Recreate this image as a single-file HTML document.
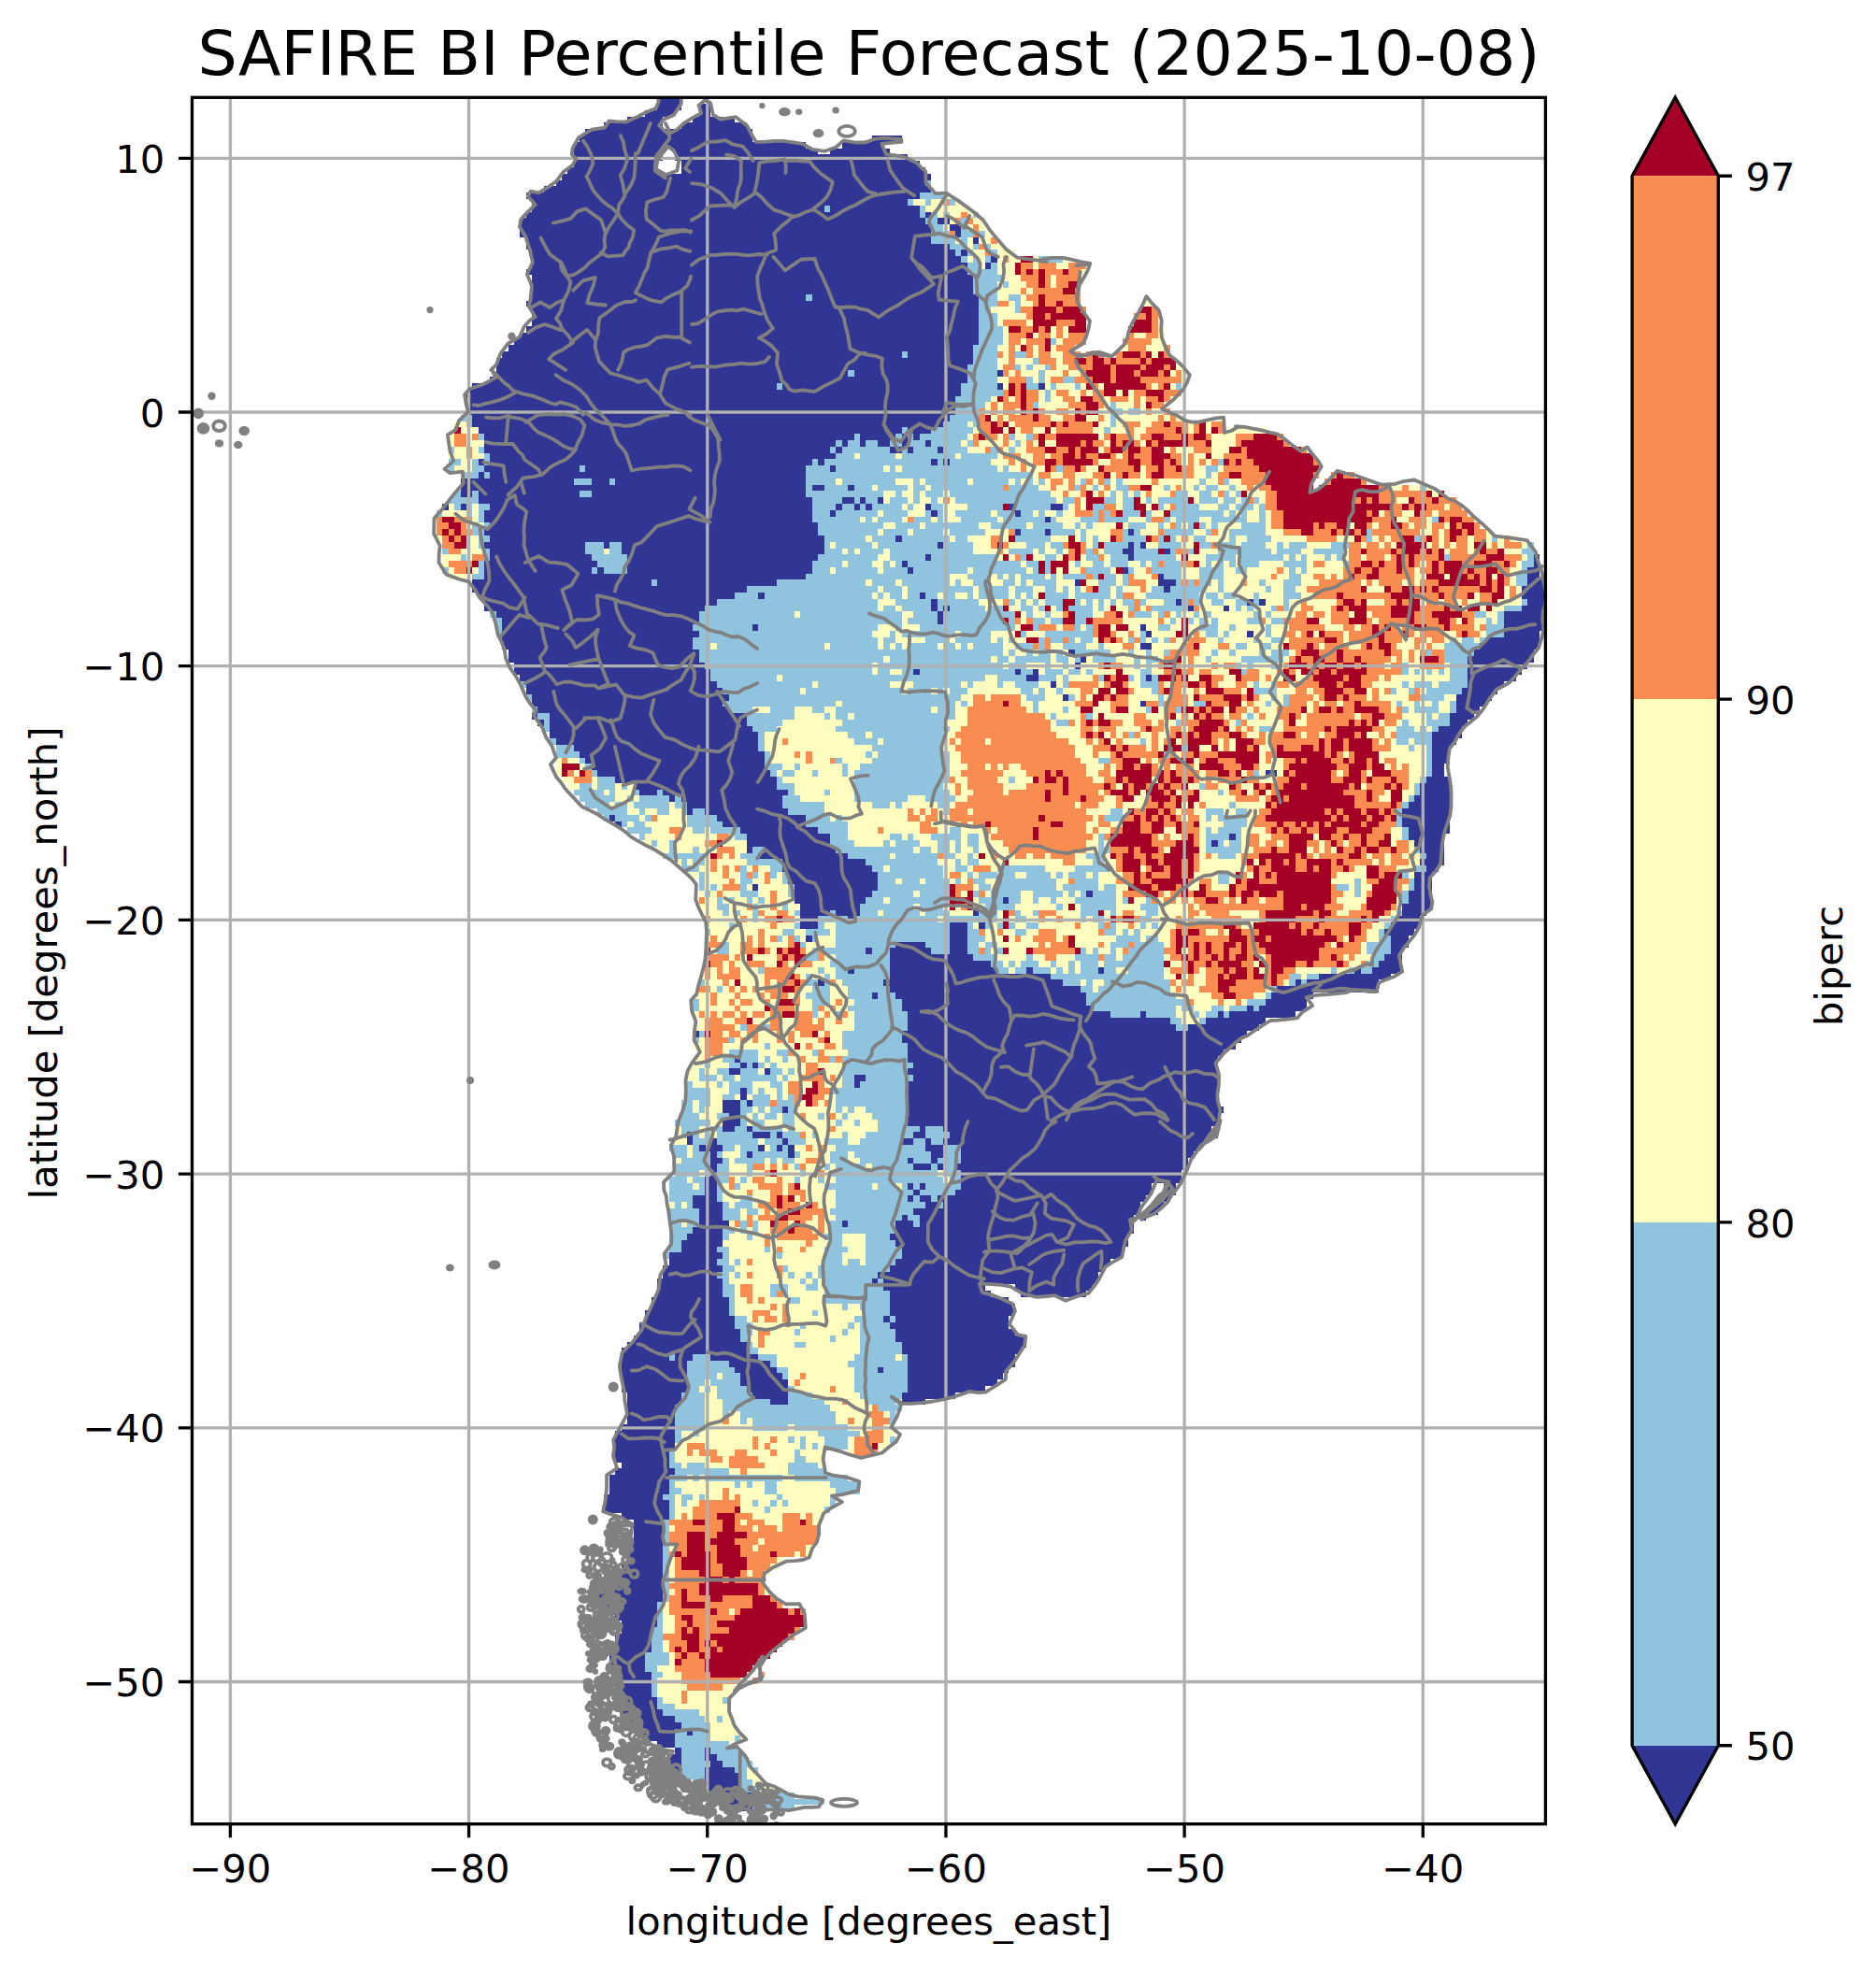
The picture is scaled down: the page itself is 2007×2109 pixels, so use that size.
<!DOCTYPE html>
<html lang="en"><head><meta charset="utf-8"><title>SAFIRE BI Percentile Forecast (2025-10-08)</title>
<style>html,body{margin:0;padding:0;background:#fff}body{width:2007px;height:2109px;overflow:hidden}svg{display:block}text{font-family:"DejaVu Sans","Liberation Sans",sans-serif;fill:#000}</style></head><body>
<svg width="2007" height="2109" viewBox="0 0 2007 2109">
<rect width="2007" height="2109" fill="#fff"/>
<defs><clipPath id="axclip"><rect x="205.50" y="104.30" width="1447.90" height="1847.40"/></clipPath></defs>
<g clip-path="url(#axclip)">
<g id="mesh"><g transform="translate(205.500 104.300) scale(6.37841 6.79191)" shape-rendering="crispEdges"><path fill="#313695" d="M78 0h4v1h-4zM78 1h4v1h-4zM85 1h2v1h-2zM76 2h5v1h-5zM85 2h2v1h-2zM73 3h6v1h-6zM84 3h7v1h-7zM69 4h10v1h-10zM82 4h11v1h-11zM66 5h28v1h-28zM65 6h29v1h-29zM114 6h5v1h-5zM64 7h39v1h-39zM109 7h7v1h-7zM64 8h15v1h-15zM81 8h24v1h-24zM107 8h10v1h-10zM64 9h15v1h-15zM81 9h39v1h-39zM64 10h14v1h-14zM82 10h40v1h-40zM63 11h15v1h-15zM82 11h41v1h-41zM62 12h62v1h-62zM61 13h62v1h-62zM59 14h65v1h-65zM56 15h66v1h-66zM57 16h63v1h-63zM57 17h49v1h-49zM107 17h15v1h-15zM56 18h66v1h-66zM123 18h1v1h-1zM55 19h68v1h-68zM125 19h2v1h-2zM55 20h69v1h-69zM127 20h2v1h-2zM55 21h69v1h-69zM128 21h1v1h-1zM56 22h68v1h-68zM131 22h1v1h-1zM56 23h71v1h-71zM57 24h71v1h-71zM129 24h1v1h-1zM57 25h72v1h-72zM134 25h1v1h-1zM57 26h73v1h-73zM133 26h1v1h-1zM56 27h74v1h-74zM57 28h74v1h-74zM57 29h74v1h-74zM57 30h74v1h-74zM57 31h46v1h-46zM104 31h28v1h-28zM56 32h76v1h-76zM57 33h75v1h-75zM57 34h75v1h-75zM57 35h75v1h-75zM56 36h76v1h-76zM55 37h77v1h-77zM54 38h78v1h-78zM53 39h78v1h-78zM52 40h67v1h-67zM120 40h11v1h-11zM51 41h80v1h-80zM51 42h79v1h-79zM51 43h59v1h-59zM111 43h19v1h-19zM135 43h1v1h-1zM50 44h80v1h-80zM47 45h51v1h-51zM99 45h30v1h-30zM135 45h1v1h-1zM142 45h1v1h-1zM46 46h83v1h-83zM46 47h82v1h-82zM46 48h82v1h-82zM46 49h82v1h-82zM47 50h80v1h-80zM47 51h79v1h-79zM48 52h71v1h-71zM120 52h4v1h-4zM49 53h62v1h-62zM112 53h6v1h-6zM119 53h1v1h-1zM121 53h1v1h-1zM49 54h59v1h-59zM109 54h1v1h-1zM112 54h1v1h-1zM115 54h2v1h-2zM119 54h1v1h-1zM123 54h1v1h-1zM49 55h58v1h-58zM108 55h1v1h-1zM117 55h2v1h-2zM120 55h1v1h-1zM125 55h1v1h-1zM50 56h58v1h-58zM48 57h1v1h-1zM50 57h54v1h-54zM105 57h1v1h-1zM124 57h1v1h-1zM126 57h1v1h-1zM49 58h16v1h-16zM66 58h37v1h-37zM107 58h1v1h-1zM48 59h1v1h-1zM50 59h53v1h-53zM45 60h19v1h-19zM67 60h3v1h-3zM71 60h32v1h-32zM45 61h58v1h-58zM104 61h2v1h-2zM110 61h1v1h-1zM45 62h2v1h-2zM48 62h17v1h-17zM67 62h36v1h-36zM48 63h56v1h-56zM109 63h2v1h-2zM112 63h1v1h-1zM115 63h1v1h-1zM42 64h1v1h-1zM45 64h1v1h-1zM50 64h54v1h-54zM108 64h1v1h-1zM111 64h1v1h-1zM113 64h1v1h-1zM123 64h1v1h-1zM137 64h1v1h-1zM144 64h2v1h-2zM49 65h55v1h-55zM107 65h1v1h-1zM124 65h1v1h-1zM138 65h1v1h-1zM49 66h55v1h-55zM143 66h1v1h-1zM50 67h55v1h-55zM49 68h56v1h-56zM138 68h1v1h-1zM143 68h1v1h-1zM157 68h1v1h-1zM50 69h56v1h-56zM118 69h1v1h-1zM49 70h17v1h-17zM69 70h1v1h-1zM72 70h34v1h-34zM125 70h1v1h-1zM157 70h1v1h-1zM159 70h1v1h-1zM50 71h16v1h-16zM72 71h34v1h-34zM156 71h2v1h-2zM163 71h1v1h-1zM50 72h17v1h-17zM73 72h32v1h-32zM123 72h1v1h-1zM157 72h1v1h-1zM225 72h1v1h-1zM49 73h19v1h-19zM73 73h31v1h-31zM119 73h1v1h-1zM225 73h1v1h-1zM49 74h18v1h-18zM68 74h1v1h-1zM73 74h31v1h-31zM120 74h1v1h-1zM156 74h1v1h-1zM224 74h2v1h-2zM49 75h54v1h-54zM162 75h1v1h-1zM224 75h2v1h-2zM47 76h30v1h-30zM78 76h20v1h-20zM148 76h1v1h-1zM162 76h3v1h-3zM224 76h3v1h-3zM47 77h46v1h-46zM163 77h1v1h-1zM223 77h4v1h-4zM48 78h43v1h-43zM95 78h1v1h-1zM122 78h1v1h-1zM223 78h4v1h-4zM49 79h39v1h-39zM124 79h1v1h-1zM165 79h1v1h-1zM177 79h1v1h-1zM179 79h1v1h-1zM224 79h3v1h-3zM49 80h37v1h-37zM124 80h1v1h-1zM126 80h1v1h-1zM167 80h1v1h-1zM173 80h1v1h-1zM223 80h4v1h-4zM51 81h34v1h-34zM125 81h1v1h-1zM220 81h7v1h-7zM52 82h33v1h-33zM125 82h1v1h-1zM220 82h7v1h-7zM52 83h32v1h-32zM94 83h1v1h-1zM159 83h1v1h-1zM220 83h7v1h-7zM52 84h33v1h-33zM160 84h1v1h-1zM177 84h1v1h-1zM220 84h6v1h-6zM52 85h32v1h-32zM217 85h9v1h-9zM52 86h32v1h-32zM159 86h2v1h-2zM216 86h10v1h-10zM53 87h32v1h-32zM147 87h1v1h-1zM215 87h10v1h-10zM53 88h32v1h-32zM149 88h1v1h-1zM214 88h11v1h-11zM54 89h32v1h-32zM148 89h1v1h-1zM214 89h10v1h-10zM54 90h33v1h-33zM121 90h1v1h-1zM138 90h1v1h-1zM141 90h1v1h-1zM214 90h9v1h-9zM55 91h32v1h-32zM140 91h2v1h-2zM160 91h1v1h-1zM214 91h8v1h-8zM56 92h32v1h-32zM144 92h1v1h-1zM214 92h6v1h-6zM56 93h33v1h-33zM213 93h6v1h-6zM57 94h33v1h-33zM146 94h1v1h-1zM212 94h6v1h-6zM57 95h32v1h-32zM159 95h1v1h-1zM212 95h5v1h-5zM58 96h32v1h-32zM212 96h4v1h-4zM57 97h1v1h-1zM60 97h33v1h-33zM211 97h4v1h-4zM58 98h1v1h-1zM60 98h33v1h-33zM211 98h3v1h-3zM60 99h34v1h-34zM209 99h4v1h-4zM60 100h35v1h-35zM208 100h5v1h-5zM61 101h34v1h-34zM208 101h4v1h-4zM64 102h31v1h-31zM208 102h3v1h-3zM65 103h31v1h-31zM208 103h3v1h-3zM66 104h30v1h-30zM208 104h3v1h-3zM67 105h29v1h-29zM208 105h2v1h-2zM68 106h29v1h-29zM180 106h2v1h-2zM208 106h2v1h-2zM71 107h27v1h-27zM207 107h4v1h-4zM74 108h24v1h-24zM206 108h5v1h-5zM75 109h3v1h-3zM79 109h21v1h-21zM206 109h5v1h-5zM80 110h1v1h-1zM82 110h17v1h-17zM205 110h6v1h-6zM83 111h16v1h-16zM204 111h7v1h-7zM83 112h1v1h-1zM86 112h14v1h-14zM203 112h8v1h-8zM70 113h1v1h-1zM88 113h15v1h-15zM203 113h8v1h-8zM71 114h1v1h-1zM89 114h14v1h-14zM203 114h8v1h-8zM92 115h13v1h-13zM204 115h7v1h-7zM93 116h14v1h-14zM174 116h1v1h-1zM204 116h6v1h-6zM93 117h14v1h-14zM171 117h1v1h-1zM205 117h5v1h-5zM93 118h1v1h-1zM96 118h12v1h-12zM206 118h4v1h-4zM95 119h15v1h-15zM207 119h3v1h-3zM99 120h14v1h-14zM206 120h4v1h-4zM99 121h15v1h-15zM207 121h2v1h-2zM100 122h15v1h-15zM205 122h3v1h-3zM100 123h15v1h-15zM205 123h3v1h-3zM94 124h1v1h-1zM101 124h14v1h-14zM205 124h3v1h-3zM101 125h13v1h-13zM150 125h1v1h-1zM204 125h4v1h-4zM101 126h12v1h-12zM136 126h1v1h-1zM204 126h4v1h-4zM102 127h10v1h-10zM203 127h5v1h-5zM102 128h5v1h-5zM108 128h4v1h-4zM131 128h1v1h-1zM203 128h4v1h-4zM102 129h3v1h-3zM110 129h1v1h-1zM202 129h4v1h-4zM102 130h3v1h-3zM127 130h3v1h-3zM132 130h1v1h-1zM201 130h5v1h-5zM127 131h3v1h-3zM200 131h5v1h-5zM103 132h1v1h-1zM127 132h3v1h-3zM201 132h3v1h-3zM118 133h5v1h-5zM127 133h3v1h-3zM201 133h3v1h-3zM113 134h1v1h-1zM117 134h7v1h-7zM127 134h3v1h-3zM201 134h2v1h-2zM117 135h14v1h-14zM200 135h3v1h-3zM117 136h17v1h-17zM199 136h4v1h-4zM110 137h1v1h-1zM117 137h18v1h-18zM140 137h1v1h-1zM152 137h1v1h-1zM195 137h1v1h-1zM198 137h5v1h-5zM117 138h27v1h-27zM189 138h12v1h-12zM105 139h1v1h-1zM116 139h30v1h-30zM185 139h1v1h-1zM187 139h12v1h-12zM117 140h32v1h-32zM182 140h17v1h-17zM114 141h1v1h-1zM118 141h32v1h-32zM181 141h7v1h-7zM119 142h31v1h-31zM180 142h7v1h-7zM119 143h32v1h-32zM177 143h1v1h-1zM179 143h8v1h-8zM120 144h34v1h-34zM159 144h1v1h-1zM172 144h1v1h-1zM174 144h11v1h-11zM120 145h44v1h-44zM170 145h10v1h-10zM120 146h45v1h-45zM167 146h12v1h-12zM84 147h1v1h-1zM119 147h58v1h-58zM119 148h57v1h-57zM120 149h55v1h-55zM120 150h53v1h-53zM91 151h1v1h-1zM120 151h52v1h-52zM92 152h1v1h-1zM94 152h1v1h-1zM121 152h51v1h-51zM90 153h2v1h-2zM96 153h1v1h-1zM120 153h52v1h-52zM111 154h2v1h-2zM121 154h51v1h-51zM111 155h1v1h-1zM120 155h52v1h-52zM92 156h1v1h-1zM120 156h52v1h-52zM92 157h1v1h-1zM120 157h52v1h-52zM89 158h3v1h-3zM93 158h1v1h-1zM120 158h52v1h-52zM89 159h3v1h-3zM99 159h1v1h-1zM120 159h53v1h-53zM90 160h2v1h-2zM120 160h52v1h-52zM89 161h3v1h-3zM120 161h52v1h-52zM89 162h2v1h-2zM93 162h1v1h-1zM122 162h1v1h-1zM126 162h45v1h-45zM83 163h1v1h-1zM94 163h3v1h-3zM98 163h1v1h-1zM121 163h2v1h-2zM127 163h45v1h-45zM83 164h1v1h-1zM87 164h1v1h-1zM99 164h1v1h-1zM119 164h2v1h-2zM123 164h1v1h-1zM126 164h44v1h-44zM85 165h4v1h-4zM95 165h1v1h-1zM98 165h1v1h-1zM100 165h1v1h-1zM123 165h3v1h-3zM129 165h40v1h-40zM87 166h1v1h-1zM93 166h1v1h-1zM100 166h1v1h-1zM124 166h2v1h-2zM129 166h39v1h-39zM87 167h2v1h-2zM120 167h1v1h-1zM124 167h1v1h-1zM129 167h38v1h-38zM87 168h1v1h-1zM121 168h3v1h-3zM125 168h1v1h-1zM128 168h39v1h-39zM87 169h1v1h-1zM129 169h37v1h-37zM86 170h2v1h-2zM129 170h37v1h-37zM86 171h2v1h-2zM120 171h1v1h-1zM122 171h1v1h-1zM129 171h32v1h-32zM163 171h2v1h-2zM86 172h2v1h-2zM121 172h1v1h-1zM128 172h33v1h-33zM163 172h2v1h-2zM84 173h4v1h-4zM120 173h1v1h-1zM122 173h2v1h-2zM125 173h35v1h-35zM163 173h1v1h-1zM84 174h5v1h-5zM123 174h2v1h-2zM126 174h33v1h-33zM161 174h2v1h-2zM85 175h4v1h-4zM121 175h38v1h-38zM160 175h2v1h-2zM85 176h4v1h-4zM119 176h1v1h-1zM122 176h36v1h-36zM159 176h1v1h-1zM85 177h5v1h-5zM109 177h1v1h-1zM118 177h3v1h-3zM122 177h36v1h-36zM84 178h5v1h-5zM118 178h40v1h-40zM83 179h6v1h-6zM117 179h40v1h-40zM82 180h7v1h-7zM118 180h39v1h-39zM82 181h6v1h-6zM119 181h37v1h-37zM80 182h9v1h-9zM119 182h37v1h-37zM80 183h8v1h-8zM118 183h36v1h-36zM79 184h10v1h-10zM117 184h36v1h-36zM79 185h9v1h-9zM115 185h37v1h-37zM78 186h11v1h-11zM114 186h1v1h-1zM116 186h36v1h-36zM78 187h11v1h-11zM116 187h17v1h-17zM138 187h13v1h-13zM78 188h11v1h-11zM117 188h17v1h-17zM139 188h11v1h-11zM77 189h13v1h-13zM117 189h20v1h-20zM77 190h13v1h-13zM117 190h21v1h-21zM76 191h14v1h-14zM117 191h21v1h-21zM76 192h15v1h-15zM116 192h1v1h-1zM118 192h19v1h-19zM75 193h16v1h-16zM117 193h20v1h-20zM75 194h17v1h-17zM118 194h20v1h-20zM74 195h18v1h-18zM118 195h22v1h-22zM73 196h20v1h-20zM119 196h21v1h-21zM72 197h21v1h-21zM119 197h20v1h-20zM72 198h8v1h-8zM81 198h3v1h-3zM87 198h8v1h-8zM120 198h18v1h-18zM72 199h11v1h-11zM90 199h7v1h-7zM120 199h18v1h-18zM72 200h11v1h-11zM91 200h7v1h-7zM115 200h1v1h-1zM120 200h17v1h-17zM72 201h11v1h-11zM92 201h7v1h-7zM120 201h16v1h-16zM72 202h11v1h-11zM92 202h8v1h-8zM120 202h15v1h-15zM72 203h11v1h-11zM93 203h7v1h-7zM120 203h13v1h-13zM73 204h9v1h-9zM94 204h6v1h-6zM119 204h9v1h-9zM73 205h9v1h-9zM97 205h3v1h-3zM119 205h4v1h-4zM73 206h8v1h-8zM73 207h8v1h-8zM73 208h8v1h-8zM72 209h9v1h-9zM71 210h10v1h-10zM71 211h10v1h-10zM71 212h10v1h-10zM71 213h9v1h-9zM71 214h9v1h-9zM72 215h8v1h-8zM71 216h10v1h-10zM70 217h10v1h-10zM70 218h10v1h-10zM70 219h10v1h-10zM69 220h10v1h-10zM69 221h11v1h-11zM69 222h11v1h-11zM72 223h8v1h-8zM74 224h5v1h-5zM74 225h5v1h-5zM74 226h5v1h-5zM73 227h6v1h-6zM73 228h6v1h-6zM73 229h6v1h-6zM73 230h6v1h-6zM72 231h7v1h-7zM71 232h8v1h-8zM70 233h9v1h-9zM68 234h11v1h-11zM67 235h12v1h-12zM67 236h12v1h-12zM69 237h9v1h-9zM70 238h8v1h-8zM71 239h7v1h-7zM72 240h6v1h-6zM72 241h5v1h-5zM71 242h6v1h-6zM71 243h6v1h-6zM71 244h6v1h-6zM70 245h6v1h-6zM70 246h6v1h-6zM70 247h6v1h-6zM72 248h5v1h-5zM72 249h5v1h-5zM71 250h6v1h-6zM71 251h6v1h-6zM72 252h6v1h-6zM72 253h6v1h-6zM72 254h7v1h-7zM73 255h8v1h-8zM74 256h8v1h-8zM75 257h6v1h-6zM83 257h1v1h-1zM76 258h5v1h-5zM78 259h3v1h-3zM81 260h1v1h-1zM86 260h1v1h-1zM80 261h2v1h-2zM86 261h2v1h-2zM80 262h2v1h-2zM87 262h2v1h-2zM80 263h2v1h-2zM86 263h5v1h-5zM81 264h1v1h-1zM86 264h6v1h-6zM86 265h6v1h-6zM86 266h6v1h-6zM86 267h8v1h-8zM88 268h6v1h-6zM91 269h3v1h-3z"/><path fill="#90c3dd" d="M123 13h1v1h-1zM122 15h4v1h-4zM120 16h1v1h-1zM123 16h1v1h-1zM127 16h1v1h-1zM106 17h1v1h-1zM122 17h1v1h-1zM122 18h1v1h-1zM124 18h1v1h-1zM126 18h1v1h-1zM131 18h1v1h-1zM123 19h2v1h-2zM129 19h1v1h-1zM124 20h2v1h-2zM129 20h1v1h-1zM124 21h3v1h-3zM129 21h2v1h-2zM132 21h1v1h-1zM124 22h4v1h-4zM129 22h1v1h-1zM127 23h3v1h-3zM131 23h1v1h-1zM133 23h1v1h-1zM128 24h1v1h-1zM130 24h1v1h-1zM134 24h1v1h-1zM129 25h1v1h-1zM131 25h1v1h-1zM133 25h1v1h-1zM142 25h4v1h-4zM130 26h2v1h-2zM134 26h1v1h-1zM130 27h5v1h-5zM131 28h5v1h-5zM131 29h4v1h-4zM136 29h1v1h-1zM131 30h4v1h-4zM103 31h1v1h-1zM132 31h3v1h-3zM137 31h2v1h-2zM132 32h3v1h-3zM138 32h1v1h-1zM132 33h2v1h-2zM138 33h1v1h-1zM132 34h3v1h-3zM132 35h3v1h-3zM132 36h4v1h-4zM132 37h4v1h-4zM132 38h4v1h-4zM144 38h1v1h-1zM131 39h4v1h-4zM119 40h1v1h-1zM131 40h4v1h-4zM138 40h2v1h-2zM131 41h4v1h-4zM141 41h1v1h-1zM130 42h5v1h-5zM138 42h1v1h-1zM140 42h1v1h-1zM143 42h1v1h-1zM110 43h1v1h-1zM130 43h5v1h-5zM142 43h1v1h-1zM130 44h5v1h-5zM140 44h1v1h-1zM142 44h1v1h-1zM146 44h2v1h-2zM98 45h1v1h-1zM129 45h6v1h-6zM140 45h2v1h-2zM144 45h1v1h-1zM148 45h1v1h-1zM165 45h1v1h-1zM129 46h7v1h-7zM143 46h1v1h-1zM128 47h6v1h-6zM143 47h1v1h-1zM128 48h5v1h-5zM141 48h1v1h-1zM154 48h1v1h-1zM128 49h4v1h-4zM154 49h2v1h-2zM157 49h2v1h-2zM45 50h2v1h-2zM127 50h5v1h-5zM154 50h1v1h-1zM46 51h1v1h-1zM126 51h4v1h-4zM131 51h1v1h-1zM154 51h1v1h-1zM119 52h1v1h-1zM124 52h7v1h-7zM153 52h1v1h-1zM48 53h1v1h-1zM111 53h1v1h-1zM118 53h1v1h-1zM120 53h1v1h-1zM122 53h8v1h-8zM137 53h1v1h-1zM140 53h1v1h-1zM108 54h1v1h-1zM110 54h2v1h-2zM113 54h2v1h-2zM117 54h2v1h-2zM120 54h3v1h-3zM124 54h5v1h-5zM130 54h1v1h-1zM138 54h1v1h-1zM43 55h1v1h-1zM48 55h1v1h-1zM107 55h1v1h-1zM109 55h8v1h-8zM119 55h1v1h-1zM121 55h4v1h-4zM126 55h4v1h-4zM134 55h1v1h-1zM137 55h1v1h-1zM49 56h1v1h-1zM108 56h3v1h-3zM112 56h6v1h-6zM119 56h9v1h-9zM129 56h6v1h-6zM43 57h2v1h-2zM47 57h1v1h-1zM49 57h1v1h-1zM104 57h1v1h-1zM106 57h18v1h-18zM125 57h1v1h-1zM127 57h7v1h-7zM172 57h1v1h-1zM43 58h1v1h-1zM47 58h2v1h-2zM65 58h1v1h-1zM103 58h4v1h-4zM108 58h8v1h-8zM117 58h1v1h-1zM119 58h16v1h-16zM136 58h1v1h-1zM145 58h1v1h-1zM170 58h2v1h-2zM45 59h3v1h-3zM49 59h1v1h-1zM103 59h38v1h-38zM170 59h1v1h-1zM64 60h3v1h-3zM70 60h1v1h-1zM103 60h5v1h-5zM109 60h9v1h-9zM121 60h1v1h-1zM123 60h7v1h-7zM131 60h6v1h-6zM138 60h1v1h-1zM140 60h1v1h-1zM142 60h1v1h-1zM149 60h1v1h-1zM153 60h1v1h-1zM155 60h1v1h-1zM169 60h1v1h-1zM173 60h1v1h-1zM103 61h1v1h-1zM106 61h4v1h-4zM111 61h3v1h-3zM115 61h5v1h-5zM121 61h2v1h-2zM124 61h12v1h-12zM137 61h5v1h-5zM148 61h1v1h-1zM151 61h1v1h-1zM155 61h2v1h-2zM163 61h1v1h-1zM168 61h1v1h-1zM170 61h2v1h-2zM174 61h1v1h-1zM206 61h1v1h-1zM44 62h1v1h-1zM47 62h1v1h-1zM65 62h2v1h-2zM103 62h13v1h-13zM118 62h1v1h-1zM121 62h1v1h-1zM123 62h3v1h-3zM127 62h17v1h-17zM154 62h1v1h-1zM156 62h1v1h-1zM158 62h1v1h-1zM165 62h2v1h-2zM169 62h2v1h-2zM173 62h1v1h-1zM175 62h1v1h-1zM43 63h5v1h-5zM104 63h5v1h-5zM111 63h1v1h-1zM113 63h2v1h-2zM117 63h3v1h-3zM121 63h1v1h-1zM124 63h1v1h-1zM128 63h17v1h-17zM146 63h2v1h-2zM153 63h2v1h-2zM156 63h2v1h-2zM160 63h1v1h-1zM162 63h5v1h-5zM169 63h3v1h-3zM173 63h2v1h-2zM176 63h1v1h-1zM178 63h1v1h-1zM44 64h1v1h-1zM46 64h1v1h-1zM48 64h2v1h-2zM104 64h4v1h-4zM109 64h2v1h-2zM112 64h1v1h-1zM114 64h5v1h-5zM120 64h1v1h-1zM124 64h2v1h-2zM130 64h6v1h-6zM138 64h6v1h-6zM146 64h1v1h-1zM151 64h2v1h-2zM156 64h2v1h-2zM162 64h1v1h-1zM165 64h4v1h-4zM172 64h2v1h-2zM175 64h3v1h-3zM179 64h1v1h-1zM41 65h1v1h-1zM46 65h1v1h-1zM48 65h1v1h-1zM104 65h3v1h-3zM108 65h7v1h-7zM116 65h4v1h-4zM123 65h1v1h-1zM125 65h1v1h-1zM128 65h6v1h-6zM135 65h3v1h-3zM139 65h2v1h-2zM142 65h1v1h-1zM145 65h1v1h-1zM151 65h1v1h-1zM153 65h1v1h-1zM156 65h3v1h-3zM160 65h1v1h-1zM164 65h9v1h-9zM174 65h1v1h-1zM176 65h1v1h-1zM179 65h1v1h-1zM48 66h1v1h-1zM104 66h8v1h-8zM113 66h1v1h-1zM115 66h4v1h-4zM121 66h3v1h-3zM125 66h1v1h-1zM129 66h6v1h-6zM136 66h7v1h-7zM144 66h1v1h-1zM149 66h3v1h-3zM153 66h4v1h-4zM160 66h1v1h-1zM163 66h1v1h-1zM165 66h4v1h-4zM171 66h6v1h-6zM179 66h1v1h-1zM208 66h1v1h-1zM47 67h1v1h-1zM49 67h1v1h-1zM105 67h11v1h-11zM118 67h4v1h-4zM123 67h9v1h-9zM134 67h6v1h-6zM141 67h5v1h-5zM148 67h1v1h-1zM150 67h1v1h-1zM157 67h3v1h-3zM162 67h1v1h-1zM165 67h1v1h-1zM167 67h1v1h-1zM169 67h1v1h-1zM171 67h1v1h-1zM176 67h4v1h-4zM47 68h2v1h-2zM105 68h10v1h-10zM116 68h4v1h-4zM121 68h5v1h-5zM127 68h6v1h-6zM139 68h4v1h-4zM144 68h4v1h-4zM149 68h1v1h-1zM156 68h1v1h-1zM158 68h1v1h-1zM163 68h5v1h-5zM170 68h1v1h-1zM174 68h6v1h-6zM197 68h1v1h-1zM48 69h2v1h-2zM106 69h7v1h-7zM114 69h4v1h-4zM119 69h8v1h-8zM128 69h2v1h-2zM138 69h6v1h-6zM149 69h1v1h-1zM151 69h1v1h-1zM156 69h4v1h-4zM162 69h1v1h-1zM164 69h1v1h-1zM168 69h2v1h-2zM174 69h1v1h-1zM177 69h4v1h-4zM197 69h1v1h-1zM205 69h1v1h-1zM218 69h1v1h-1zM48 70h1v1h-1zM66 70h3v1h-3zM70 70h2v1h-2zM106 70h1v1h-1zM108 70h6v1h-6zM115 70h10v1h-10zM126 70h5v1h-5zM140 70h3v1h-3zM144 70h2v1h-2zM151 70h1v1h-1zM153 70h4v1h-4zM158 70h1v1h-1zM162 70h4v1h-4zM169 70h2v1h-2zM172 70h3v1h-3zM176 70h4v1h-4zM182 70h1v1h-1zM184 70h3v1h-3zM191 70h3v1h-3zM224 70h1v1h-1zM42 71h1v1h-1zM49 71h1v1h-1zM66 71h3v1h-3zM70 71h2v1h-2zM106 71h3v1h-3zM110 71h1v1h-1zM112 71h4v1h-4zM117 71h14v1h-14zM137 71h4v1h-4zM142 71h1v1h-1zM145 71h1v1h-1zM150 71h1v1h-1zM153 71h3v1h-3zM158 71h4v1h-4zM164 71h1v1h-1zM167 71h1v1h-1zM172 71h9v1h-9zM182 71h4v1h-4zM188 71h5v1h-5zM223 71h2v1h-2zM45 72h1v1h-1zM49 72h1v1h-1zM67 72h6v1h-6zM105 72h10v1h-10zM117 72h6v1h-6zM124 72h11v1h-11zM139 72h1v1h-1zM143 72h2v1h-2zM150 72h2v1h-2zM154 72h3v1h-3zM158 72h7v1h-7zM170 72h5v1h-5zM176 72h7v1h-7zM184 72h1v1h-1zM186 72h1v1h-1zM190 72h1v1h-1zM192 72h1v1h-1zM210 72h1v1h-1zM224 72h1v1h-1zM48 73h1v1h-1zM68 73h5v1h-5zM104 73h5v1h-5zM110 73h4v1h-4zM116 73h1v1h-1zM118 73h1v1h-1zM120 73h19v1h-19zM140 73h2v1h-2zM143 73h1v1h-1zM148 73h1v1h-1zM151 73h2v1h-2zM154 73h3v1h-3zM159 73h1v1h-1zM161 73h1v1h-1zM163 73h3v1h-3zM170 73h1v1h-1zM172 73h1v1h-1zM174 73h1v1h-1zM176 73h3v1h-3zM183 73h4v1h-4zM193 73h1v1h-1zM223 73h2v1h-2zM42 74h1v1h-1zM48 74h1v1h-1zM67 74h1v1h-1zM69 74h4v1h-4zM104 74h3v1h-3zM108 74h7v1h-7zM116 74h4v1h-4zM121 74h9v1h-9zM131 74h9v1h-9zM141 74h1v1h-1zM143 74h1v1h-1zM150 74h4v1h-4zM157 74h1v1h-1zM161 74h5v1h-5zM169 74h4v1h-4zM175 74h2v1h-2zM184 74h1v1h-1zM186 74h1v1h-1zM223 74h1v1h-1zM47 75h2v1h-2zM103 75h24v1h-24zM130 75h4v1h-4zM135 75h1v1h-1zM137 75h1v1h-1zM139 75h4v1h-4zM144 75h1v1h-1zM146 75h4v1h-4zM151 75h1v1h-1zM153 75h2v1h-2zM156 75h1v1h-1zM163 75h3v1h-3zM169 75h4v1h-4zM184 75h2v1h-2zM222 75h2v1h-2zM77 76h1v1h-1zM98 76h15v1h-15zM114 76h4v1h-4zM119 76h8v1h-8zM128 76h1v1h-1zM131 76h3v1h-3zM136 76h2v1h-2zM139 76h1v1h-1zM141 76h4v1h-4zM152 76h3v1h-3zM156 76h1v1h-1zM165 76h1v1h-1zM167 76h1v1h-1zM169 76h2v1h-2zM172 76h1v1h-1zM179 76h1v1h-1zM183 76h3v1h-3zM222 76h2v1h-2zM93 77h22v1h-22zM116 77h3v1h-3zM120 77h11v1h-11zM132 77h5v1h-5zM138 77h3v1h-3zM143 77h2v1h-2zM146 77h1v1h-1zM148 77h1v1h-1zM152 77h2v1h-2zM155 77h1v1h-1zM161 77h2v1h-2zM164 77h6v1h-6zM172 77h1v1h-1zM180 77h1v1h-1zM183 77h2v1h-2zM91 78h4v1h-4zM96 78h18v1h-18zM115 78h1v1h-1zM117 78h2v1h-2zM120 78h2v1h-2zM123 78h2v1h-2zM126 78h2v1h-2zM130 78h1v1h-1zM132 78h5v1h-5zM138 78h1v1h-1zM140 78h1v1h-1zM143 78h4v1h-4zM148 78h6v1h-6zM155 78h1v1h-1zM160 78h9v1h-9zM170 78h2v1h-2zM173 78h2v1h-2zM178 78h1v1h-1zM183 78h3v1h-3zM88 79h27v1h-27zM118 79h6v1h-6zM125 79h7v1h-7zM137 79h1v1h-1zM139 79h1v1h-1zM141 79h1v1h-1zM143 79h3v1h-3zM148 79h1v1h-1zM150 79h1v1h-1zM152 79h1v1h-1zM154 79h1v1h-1zM156 79h2v1h-2zM159 79h1v1h-1zM163 79h2v1h-2zM166 79h1v1h-1zM168 79h1v1h-1zM171 79h2v1h-2zM175 79h2v1h-2zM178 79h1v1h-1zM183 79h1v1h-1zM223 79h1v1h-1zM86 80h29v1h-29zM116 80h2v1h-2zM119 80h5v1h-5zM125 80h1v1h-1zM127 80h6v1h-6zM134 80h2v1h-2zM139 80h2v1h-2zM142 80h1v1h-1zM145 80h1v1h-1zM147 80h4v1h-4zM152 80h1v1h-1zM157 80h1v1h-1zM161 80h6v1h-6zM175 80h1v1h-1zM177 80h1v1h-1zM181 80h1v1h-1zM183 80h1v1h-1zM220 80h3v1h-3zM50 81h1v1h-1zM85 81h16v1h-16zM102 81h17v1h-17zM121 81h4v1h-4zM126 81h12v1h-12zM140 81h1v1h-1zM143 81h1v1h-1zM148 81h3v1h-3zM158 81h3v1h-3zM162 81h1v1h-1zM165 81h1v1h-1zM168 81h1v1h-1zM170 81h1v1h-1zM178 81h1v1h-1zM180 81h1v1h-1zM215 81h2v1h-2zM219 81h1v1h-1zM51 82h1v1h-1zM85 82h34v1h-34zM120 82h5v1h-5zM126 82h10v1h-10zM137 82h1v1h-1zM141 82h2v1h-2zM144 82h2v1h-2zM148 82h2v1h-2zM164 82h1v1h-1zM167 82h1v1h-1zM169 82h1v1h-1zM171 82h1v1h-1zM177 82h2v1h-2zM181 82h2v1h-2zM217 82h1v1h-1zM219 82h1v1h-1zM51 83h1v1h-1zM84 83h10v1h-10zM95 83h20v1h-20zM118 83h1v1h-1zM122 83h16v1h-16zM141 83h1v1h-1zM148 83h1v1h-1zM150 83h1v1h-1zM162 83h2v1h-2zM169 83h3v1h-3zM174 83h1v1h-1zM180 83h1v1h-1zM217 83h3v1h-3zM51 84h1v1h-1zM85 84h29v1h-29zM117 84h1v1h-1zM119 84h9v1h-9zM129 84h5v1h-5zM139 84h1v1h-1zM143 84h8v1h-8zM159 84h1v1h-1zM170 84h2v1h-2zM173 84h1v1h-1zM180 84h1v1h-1zM217 84h3v1h-3zM84 85h31v1h-31zM116 85h2v1h-2zM123 85h4v1h-4zM128 85h6v1h-6zM135 85h1v1h-1zM137 85h1v1h-1zM142 85h1v1h-1zM144 85h2v1h-2zM147 85h1v1h-1zM149 85h2v1h-2zM157 85h1v1h-1zM159 85h1v1h-1zM161 85h1v1h-1zM163 85h1v1h-1zM172 85h1v1h-1zM178 85h1v1h-1zM181 85h2v1h-2zM211 85h1v1h-1zM213 85h2v1h-2zM216 85h1v1h-1zM84 86h3v1h-3zM88 86h18v1h-18zM107 86h8v1h-8zM116 86h1v1h-1zM118 86h1v1h-1zM120 86h5v1h-5zM126 86h2v1h-2zM129 86h1v1h-1zM131 86h5v1h-5zM138 86h3v1h-3zM142 86h1v1h-1zM146 86h4v1h-4zM152 86h1v1h-1zM175 86h2v1h-2zM179 86h2v1h-2zM210 86h6v1h-6zM85 87h51v1h-51zM137 87h1v1h-1zM140 87h1v1h-1zM142 87h2v1h-2zM145 87h1v1h-1zM148 87h6v1h-6zM157 87h1v1h-1zM160 87h1v1h-1zM163 87h1v1h-1zM171 87h1v1h-1zM174 87h1v1h-1zM179 87h1v1h-1zM181 87h3v1h-3zM207 87h1v1h-1zM210 87h5v1h-5zM85 88h31v1h-31zM117 88h17v1h-17zM135 88h2v1h-2zM138 88h6v1h-6zM145 88h2v1h-2zM148 88h1v1h-1zM151 88h4v1h-4zM158 88h1v1h-1zM160 88h2v1h-2zM170 88h1v1h-1zM176 88h7v1h-7zM210 88h4v1h-4zM86 89h28v1h-28zM115 89h21v1h-21zM137 89h3v1h-3zM143 89h1v1h-1zM146 89h1v1h-1zM158 89h1v1h-1zM160 89h1v1h-1zM175 89h1v1h-1zM177 89h1v1h-1zM181 89h1v1h-1zM203 89h1v1h-1zM211 89h3v1h-3zM87 90h27v1h-27zM115 90h2v1h-2zM119 90h2v1h-2zM122 90h16v1h-16zM139 90h2v1h-2zM143 90h3v1h-3zM147 90h2v1h-2zM150 90h1v1h-1zM159 90h2v1h-2zM176 90h1v1h-1zM203 90h1v1h-1zM205 90h1v1h-1zM207 90h1v1h-1zM209 90h1v1h-1zM211 90h3v1h-3zM87 91h11v1h-11zM99 91h34v1h-34zM135 91h5v1h-5zM142 91h3v1h-3zM146 91h1v1h-1zM152 91h1v1h-1zM157 91h1v1h-1zM159 91h1v1h-1zM161 91h1v1h-1zM211 91h3v1h-3zM55 92h1v1h-1zM88 92h16v1h-16zM105 92h12v1h-12zM121 92h8v1h-8zM130 92h1v1h-1zM135 92h1v1h-1zM138 92h4v1h-4zM146 92h1v1h-1zM159 92h3v1h-3zM178 92h1v1h-1zM181 92h1v1h-1zM203 92h1v1h-1zM205 92h3v1h-3zM209 92h5v1h-5zM89 93h13v1h-13zM103 93h16v1h-16zM120 93h4v1h-4zM125 93h1v1h-1zM127 93h3v1h-3zM139 93h2v1h-2zM142 93h1v1h-1zM145 93h1v1h-1zM161 93h1v1h-1zM178 93h4v1h-4zM201 93h1v1h-1zM204 93h1v1h-1zM207 93h6v1h-6zM56 94h1v1h-1zM90 94h39v1h-39zM140 94h3v1h-3zM147 94h1v1h-1zM162 94h1v1h-1zM181 94h1v1h-1zM183 94h1v1h-1zM206 94h4v1h-4zM89 95h19v1h-19zM109 95h19v1h-19zM129 95h1v1h-1zM141 95h1v1h-1zM162 95h1v1h-1zM168 95h2v1h-2zM180 95h1v1h-1zM183 95h1v1h-1zM202 95h1v1h-1zM205 95h1v1h-1zM208 95h1v1h-1zM211 95h1v1h-1zM57 96h1v1h-1zM90 96h4v1h-4zM97 96h4v1h-4zM104 96h2v1h-2zM108 96h16v1h-16zM125 96h3v1h-3zM141 96h1v1h-1zM146 96h1v1h-1zM160 96h1v1h-1zM165 96h1v1h-1zM203 96h1v1h-1zM205 96h4v1h-4zM211 96h1v1h-1zM58 97h2v1h-2zM93 97h8v1h-8zM106 97h1v1h-1zM108 97h2v1h-2zM111 97h17v1h-17zM144 97h1v1h-1zM150 97h1v1h-1zM177 97h1v1h-1zM207 97h1v1h-1zM209 97h2v1h-2zM59 98h1v1h-1zM93 98h6v1h-6zM109 98h17v1h-17zM145 98h2v1h-2zM165 98h1v1h-1zM175 98h1v1h-1zM203 98h1v1h-1zM207 98h4v1h-4zM59 99h1v1h-1zM94 99h4v1h-4zM108 99h19v1h-19zM179 99h2v1h-2zM202 99h3v1h-3zM206 99h1v1h-1zM208 99h1v1h-1zM95 100h1v1h-1zM110 100h3v1h-3zM114 100h12v1h-12zM157 100h1v1h-1zM202 100h6v1h-6zM60 101h1v1h-1zM95 101h1v1h-1zM111 101h4v1h-4zM116 101h10v1h-10zM159 101h1v1h-1zM202 101h2v1h-2zM205 101h3v1h-3zM61 102h3v1h-3zM95 102h1v1h-1zM114 102h12v1h-12zM166 102h1v1h-1zM204 102h1v1h-1zM207 102h1v1h-1zM61 103h4v1h-4zM96 103h1v1h-1zM113 103h1v1h-1zM115 103h12v1h-12zM163 103h1v1h-1zM207 103h1v1h-1zM65 104h1v1h-1zM96 104h1v1h-1zM108 104h1v1h-1zM114 104h13v1h-13zM152 104h2v1h-2zM207 104h1v1h-1zM66 105h1v1h-1zM96 105h3v1h-3zM101 105h1v1h-1zM109 105h1v1h-1zM112 105h15v1h-15zM207 105h1v1h-1zM67 106h1v1h-1zM97 106h1v1h-1zM99 106h2v1h-2zM104 106h1v1h-1zM109 106h1v1h-1zM111 106h16v1h-16zM178 106h1v1h-1zM207 106h1v1h-1zM68 107h3v1h-3zM98 107h1v1h-1zM111 107h16v1h-16zM137 107h1v1h-1zM206 107h1v1h-1zM65 108h2v1h-2zM68 108h3v1h-3zM72 108h1v1h-1zM98 108h3v1h-3zM111 108h15v1h-15zM169 108h1v1h-1zM205 108h1v1h-1zM64 109h5v1h-5zM70 109h1v1h-1zM74 109h1v1h-1zM78 109h1v1h-1zM100 109h1v1h-1zM106 109h1v1h-1zM111 109h16v1h-16zM172 109h1v1h-1zM205 109h1v1h-1zM65 110h6v1h-6zM73 110h1v1h-1zM75 110h5v1h-5zM81 110h1v1h-1zM99 110h3v1h-3zM111 110h9v1h-9zM123 110h5v1h-5zM204 110h1v1h-1zM66 111h4v1h-4zM71 111h2v1h-2zM74 111h6v1h-6zM81 111h2v1h-2zM99 111h7v1h-7zM114 111h3v1h-3zM118 111h1v1h-1zM125 111h2v1h-2zM174 111h1v1h-1zM203 111h1v1h-1zM68 112h5v1h-5zM75 112h1v1h-1zM78 112h2v1h-2zM82 112h1v1h-1zM84 112h2v1h-2zM100 112h6v1h-6zM126 112h1v1h-1zM154 112h2v1h-2zM170 112h3v1h-3zM175 112h2v1h-2zM202 112h1v1h-1zM69 113h1v1h-1zM71 113h4v1h-4zM76 113h1v1h-1zM83 113h5v1h-5zM103 113h4v1h-4zM108 113h1v1h-1zM153 113h3v1h-3zM170 113h1v1h-1zM172 113h5v1h-5zM202 113h1v1h-1zM72 114h1v1h-1zM74 114h2v1h-2zM83 114h6v1h-6zM103 114h7v1h-7zM173 114h4v1h-4zM202 114h1v1h-1zM73 115h4v1h-4zM84 115h2v1h-2zM87 115h5v1h-5zM105 115h5v1h-5zM127 115h2v1h-2zM170 115h1v1h-1zM172 115h4v1h-4zM203 115h1v1h-1zM75 116h1v1h-1zM91 116h2v1h-2zM107 116h3v1h-3zM117 116h2v1h-2zM120 116h1v1h-1zM124 116h5v1h-5zM130 116h2v1h-2zM152 116h1v1h-1zM170 116h4v1h-4zM175 116h1v1h-1zM203 116h1v1h-1zM77 117h1v1h-1zM80 117h1v1h-1zM107 117h4v1h-4zM116 117h1v1h-1zM118 117h4v1h-4zM125 117h2v1h-2zM128 117h1v1h-1zM130 117h2v1h-2zM152 117h1v1h-1zM170 117h1v1h-1zM172 117h1v1h-1zM174 117h2v1h-2zM80 118h1v1h-1zM84 118h1v1h-1zM94 118h2v1h-2zM108 118h13v1h-13zM122 118h2v1h-2zM125 118h2v1h-2zM128 118h1v1h-1zM131 118h1v1h-1zM152 118h2v1h-2zM170 118h6v1h-6zM205 118h1v1h-1zM79 119h7v1h-7zM92 119h3v1h-3zM110 119h7v1h-7zM118 119h7v1h-7zM126 119h2v1h-2zM130 119h1v1h-1zM150 119h3v1h-3zM172 119h3v1h-3zM206 119h1v1h-1zM82 120h1v1h-1zM84 120h2v1h-2zM93 120h6v1h-6zM113 120h12v1h-12zM128 120h1v1h-1zM130 120h2v1h-2zM151 120h2v1h-2zM82 121h3v1h-3zM92 121h1v1h-1zM97 121h2v1h-2zM114 121h2v1h-2zM117 121h9v1h-9zM128 121h2v1h-2zM135 121h8v1h-8zM148 121h6v1h-6zM205 121h2v1h-2zM85 122h1v1h-1zM92 122h1v1h-1zM94 122h1v1h-1zM97 122h1v1h-1zM99 122h1v1h-1zM115 122h11v1h-11zM130 122h1v1h-1zM132 122h3v1h-3zM136 122h2v1h-2zM140 122h4v1h-4zM145 122h1v1h-1zM147 122h3v1h-3zM151 122h1v1h-1zM172 122h2v1h-2zM203 122h1v1h-1zM85 123h1v1h-1zM92 123h2v1h-2zM99 123h1v1h-1zM115 123h3v1h-3zM119 123h3v1h-3zM123 123h4v1h-4zM128 123h1v1h-1zM131 123h2v1h-2zM135 123h10v1h-10zM148 123h4v1h-4zM172 123h2v1h-2zM195 123h1v1h-1zM204 123h1v1h-1zM85 124h1v1h-1zM87 124h1v1h-1zM92 124h1v1h-1zM100 124h1v1h-1zM115 124h12v1h-12zM132 124h2v1h-2zM135 124h10v1h-10zM146 124h6v1h-6zM153 124h2v1h-2zM192 124h2v1h-2zM195 124h1v1h-1zM204 124h1v1h-1zM86 125h1v1h-1zM92 125h3v1h-3zM100 125h1v1h-1zM114 125h7v1h-7zM122 125h5v1h-5zM131 125h1v1h-1zM134 125h5v1h-5zM141 125h5v1h-5zM147 125h1v1h-1zM149 125h1v1h-1zM151 125h4v1h-4zM195 125h1v1h-1zM203 125h1v1h-1zM88 126h1v1h-1zM90 126h1v1h-1zM93 126h1v1h-1zM95 126h1v1h-1zM113 126h3v1h-3zM117 126h10v1h-10zM132 126h4v1h-4zM137 126h2v1h-2zM141 126h1v1h-1zM144 126h1v1h-1zM148 126h7v1h-7zM156 126h1v1h-1zM160 126h1v1h-1zM203 126h1v1h-1zM88 127h2v1h-2zM94 127h1v1h-1zM99 127h1v1h-1zM112 127h9v1h-9zM122 127h4v1h-4zM133 127h5v1h-5zM145 127h1v1h-1zM149 127h6v1h-6zM159 127h3v1h-3zM89 128h1v1h-1zM91 128h1v1h-1zM94 128h1v1h-1zM101 128h1v1h-1zM107 128h1v1h-1zM112 128h3v1h-3zM116 128h6v1h-6zM123 128h4v1h-4zM132 128h3v1h-3zM138 128h1v1h-1zM141 128h1v1h-1zM149 128h3v1h-3zM154 128h1v1h-1zM160 128h2v1h-2zM202 128h1v1h-1zM94 129h1v1h-1zM105 129h5v1h-5zM111 129h14v1h-14zM126 129h9v1h-9zM138 129h2v1h-2zM149 129h1v1h-1zM151 129h2v1h-2zM159 129h2v1h-2zM201 129h1v1h-1zM90 130h1v1h-1zM101 130h1v1h-1zM105 130h1v1h-1zM108 130h19v1h-19zM130 130h1v1h-1zM133 130h1v1h-1zM135 130h1v1h-1zM137 130h1v1h-1zM140 130h2v1h-2zM152 130h1v1h-1zM154 130h1v1h-1zM159 130h1v1h-1zM161 130h1v1h-1zM200 130h1v1h-1zM86 131h1v1h-1zM99 131h2v1h-2zM103 131h4v1h-4zM108 131h19v1h-19zM130 131h2v1h-2zM138 131h2v1h-2zM153 131h2v1h-2zM156 131h1v1h-1zM158 131h1v1h-1zM199 131h1v1h-1zM98 132h1v1h-1zM101 132h1v1h-1zM104 132h1v1h-1zM108 132h19v1h-19zM130 132h3v1h-3zM155 132h4v1h-4zM160 132h2v1h-2zM199 132h2v1h-2zM89 133h1v1h-1zM102 133h1v1h-1zM108 133h10v1h-10zM123 133h4v1h-4zM130 133h2v1h-2zM133 133h2v1h-2zM154 133h3v1h-3zM158 133h5v1h-5zM197 133h4v1h-4zM88 134h2v1h-2zM104 134h1v1h-1zM106 134h7v1h-7zM114 134h3v1h-3zM124 134h3v1h-3zM130 134h2v1h-2zM133 134h1v1h-1zM135 134h1v1h-1zM149 134h1v1h-1zM151 134h1v1h-1zM154 134h1v1h-1zM157 134h6v1h-6zM197 134h4v1h-4zM103 135h2v1h-2zM108 135h9v1h-9zM131 135h4v1h-4zM140 135h1v1h-1zM148 135h4v1h-4zM153 135h2v1h-2zM156 135h7v1h-7zM198 135h2v1h-2zM107 136h10v1h-10zM134 136h2v1h-2zM137 136h1v1h-1zM139 136h3v1h-3zM144 136h1v1h-1zM147 136h1v1h-1zM149 136h3v1h-3zM153 136h10v1h-10zM197 136h2v1h-2zM95 137h1v1h-1zM105 137h1v1h-1zM108 137h2v1h-2zM111 137h6v1h-6zM135 137h2v1h-2zM138 137h2v1h-2zM141 137h3v1h-3zM145 137h1v1h-1zM147 137h1v1h-1zM149 137h3v1h-3zM153 137h2v1h-2zM157 137h6v1h-6zM191 137h1v1h-1zM194 137h1v1h-1zM196 137h2v1h-2zM103 138h1v1h-1zM106 138h1v1h-1zM108 138h9v1h-9zM144 138h19v1h-19zM184 138h2v1h-2zM187 138h2v1h-2zM85 139h1v1h-1zM103 139h2v1h-2zM106 139h1v1h-1zM109 139h7v1h-7zM146 139h3v1h-3zM150 139h1v1h-1zM153 139h11v1h-11zM184 139h1v1h-1zM186 139h1v1h-1zM88 140h1v1h-1zM104 140h3v1h-3zM110 140h7v1h-7zM149 140h2v1h-2zM152 140h12v1h-12zM181 140h1v1h-1zM103 141h4v1h-4zM110 141h4v1h-4zM115 141h3v1h-3zM150 141h15v1h-15zM180 141h1v1h-1zM84 142h1v1h-1zM104 142h3v1h-3zM111 142h8v1h-8zM150 142h17v1h-17zM177 142h3v1h-3zM84 143h1v1h-1zM104 143h1v1h-1zM110 143h9v1h-9zM151 143h14v1h-14zM166 143h2v1h-2zM171 143h2v1h-2zM174 143h3v1h-3zM178 143h1v1h-1zM104 144h1v1h-1zM108 144h1v1h-1zM111 144h9v1h-9zM154 144h5v1h-5zM160 144h5v1h-5zM168 144h1v1h-1zM170 144h2v1h-2zM173 144h1v1h-1zM111 145h9v1h-9zM164 145h2v1h-2zM169 145h1v1h-1zM92 146h1v1h-1zM95 146h2v1h-2zM111 146h9v1h-9zM165 146h2v1h-2zM85 147h1v1h-1zM109 147h10v1h-10zM84 148h1v1h-1zM90 148h1v1h-1zM109 148h10v1h-10zM96 149h1v1h-1zM109 149h11v1h-11zM90 150h5v1h-5zM98 150h2v1h-2zM104 150h1v1h-1zM110 150h10v1h-10zM89 151h2v1h-2zM92 151h3v1h-3zM96 151h1v1h-1zM99 151h1v1h-1zM107 151h1v1h-1zM109 151h11v1h-11zM86 152h1v1h-1zM90 152h2v1h-2zM93 152h1v1h-1zM95 152h1v1h-1zM97 152h1v1h-1zM109 152h12v1h-12zM85 153h1v1h-1zM88 153h2v1h-2zM92 153h3v1h-3zM97 153h2v1h-2zM100 153h1v1h-1zM109 153h11v1h-11zM85 154h3v1h-3zM89 154h2v1h-2zM92 154h6v1h-6zM99 154h1v1h-1zM109 154h2v1h-2zM113 154h8v1h-8zM83 155h1v1h-1zM88 155h1v1h-1zM90 155h4v1h-4zM97 155h2v1h-2zM109 155h2v1h-2zM112 155h8v1h-8zM83 156h4v1h-4zM90 156h2v1h-2zM93 156h1v1h-1zM95 156h1v1h-1zM98 156h1v1h-1zM107 156h13v1h-13zM83 157h4v1h-4zM89 157h2v1h-2zM94 157h3v1h-3zM98 157h1v1h-1zM100 157h1v1h-1zM108 157h12v1h-12zM82 158h2v1h-2zM85 158h2v1h-2zM92 158h1v1h-1zM94 158h3v1h-3zM98 158h3v1h-3zM108 158h12v1h-12zM82 159h2v1h-2zM85 159h1v1h-1zM92 159h2v1h-2zM95 159h1v1h-1zM97 159h2v1h-2zM100 159h1v1h-1zM108 159h1v1h-1zM110 159h1v1h-1zM113 159h7v1h-7zM82 160h3v1h-3zM88 160h2v1h-2zM92 160h1v1h-1zM94 160h1v1h-1zM96 160h2v1h-2zM99 160h2v1h-2zM105 160h1v1h-1zM109 160h1v1h-1zM114 160h6v1h-6zM81 161h6v1h-6zM92 161h1v1h-1zM94 161h2v1h-2zM99 161h2v1h-2zM108 161h1v1h-1zM111 161h1v1h-1zM115 161h5v1h-5zM82 162h3v1h-3zM87 162h2v1h-2zM91 162h2v1h-2zM94 162h5v1h-5zM100 162h1v1h-1zM115 162h7v1h-7zM123 162h3v1h-3zM82 163h1v1h-1zM84 163h1v1h-1zM86 163h1v1h-1zM88 163h6v1h-6zM97 163h1v1h-1zM99 163h3v1h-3zM104 163h1v1h-1zM109 163h1v1h-1zM113 163h8v1h-8zM123 163h4v1h-4zM84 164h3v1h-3zM88 164h7v1h-7zM96 164h3v1h-3zM100 164h3v1h-3zM106 164h4v1h-4zM112 164h7v1h-7zM121 164h2v1h-2zM124 164h2v1h-2zM80 165h3v1h-3zM84 165h1v1h-1zM89 165h2v1h-2zM92 165h3v1h-3zM97 165h1v1h-1zM99 165h1v1h-1zM108 165h15v1h-15zM126 165h3v1h-3zM81 166h2v1h-2zM84 166h3v1h-3zM88 166h1v1h-1zM92 166h1v1h-1zM94 166h6v1h-6zM101 166h1v1h-1zM107 166h3v1h-3zM111 166h13v1h-13zM126 166h3v1h-3zM82 167h5v1h-5zM89 167h1v1h-1zM91 167h5v1h-5zM97 167h1v1h-1zM99 167h2v1h-2zM107 167h3v1h-3zM112 167h8v1h-8zM121 167h3v1h-3zM125 167h4v1h-4zM81 168h6v1h-6zM88 168h2v1h-2zM93 168h1v1h-1zM101 168h1v1h-1zM106 168h1v1h-1zM108 168h5v1h-5zM114 168h7v1h-7zM124 168h1v1h-1zM126 168h2v1h-2zM81 169h4v1h-4zM86 169h1v1h-1zM88 169h2v1h-2zM93 169h1v1h-1zM102 169h1v1h-1zM107 169h18v1h-18zM126 169h3v1h-3zM80 170h3v1h-3zM84 170h2v1h-2zM88 170h2v1h-2zM92 170h1v1h-1zM101 170h1v1h-1zM105 170h1v1h-1zM108 170h18v1h-18zM127 170h2v1h-2zM80 171h4v1h-4zM85 171h1v1h-1zM88 171h1v1h-1zM91 171h1v1h-1zM106 171h8v1h-8zM115 171h3v1h-3zM119 171h1v1h-1zM121 171h1v1h-1zM123 171h6v1h-6zM80 172h6v1h-6zM88 172h1v1h-1zM108 172h13v1h-13zM122 172h6v1h-6zM80 173h4v1h-4zM88 173h1v1h-1zM92 173h2v1h-2zM108 173h12v1h-12zM121 173h1v1h-1zM124 173h1v1h-1zM81 174h1v1h-1zM83 174h1v1h-1zM89 174h1v1h-1zM91 174h3v1h-3zM108 174h15v1h-15zM125 174h1v1h-1zM80 175h5v1h-5zM89 175h3v1h-3zM93 175h2v1h-2zM107 175h14v1h-14zM80 176h5v1h-5zM89 176h3v1h-3zM108 176h11v1h-11zM120 176h2v1h-2zM80 177h2v1h-2zM83 177h2v1h-2zM92 177h1v1h-1zM94 177h1v1h-1zM107 177h2v1h-2zM110 177h8v1h-8zM121 177h1v1h-1zM80 178h4v1h-4zM89 178h2v1h-2zM92 178h1v1h-1zM94 178h1v1h-1zM107 178h11v1h-11zM80 179h3v1h-3zM89 179h1v1h-1zM93 179h1v1h-1zM106 179h3v1h-3zM113 179h4v1h-4zM80 180h2v1h-2zM107 180h2v1h-2zM113 180h5v1h-5zM80 181h2v1h-2zM88 181h2v1h-2zM96 181h1v1h-1zM106 181h4v1h-4zM113 181h6v1h-6zM79 182h1v1h-1zM89 182h1v1h-1zM98 182h1v1h-1zM106 182h3v1h-3zM113 182h6v1h-6zM88 183h2v1h-2zM91 183h1v1h-1zM106 183h3v1h-3zM110 183h2v1h-2zM113 183h5v1h-5zM89 184h2v1h-2zM99 184h1v1h-1zM105 184h12v1h-12zM88 185h2v1h-2zM91 185h1v1h-1zM100 185h1v1h-1zM103 185h1v1h-1zM105 185h10v1h-10zM89 186h1v1h-1zM102 186h1v1h-1zM104 186h1v1h-1zM106 186h8v1h-8zM115 186h1v1h-1zM89 187h2v1h-2zM97 187h3v1h-3zM103 187h2v1h-2zM106 187h10v1h-10zM89 188h2v1h-2zM97 188h1v1h-1zM99 188h1v1h-1zM106 188h11v1h-11zM90 189h1v1h-1zM100 189h2v1h-2zM106 189h11v1h-11zM90 190h1v1h-1zM109 190h1v1h-1zM112 190h5v1h-5zM90 191h1v1h-1zM104 191h1v1h-1zM113 191h4v1h-4zM91 192h2v1h-2zM111 192h5v1h-5zM117 192h1v1h-1zM91 193h3v1h-3zM102 193h1v1h-1zM110 193h1v1h-1zM112 193h5v1h-5zM92 194h2v1h-2zM101 194h1v1h-1zM109 194h1v1h-1zM112 194h6v1h-6zM92 195h1v1h-1zM107 195h1v1h-1zM112 195h6v1h-6zM93 196h1v1h-1zM101 196h2v1h-2zM112 196h7v1h-7zM93 197h2v1h-2zM112 197h7v1h-7zM80 198h1v1h-1zM84 198h3v1h-3zM95 198h3v1h-3zM111 198h7v1h-7zM119 198h1v1h-1zM83 199h7v1h-7zM97 199h1v1h-1zM110 199h10v1h-10zM83 200h8v1h-8zM98 200h2v1h-2zM111 200h4v1h-4zM116 200h4v1h-4zM83 201h5v1h-5zM89 201h3v1h-3zM99 201h1v1h-1zM111 201h9v1h-9zM83 202h3v1h-3zM87 202h5v1h-5zM111 202h9v1h-9zM83 203h2v1h-2zM86 203h1v1h-1zM88 203h5v1h-5zM100 203h1v1h-1zM111 203h9v1h-9zM82 204h4v1h-4zM88 204h6v1h-6zM100 204h4v1h-4zM112 204h7v1h-7zM82 205h4v1h-4zM89 205h8v1h-8zM100 205h6v1h-6zM113 205h5v1h-5zM81 206h5v1h-5zM89 206h18v1h-18zM115 206h4v1h-4zM81 207h5v1h-5zM89 207h1v1h-1zM92 207h16v1h-16zM117 207h1v1h-1zM81 208h5v1h-5zM92 208h1v1h-1zM94 208h14v1h-14zM117 208h1v1h-1zM81 209h5v1h-5zM94 209h6v1h-6zM101 209h9v1h-9zM81 210h1v1h-1zM84 210h1v1h-1zM105 210h7v1h-7zM81 211h1v1h-1zM100 211h1v1h-1zM102 211h1v1h-1zM106 211h4v1h-4zM117 211h1v1h-1zM102 212h1v1h-1zM104 212h1v1h-1zM106 212h4v1h-4zM80 213h1v1h-1zM101 213h1v1h-1zM80 214h1v1h-1zM101 214h2v1h-2zM80 215h2v1h-2zM83 215h3v1h-3zM100 215h5v1h-5zM81 216h9v1h-9zM100 216h6v1h-6zM80 217h3v1h-3zM84 217h1v1h-1zM86 217h13v1h-13zM101 217h9v1h-9zM80 218h1v1h-1zM91 218h1v1h-1zM93 218h1v1h-1zM96 218h2v1h-2zM107 218h5v1h-5zM80 219h2v1h-2zM96 219h2v1h-2zM108 219h4v1h-4zM79 220h2v1h-2zM82 220h2v1h-2zM85 220h1v1h-1zM98 220h1v1h-1zM107 220h1v1h-1zM80 221h1v1h-1zM82 221h1v1h-1zM94 221h1v1h-1zM97 221h1v1h-1zM99 221h1v1h-1zM107 221h1v1h-1zM80 222h1v1h-1zM96 222h1v1h-1zM106 222h1v1h-1zM80 223h1v1h-1zM79 224h1v1h-1zM79 225h1v1h-1zM79 226h1v1h-1zM79 227h1v1h-1zM79 228h1v1h-1zM79 229h1v1h-1zM79 230h1v1h-1zM79 231h1v1h-1zM79 232h1v1h-1zM79 233h1v1h-1zM79 234h1v1h-1zM79 235h1v1h-1zM79 236h1v1h-1zM78 237h1v1h-1zM78 238h1v1h-1zM78 239h1v1h-1zM78 240h1v1h-1zM77 241h2v1h-2zM77 242h2v1h-2zM77 243h2v1h-2zM77 244h2v1h-2zM76 245h4v1h-4zM76 246h4v1h-4zM76 247h2v1h-2zM77 248h2v1h-2zM77 249h1v1h-1zM77 250h1v1h-1zM77 251h1v1h-1zM78 252h1v1h-1zM89 252h1v1h-1zM78 253h3v1h-3zM79 254h6v1h-6zM81 255h5v1h-5zM88 255h1v1h-1zM82 256h5v1h-5zM81 257h2v1h-2zM84 257h3v1h-3zM81 258h6v1h-6zM91 258h1v1h-1zM81 259h9v1h-9zM82 260h4v1h-4zM87 260h5v1h-5zM82 261h4v1h-4zM88 261h5v1h-5zM82 262h5v1h-5zM89 262h5v1h-5zM82 263h4v1h-4zM91 263h2v1h-2zM94 263h1v1h-1zM82 264h4v1h-4zM92 264h1v1h-1zM84 265h2v1h-2zM92 265h2v1h-2zM92 266h3v1h-3zM94 267h7v1h-7zM94 268h12v1h-12zM94 269h7v1h-7z"/><path fill="#fffebe" d="M126 15h1v1h-1zM121 16h2v1h-2zM124 16h2v1h-2zM128 16h1v1h-1zM123 17h7v1h-7zM125 18h1v1h-1zM127 18h2v1h-2zM130 18h1v1h-1zM127 19h1v1h-1zM131 19h2v1h-2zM126 20h1v1h-1zM130 20h1v1h-1zM132 20h1v1h-1zM133 21h1v1h-1zM128 22h1v1h-1zM130 22h1v1h-1zM132 22h2v1h-2zM130 23h1v1h-1zM134 23h2v1h-2zM131 24h2v1h-2zM135 24h3v1h-3zM130 25h1v1h-1zM132 25h1v1h-1zM135 25h1v1h-1zM137 25h2v1h-2zM141 25h1v1h-1zM146 25h1v1h-1zM132 26h1v1h-1zM135 26h3v1h-3zM141 26h1v1h-1zM145 26h2v1h-2zM135 27h3v1h-3zM149 27h1v1h-1zM136 28h3v1h-3zM144 28h1v1h-1zM135 29h1v1h-1zM137 29h3v1h-3zM144 29h1v1h-1zM135 30h4v1h-4zM140 30h1v1h-1zM135 31h2v1h-2zM139 31h1v1h-1zM137 32h1v1h-1zM139 32h2v1h-2zM160 32h1v1h-1zM134 33h4v1h-4zM135 34h5v1h-5zM135 35h1v1h-1zM140 35h1v1h-1zM136 36h1v1h-1zM144 36h1v1h-1zM146 36h1v1h-1zM162 36h1v1h-1zM136 37h1v1h-1zM141 37h1v1h-1zM144 37h1v1h-1zM146 37h1v1h-1zM158 37h2v1h-2zM162 37h1v1h-1zM136 38h1v1h-1zM139 38h1v1h-1zM145 38h1v1h-1zM161 38h2v1h-2zM135 39h2v1h-2zM138 39h1v1h-1zM141 39h1v1h-1zM144 39h1v1h-1zM156 39h1v1h-1zM160 39h3v1h-3zM136 40h1v1h-1zM141 40h1v1h-1zM144 40h2v1h-2zM161 40h1v1h-1zM135 41h2v1h-2zM138 41h3v1h-3zM145 41h1v1h-1zM135 42h1v1h-1zM139 42h1v1h-1zM141 42h2v1h-2zM145 42h2v1h-2zM165 42h1v1h-1zM137 43h1v1h-1zM139 43h3v1h-3zM143 43h3v1h-3zM147 43h2v1h-2zM164 43h1v1h-1zM166 43h1v1h-1zM135 44h2v1h-2zM141 44h1v1h-1zM143 44h1v1h-1zM166 44h1v1h-1zM136 45h1v1h-1zM143 45h1v1h-1zM145 45h3v1h-3zM149 45h1v1h-1zM152 45h1v1h-1zM161 45h1v1h-1zM164 45h1v1h-1zM142 46h1v1h-1zM144 46h1v1h-1zM147 46h2v1h-2zM150 46h1v1h-1zM155 46h1v1h-1zM157 46h1v1h-1zM134 47h1v1h-1zM137 47h1v1h-1zM142 47h1v1h-1zM144 47h2v1h-2zM148 47h1v1h-1zM153 47h1v1h-1zM157 47h1v1h-1zM159 47h1v1h-1zM164 47h1v1h-1zM133 48h1v1h-1zM135 48h1v1h-1zM142 48h5v1h-5zM153 48h1v1h-1zM155 48h3v1h-3zM159 48h1v1h-1zM133 49h1v1h-1zM135 49h1v1h-1zM138 49h1v1h-1zM143 49h2v1h-2zM147 49h1v1h-1zM152 49h2v1h-2zM156 49h1v1h-1zM159 49h1v1h-1zM161 49h2v1h-2zM134 50h1v1h-1zM136 50h1v1h-1zM144 50h2v1h-2zM150 50h2v1h-2zM153 50h1v1h-1zM155 50h7v1h-7zM163 50h1v1h-1zM165 50h1v1h-1zM172 50h1v1h-1zM44 51h2v1h-2zM130 51h1v1h-1zM137 51h1v1h-1zM152 51h2v1h-2zM155 51h1v1h-1zM159 51h2v1h-2zM167 51h1v1h-1zM170 51h1v1h-1zM45 52h3v1h-3zM131 52h1v1h-1zM136 52h1v1h-1zM138 52h1v1h-1zM141 52h2v1h-2zM144 52h1v1h-1zM151 52h2v1h-2zM154 52h3v1h-3zM158 52h2v1h-2zM167 52h1v1h-1zM170 52h1v1h-1zM174 52h6v1h-6zM43 53h1v1h-1zM46 53h1v1h-1zM130 53h1v1h-1zM135 53h1v1h-1zM138 53h2v1h-2zM152 53h1v1h-1zM158 53h1v1h-1zM171 53h4v1h-4zM43 54h1v1h-1zM46 54h3v1h-3zM129 54h1v1h-1zM132 54h4v1h-4zM137 54h1v1h-1zM139 54h1v1h-1zM141 54h1v1h-1zM143 54h2v1h-2zM153 54h1v1h-1zM159 54h1v1h-1zM171 54h4v1h-4zM44 55h2v1h-2zM47 55h1v1h-1zM130 55h3v1h-3zM136 55h1v1h-1zM138 55h2v1h-2zM152 55h1v1h-1zM163 55h1v1h-1zM165 55h3v1h-3zM171 55h3v1h-3zM43 56h3v1h-3zM47 56h2v1h-2zM111 56h1v1h-1zM118 56h1v1h-1zM128 56h1v1h-1zM135 56h1v1h-1zM139 56h2v1h-2zM143 56h1v1h-1zM155 56h1v1h-1zM166 56h1v1h-1zM168 56h2v1h-2zM171 56h2v1h-2zM45 57h2v1h-2zM134 57h3v1h-3zM138 57h1v1h-1zM140 57h1v1h-1zM152 57h2v1h-2zM166 57h1v1h-1zM168 57h1v1h-1zM170 57h1v1h-1zM44 58h3v1h-3zM116 58h1v1h-1zM118 58h1v1h-1zM135 58h1v1h-1zM137 58h2v1h-2zM140 58h3v1h-3zM150 58h2v1h-2zM159 58h1v1h-1zM168 58h2v1h-2zM172 58h1v1h-1zM141 59h1v1h-1zM144 59h2v1h-2zM148 59h3v1h-3zM154 59h1v1h-1zM159 59h1v1h-1zM168 59h2v1h-2zM171 59h1v1h-1zM108 60h1v1h-1zM118 60h3v1h-3zM122 60h1v1h-1zM130 60h1v1h-1zM137 60h1v1h-1zM139 60h1v1h-1zM141 60h1v1h-1zM143 60h1v1h-1zM146 60h1v1h-1zM148 60h1v1h-1zM151 60h1v1h-1zM154 60h1v1h-1zM156 60h5v1h-5zM162 60h7v1h-7zM170 60h2v1h-2zM174 60h2v1h-2zM114 61h1v1h-1zM120 61h1v1h-1zM123 61h1v1h-1zM142 61h2v1h-2zM145 61h2v1h-2zM150 61h1v1h-1zM152 61h1v1h-1zM154 61h1v1h-1zM161 61h2v1h-2zM164 61h1v1h-1zM166 61h2v1h-2zM169 61h1v1h-1zM172 61h2v1h-2zM175 61h2v1h-2zM178 61h1v1h-1zM201 61h2v1h-2zM204 61h2v1h-2zM207 61h1v1h-1zM116 62h2v1h-2zM119 62h2v1h-2zM122 62h1v1h-1zM126 62h1v1h-1zM144 62h2v1h-2zM147 62h2v1h-2zM151 62h1v1h-1zM153 62h1v1h-1zM155 62h1v1h-1zM157 62h1v1h-1zM159 62h1v1h-1zM161 62h3v1h-3zM167 62h2v1h-2zM171 62h1v1h-1zM174 62h1v1h-1zM177 62h3v1h-3zM208 62h1v1h-1zM116 63h1v1h-1zM120 63h1v1h-1zM122 63h2v1h-2zM125 63h1v1h-1zM127 63h1v1h-1zM145 63h1v1h-1zM149 63h1v1h-1zM155 63h1v1h-1zM159 63h1v1h-1zM161 63h1v1h-1zM168 63h1v1h-1zM172 63h1v1h-1zM175 63h1v1h-1zM179 63h1v1h-1zM202 63h2v1h-2zM43 64h1v1h-1zM47 64h1v1h-1zM119 64h1v1h-1zM121 64h2v1h-2zM126 64h4v1h-4zM147 64h1v1h-1zM149 64h1v1h-1zM155 64h1v1h-1zM160 64h1v1h-1zM163 64h1v1h-1zM169 64h3v1h-3zM174 64h1v1h-1zM178 64h1v1h-1zM210 64h1v1h-1zM42 65h4v1h-4zM47 65h1v1h-1zM115 65h1v1h-1zM120 65h3v1h-3zM126 65h2v1h-2zM134 65h1v1h-1zM141 65h1v1h-1zM143 65h2v1h-2zM146 65h2v1h-2zM161 65h2v1h-2zM173 65h1v1h-1zM175 65h1v1h-1zM177 65h2v1h-2zM180 65h1v1h-1zM199 65h1v1h-1zM203 65h2v1h-2zM208 65h1v1h-1zM47 66h1v1h-1zM112 66h1v1h-1zM114 66h1v1h-1zM119 66h1v1h-1zM124 66h1v1h-1zM126 66h3v1h-3zM135 66h1v1h-1zM145 66h4v1h-4zM157 66h3v1h-3zM164 66h1v1h-1zM169 66h2v1h-2zM177 66h2v1h-2zM180 66h1v1h-1zM202 66h2v1h-2zM207 66h1v1h-1zM46 67h1v1h-1zM48 67h1v1h-1zM116 67h2v1h-2zM122 67h1v1h-1zM132 67h2v1h-2zM140 67h1v1h-1zM146 67h2v1h-2zM149 67h1v1h-1zM151 67h4v1h-4zM156 67h1v1h-1zM160 67h2v1h-2zM163 67h1v1h-1zM166 67h1v1h-1zM170 67h1v1h-1zM172 67h4v1h-4zM180 67h1v1h-1zM194 67h1v1h-1zM198 67h1v1h-1zM204 67h1v1h-1zM207 67h1v1h-1zM210 67h1v1h-1zM115 68h1v1h-1zM120 68h1v1h-1zM126 68h1v1h-1zM133 68h4v1h-4zM148 68h1v1h-1zM150 68h4v1h-4zM159 68h3v1h-3zM168 68h2v1h-2zM172 68h2v1h-2zM180 68h3v1h-3zM206 68h2v1h-2zM209 68h1v1h-1zM217 68h1v1h-1zM41 69h1v1h-1zM46 69h2v1h-2zM113 69h1v1h-1zM127 69h1v1h-1zM130 69h4v1h-4zM136 69h1v1h-1zM144 69h3v1h-3zM148 69h1v1h-1zM150 69h1v1h-1zM152 69h2v1h-2zM165 69h1v1h-1zM167 69h1v1h-1zM170 69h4v1h-4zM175 69h2v1h-2zM181 69h6v1h-6zM192 69h3v1h-3zM198 69h1v1h-1zM200 69h1v1h-1zM209 69h1v1h-1zM214 69h1v1h-1zM217 69h1v1h-1zM219 69h1v1h-1zM221 69h1v1h-1zM46 70h2v1h-2zM107 70h1v1h-1zM114 70h1v1h-1zM131 70h3v1h-3zM137 70h3v1h-3zM143 70h1v1h-1zM150 70h1v1h-1zM160 70h2v1h-2zM166 70h2v1h-2zM175 70h1v1h-1zM180 70h2v1h-2zM183 70h1v1h-1zM187 70h4v1h-4zM196 70h1v1h-1zM199 70h1v1h-1zM201 70h1v1h-1zM207 70h1v1h-1zM209 70h1v1h-1zM211 70h1v1h-1zM214 70h1v1h-1zM217 70h1v1h-1zM219 70h1v1h-1zM223 70h1v1h-1zM45 71h4v1h-4zM69 71h1v1h-1zM109 71h1v1h-1zM111 71h1v1h-1zM116 71h1v1h-1zM131 71h4v1h-4zM136 71h1v1h-1zM141 71h1v1h-1zM143 71h2v1h-2zM146 71h1v1h-1zM152 71h1v1h-1zM169 71h3v1h-3zM181 71h1v1h-1zM186 71h2v1h-2zM193 71h1v1h-1zM210 71h1v1h-1zM214 71h1v1h-1zM220 71h3v1h-3zM42 72h3v1h-3zM46 72h1v1h-1zM115 72h2v1h-2zM135 72h1v1h-1zM137 72h1v1h-1zM141 72h2v1h-2zM145 72h1v1h-1zM149 72h1v1h-1zM153 72h1v1h-1zM165 72h1v1h-1zM167 72h3v1h-3zM175 72h1v1h-1zM183 72h1v1h-1zM185 72h1v1h-1zM187 72h3v1h-3zM191 72h1v1h-1zM193 72h1v1h-1zM196 72h1v1h-1zM200 72h1v1h-1zM223 72h1v1h-1zM42 73h1v1h-1zM109 73h1v1h-1zM114 73h2v1h-2zM117 73h1v1h-1zM139 73h1v1h-1zM147 73h1v1h-1zM149 73h2v1h-2zM153 73h1v1h-1zM157 73h2v1h-2zM160 73h1v1h-1zM169 73h1v1h-1zM171 73h1v1h-1zM173 73h1v1h-1zM175 73h1v1h-1zM179 73h4v1h-4zM187 73h1v1h-1zM190 73h3v1h-3zM206 73h1v1h-1zM222 73h1v1h-1zM43 74h1v1h-1zM47 74h1v1h-1zM107 74h1v1h-1zM115 74h1v1h-1zM130 74h1v1h-1zM140 74h1v1h-1zM145 74h1v1h-1zM147 74h2v1h-2zM154 74h1v1h-1zM158 74h2v1h-2zM166 74h3v1h-3zM173 74h2v1h-2zM177 74h5v1h-5zM183 74h1v1h-1zM185 74h1v1h-1zM187 74h6v1h-6zM205 74h1v1h-1zM221 74h2v1h-2zM43 75h4v1h-4zM127 75h3v1h-3zM134 75h1v1h-1zM136 75h1v1h-1zM138 75h1v1h-1zM143 75h1v1h-1zM145 75h1v1h-1zM155 75h1v1h-1zM158 75h3v1h-3zM166 75h3v1h-3zM173 75h8v1h-8zM182 75h2v1h-2zM186 75h2v1h-2zM190 75h1v1h-1zM192 75h1v1h-1zM205 75h2v1h-2zM210 75h1v1h-1zM218 75h1v1h-1zM221 75h1v1h-1zM113 76h1v1h-1zM118 76h1v1h-1zM127 76h1v1h-1zM129 76h2v1h-2zM134 76h2v1h-2zM138 76h1v1h-1zM140 76h1v1h-1zM145 76h3v1h-3zM150 76h2v1h-2zM155 76h1v1h-1zM160 76h2v1h-2zM171 76h1v1h-1zM173 76h3v1h-3zM177 76h2v1h-2zM180 76h3v1h-3zM186 76h3v1h-3zM196 76h1v1h-1zM198 76h1v1h-1zM203 76h1v1h-1zM205 76h1v1h-1zM221 76h1v1h-1zM115 77h1v1h-1zM119 77h1v1h-1zM131 77h1v1h-1zM137 77h1v1h-1zM141 77h2v1h-2zM145 77h1v1h-1zM147 77h1v1h-1zM149 77h1v1h-1zM154 77h1v1h-1zM156 77h3v1h-3zM160 77h1v1h-1zM170 77h2v1h-2zM173 77h7v1h-7zM181 77h2v1h-2zM185 77h2v1h-2zM197 77h3v1h-3zM220 77h1v1h-1zM222 77h1v1h-1zM114 78h1v1h-1zM116 78h1v1h-1zM119 78h1v1h-1zM125 78h1v1h-1zM128 78h2v1h-2zM131 78h1v1h-1zM137 78h1v1h-1zM139 78h1v1h-1zM141 78h1v1h-1zM147 78h1v1h-1zM154 78h1v1h-1zM158 78h2v1h-2zM169 78h1v1h-1zM172 78h1v1h-1zM175 78h3v1h-3zM179 78h4v1h-4zM186 78h2v1h-2zM215 78h1v1h-1zM220 78h1v1h-1zM222 78h1v1h-1zM115 79h3v1h-3zM132 79h4v1h-4zM138 79h1v1h-1zM140 79h1v1h-1zM142 79h1v1h-1zM149 79h1v1h-1zM151 79h1v1h-1zM153 79h1v1h-1zM155 79h1v1h-1zM160 79h3v1h-3zM169 79h2v1h-2zM173 79h2v1h-2zM180 79h3v1h-3zM184 79h2v1h-2zM187 79h5v1h-5zM197 79h3v1h-3zM206 79h1v1h-1zM209 79h1v1h-1zM212 79h1v1h-1zM214 79h2v1h-2zM219 79h4v1h-4zM115 80h1v1h-1zM118 80h1v1h-1zM133 80h1v1h-1zM137 80h2v1h-2zM141 80h1v1h-1zM144 80h1v1h-1zM151 80h1v1h-1zM153 80h1v1h-1zM155 80h2v1h-2zM159 80h1v1h-1zM169 80h4v1h-4zM174 80h1v1h-1zM176 80h1v1h-1zM178 80h3v1h-3zM184 80h2v1h-2zM188 80h3v1h-3zM213 80h1v1h-1zM216 80h1v1h-1zM218 80h2v1h-2zM101 81h1v1h-1zM119 81h2v1h-2zM139 81h1v1h-1zM141 81h2v1h-2zM144 81h2v1h-2zM151 81h2v1h-2zM156 81h1v1h-1zM161 81h1v1h-1zM164 81h1v1h-1zM166 81h2v1h-2zM169 81h1v1h-1zM171 81h7v1h-7zM179 81h1v1h-1zM181 81h4v1h-4zM187 81h1v1h-1zM190 81h1v1h-1zM194 81h1v1h-1zM197 81h1v1h-1zM217 81h2v1h-2zM119 82h1v1h-1zM139 82h1v1h-1zM143 82h1v1h-1zM156 82h6v1h-6zM163 82h1v1h-1zM165 82h1v1h-1zM168 82h1v1h-1zM170 82h1v1h-1zM172 82h5v1h-5zM180 82h1v1h-1zM189 82h2v1h-2zM198 82h1v1h-1zM212 82h1v1h-1zM215 82h2v1h-2zM218 82h1v1h-1zM115 83h3v1h-3zM119 83h3v1h-3zM138 83h1v1h-1zM145 83h1v1h-1zM149 83h1v1h-1zM154 83h1v1h-1zM157 83h2v1h-2zM160 83h2v1h-2zM164 83h2v1h-2zM167 83h2v1h-2zM172 83h2v1h-2zM175 83h5v1h-5zM181 83h3v1h-3zM190 83h3v1h-3zM195 83h1v1h-1zM202 83h1v1h-1zM215 83h1v1h-1zM114 84h3v1h-3zM118 84h1v1h-1zM128 84h1v1h-1zM134 84h4v1h-4zM140 84h3v1h-3zM155 84h2v1h-2zM158 84h1v1h-1zM161 84h4v1h-4zM167 84h1v1h-1zM169 84h1v1h-1zM172 84h1v1h-1zM174 84h3v1h-3zM178 84h2v1h-2zM181 84h2v1h-2zM185 84h1v1h-1zM188 84h1v1h-1zM193 84h1v1h-1zM205 84h1v1h-1zM210 84h2v1h-2zM216 84h1v1h-1zM115 85h1v1h-1zM118 85h5v1h-5zM127 85h1v1h-1zM134 85h1v1h-1zM136 85h1v1h-1zM138 85h2v1h-2zM148 85h1v1h-1zM151 85h1v1h-1zM156 85h1v1h-1zM160 85h1v1h-1zM162 85h1v1h-1zM165 85h2v1h-2zM170 85h2v1h-2zM173 85h5v1h-5zM179 85h2v1h-2zM183 85h1v1h-1zM193 85h1v1h-1zM203 85h2v1h-2zM207 85h1v1h-1zM210 85h1v1h-1zM212 85h1v1h-1zM215 85h1v1h-1zM87 86h1v1h-1zM106 86h1v1h-1zM115 86h1v1h-1zM117 86h1v1h-1zM119 86h1v1h-1zM125 86h1v1h-1zM128 86h1v1h-1zM130 86h1v1h-1zM136 86h2v1h-2zM144 86h2v1h-2zM150 86h2v1h-2zM153 86h3v1h-3zM158 86h1v1h-1zM161 86h5v1h-5zM169 86h3v1h-3zM174 86h1v1h-1zM177 86h2v1h-2zM181 86h2v1h-2zM189 86h1v1h-1zM194 86h2v1h-2zM202 86h3v1h-3zM206 86h1v1h-1zM208 86h2v1h-2zM136 87h1v1h-1zM138 87h2v1h-2zM141 87h1v1h-1zM144 87h1v1h-1zM146 87h1v1h-1zM154 87h3v1h-3zM158 87h2v1h-2zM161 87h2v1h-2zM169 87h2v1h-2zM172 87h2v1h-2zM175 87h4v1h-4zM180 87h1v1h-1zM184 87h1v1h-1zM203 87h1v1h-1zM205 87h1v1h-1zM116 88h1v1h-1zM134 88h1v1h-1zM137 88h1v1h-1zM144 88h1v1h-1zM147 88h1v1h-1zM150 88h1v1h-1zM155 88h3v1h-3zM159 88h1v1h-1zM162 88h1v1h-1zM166 88h1v1h-1zM168 88h2v1h-2zM171 88h5v1h-5zM183 88h1v1h-1zM201 88h1v1h-1zM203 88h1v1h-1zM205 88h1v1h-1zM114 89h1v1h-1zM136 89h1v1h-1zM140 89h3v1h-3zM144 89h2v1h-2zM147 89h1v1h-1zM149 89h3v1h-3zM156 89h2v1h-2zM159 89h1v1h-1zM161 89h1v1h-1zM166 89h1v1h-1zM168 89h3v1h-3zM172 89h1v1h-1zM176 89h1v1h-1zM178 89h3v1h-3zM182 89h1v1h-1zM200 89h1v1h-1zM204 89h2v1h-2zM210 89h1v1h-1zM114 90h1v1h-1zM117 90h2v1h-2zM142 90h1v1h-1zM146 90h1v1h-1zM149 90h1v1h-1zM151 90h4v1h-4zM156 90h3v1h-3zM161 90h2v1h-2zM168 90h1v1h-1zM171 90h3v1h-3zM179 90h3v1h-3zM185 90h1v1h-1zM204 90h1v1h-1zM206 90h1v1h-1zM208 90h1v1h-1zM210 90h1v1h-1zM98 91h1v1h-1zM133 91h2v1h-2zM145 91h1v1h-1zM147 91h4v1h-4zM158 91h1v1h-1zM167 91h2v1h-2zM173 91h2v1h-2zM179 91h1v1h-1zM181 91h2v1h-2zM185 91h2v1h-2zM199 91h1v1h-1zM201 91h10v1h-10zM104 92h1v1h-1zM117 92h4v1h-4zM129 92h1v1h-1zM131 92h4v1h-4zM136 92h2v1h-2zM142 92h2v1h-2zM145 92h1v1h-1zM152 92h1v1h-1zM157 92h2v1h-2zM163 92h1v1h-1zM172 92h3v1h-3zM177 92h1v1h-1zM179 92h2v1h-2zM184 92h1v1h-1zM198 92h5v1h-5zM204 92h1v1h-1zM208 92h1v1h-1zM102 93h1v1h-1zM119 93h1v1h-1zM124 93h1v1h-1zM126 93h1v1h-1zM130 93h9v1h-9zM141 93h1v1h-1zM143 93h2v1h-2zM146 93h3v1h-3zM151 93h1v1h-1zM154 93h1v1h-1zM158 93h3v1h-3zM166 93h2v1h-2zM169 93h1v1h-1zM176 93h1v1h-1zM182 93h3v1h-3zM187 93h1v1h-1zM197 93h1v1h-1zM199 93h1v1h-1zM202 93h2v1h-2zM206 93h1v1h-1zM129 94h2v1h-2zM133 94h1v1h-1zM139 94h1v1h-1zM143 94h3v1h-3zM148 94h1v1h-1zM150 94h1v1h-1zM157 94h5v1h-5zM163 94h1v1h-1zM167 94h1v1h-1zM179 94h2v1h-2zM182 94h1v1h-1zM188 94h1v1h-1zM197 94h1v1h-1zM199 94h5v1h-5zM210 94h2v1h-2zM108 95h1v1h-1zM128 95h1v1h-1zM130 95h1v1h-1zM139 95h2v1h-2zM142 95h6v1h-6zM152 95h2v1h-2zM157 95h2v1h-2zM167 95h1v1h-1zM176 95h1v1h-1zM178 95h2v1h-2zM181 95h2v1h-2zM187 95h1v1h-1zM189 95h1v1h-1zM192 95h1v1h-1zM201 95h1v1h-1zM203 95h2v1h-2zM206 95h2v1h-2zM209 95h2v1h-2zM94 96h3v1h-3zM101 96h3v1h-3zM106 96h2v1h-2zM124 96h1v1h-1zM128 96h2v1h-2zM140 96h1v1h-1zM142 96h4v1h-4zM147 96h2v1h-2zM151 96h3v1h-3zM157 96h3v1h-3zM162 96h1v1h-1zM173 96h1v1h-1zM177 96h1v1h-1zM179 96h3v1h-3zM187 96h1v1h-1zM201 96h1v1h-1zM204 96h1v1h-1zM209 96h2v1h-2zM101 97h5v1h-5zM107 97h1v1h-1zM110 97h1v1h-1zM128 97h2v1h-2zM143 97h1v1h-1zM145 97h4v1h-4zM151 97h1v1h-1zM153 97h5v1h-5zM160 97h3v1h-3zM165 97h1v1h-1zM167 97h1v1h-1zM173 97h1v1h-1zM176 97h1v1h-1zM178 97h1v1h-1zM180 97h2v1h-2zM186 97h1v1h-1zM195 97h1v1h-1zM203 97h4v1h-4zM208 97h1v1h-1zM99 98h10v1h-10zM126 98h4v1h-4zM144 98h1v1h-1zM148 98h1v1h-1zM156 98h2v1h-2zM161 98h1v1h-1zM163 98h2v1h-2zM174 98h1v1h-1zM177 98h6v1h-6zM185 98h2v1h-2zM199 98h1v1h-1zM202 98h1v1h-1zM204 98h3v1h-3zM98 99h10v1h-10zM127 99h2v1h-2zM144 99h5v1h-5zM151 99h1v1h-1zM155 99h4v1h-4zM163 99h1v1h-1zM166 99h1v1h-1zM174 99h1v1h-1zM176 99h1v1h-1zM178 99h1v1h-1zM181 99h2v1h-2zM200 99h2v1h-2zM205 99h1v1h-1zM207 99h1v1h-1zM96 100h14v1h-14zM113 100h1v1h-1zM126 100h2v1h-2zM145 100h4v1h-4zM153 100h1v1h-1zM155 100h1v1h-1zM159 100h2v1h-2zM162 100h2v1h-2zM177 100h2v1h-2zM180 100h1v1h-1zM186 100h1v1h-1zM189 100h1v1h-1zM197 100h2v1h-2zM200 100h1v1h-1zM96 101h3v1h-3zM100 101h11v1h-11zM115 101h1v1h-1zM126 101h1v1h-1zM128 101h1v1h-1zM133 101h1v1h-1zM147 101h3v1h-3zM151 101h1v1h-1zM154 101h1v1h-1zM156 101h3v1h-3zM160 101h1v1h-1zM162 101h1v1h-1zM165 101h1v1h-1zM172 101h1v1h-1zM174 101h1v1h-1zM180 101h1v1h-1zM199 101h1v1h-1zM201 101h1v1h-1zM204 101h1v1h-1zM96 102h18v1h-18zM126 102h2v1h-2zM148 102h3v1h-3zM160 102h1v1h-1zM162 102h1v1h-1zM169 102h2v1h-2zM172 102h1v1h-1zM174 102h1v1h-1zM179 102h2v1h-2zM201 102h3v1h-3zM205 102h2v1h-2zM97 103h4v1h-4zM102 103h1v1h-1zM104 103h9v1h-9zM114 103h1v1h-1zM127 103h2v1h-2zM148 103h3v1h-3zM152 103h2v1h-2zM165 103h1v1h-1zM179 103h1v1h-1zM193 103h1v1h-1zM199 103h8v1h-8zM61 104h1v1h-1zM63 104h2v1h-2zM97 104h6v1h-6zM104 104h3v1h-3zM109 104h5v1h-5zM127 104h2v1h-2zM149 104h3v1h-3zM159 104h1v1h-1zM161 104h1v1h-1zM168 104h1v1h-1zM179 104h1v1h-1zM181 104h2v1h-2zM199 104h1v1h-1zM202 104h5v1h-5zM61 105h1v1h-1zM65 105h1v1h-1zM99 105h2v1h-2zM102 105h7v1h-7zM110 105h2v1h-2zM127 105h3v1h-3zM133 105h1v1h-1zM135 105h1v1h-1zM137 105h2v1h-2zM150 105h3v1h-3zM154 105h1v1h-1zM162 105h1v1h-1zM164 105h1v1h-1zM168 105h1v1h-1zM179 105h4v1h-4zM200 105h1v1h-1zM202 105h1v1h-1zM204 105h3v1h-3zM61 106h1v1h-1zM64 106h1v1h-1zM98 106h1v1h-1zM101 106h3v1h-3zM105 106h4v1h-4zM110 106h1v1h-1zM127 106h2v1h-2zM136 106h4v1h-4zM150 106h2v1h-2zM154 106h1v1h-1zM169 106h1v1h-1zM176 106h1v1h-1zM179 106h1v1h-1zM182 106h1v1h-1zM192 106h1v1h-1zM197 106h1v1h-1zM204 106h3v1h-3zM62 107h2v1h-2zM67 107h1v1h-1zM99 107h12v1h-12zM128 107h2v1h-2zM135 107h2v1h-2zM138 107h3v1h-3zM151 107h2v1h-2zM161 107h1v1h-1zM169 107h1v1h-1zM171 107h1v1h-1zM179 107h3v1h-3zM204 107h2v1h-2zM63 108h2v1h-2zM67 108h1v1h-1zM71 108h1v1h-1zM73 108h1v1h-1zM101 108h10v1h-10zM126 108h2v1h-2zM129 108h1v1h-1zM136 108h4v1h-4zM155 108h1v1h-1zM167 108h2v1h-2zM172 108h2v1h-2zM176 108h2v1h-2zM196 108h1v1h-1zM204 108h1v1h-1zM69 109h1v1h-1zM71 109h3v1h-3zM101 109h5v1h-5zM107 109h4v1h-4zM127 109h1v1h-1zM129 109h2v1h-2zM136 109h1v1h-1zM152 109h1v1h-1zM159 109h1v1h-1zM165 109h1v1h-1zM169 109h3v1h-3zM173 109h1v1h-1zM177 109h1v1h-1zM180 109h1v1h-1zM200 109h1v1h-1zM203 109h2v1h-2zM71 110h2v1h-2zM74 110h1v1h-1zM102 110h9v1h-9zM120 110h3v1h-3zM128 110h2v1h-2zM153 110h2v1h-2zM158 110h2v1h-2zM169 110h6v1h-6zM179 110h1v1h-1zM199 110h2v1h-2zM203 110h1v1h-1zM70 111h1v1h-1zM73 111h1v1h-1zM80 111h1v1h-1zM106 111h8v1h-8zM117 111h1v1h-1zM119 111h6v1h-6zM127 111h1v1h-1zM148 111h1v1h-1zM152 111h3v1h-3zM156 111h4v1h-4zM166 111h1v1h-1zM168 111h1v1h-1zM170 111h4v1h-4zM175 111h5v1h-5zM73 112h2v1h-2zM76 112h2v1h-2zM80 112h2v1h-2zM106 112h14v1h-14zM121 112h1v1h-1zM123 112h1v1h-1zM125 112h1v1h-1zM130 112h1v1h-1zM150 112h4v1h-4zM156 112h1v1h-1zM165 112h1v1h-1zM168 112h2v1h-2zM173 112h2v1h-2zM177 112h2v1h-2zM75 113h1v1h-1zM78 113h5v1h-5zM107 113h1v1h-1zM109 113h11v1h-11zM122 113h1v1h-1zM125 113h2v1h-2zM151 113h1v1h-1zM166 113h1v1h-1zM169 113h1v1h-1zM171 113h1v1h-1zM177 113h1v1h-1zM73 114h1v1h-1zM76 114h7v1h-7zM110 114h12v1h-12zM124 114h5v1h-5zM130 114h1v1h-1zM150 114h2v1h-2zM154 114h2v1h-2zM169 114h4v1h-4zM177 114h1v1h-1zM77 115h3v1h-3zM82 115h2v1h-2zM86 115h1v1h-1zM110 115h5v1h-5zM116 115h6v1h-6zM125 115h2v1h-2zM129 115h4v1h-4zM134 115h1v1h-1zM150 115h1v1h-1zM152 115h2v1h-2zM163 115h2v1h-2zM169 115h1v1h-1zM171 115h1v1h-1zM176 115h4v1h-4zM201 115h2v1h-2zM76 116h5v1h-5zM82 116h6v1h-6zM90 116h1v1h-1zM110 116h7v1h-7zM119 116h1v1h-1zM121 116h3v1h-3zM129 116h1v1h-1zM132 116h2v1h-2zM151 116h1v1h-1zM162 116h1v1h-1zM164 116h2v1h-2zM169 116h1v1h-1zM176 116h1v1h-1zM179 116h2v1h-2zM188 116h1v1h-1zM201 116h2v1h-2zM76 117h1v1h-1zM78 117h2v1h-2zM81 117h5v1h-5zM89 117h4v1h-4zM111 117h5v1h-5zM117 117h1v1h-1zM122 117h3v1h-3zM127 117h1v1h-1zM129 117h1v1h-1zM132 117h4v1h-4zM150 117h2v1h-2zM153 117h1v1h-1zM169 117h1v1h-1zM173 117h1v1h-1zM176 117h1v1h-1zM179 117h1v1h-1zM182 117h1v1h-1zM189 117h1v1h-1zM193 117h1v1h-1zM201 117h1v1h-1zM204 117h1v1h-1zM78 118h2v1h-2zM81 118h3v1h-3zM85 118h3v1h-3zM91 118h2v1h-2zM121 118h1v1h-1zM124 118h1v1h-1zM127 118h1v1h-1zM129 118h2v1h-2zM132 118h5v1h-5zM150 118h2v1h-2zM163 118h1v1h-1zM169 118h1v1h-1zM176 118h2v1h-2zM187 118h1v1h-1zM189 118h1v1h-1zM191 118h1v1h-1zM204 118h1v1h-1zM86 119h1v1h-1zM89 119h1v1h-1zM91 119h1v1h-1zM117 119h1v1h-1zM128 119h2v1h-2zM131 119h1v1h-1zM133 119h1v1h-1zM135 119h3v1h-3zM140 119h1v1h-1zM143 119h1v1h-1zM148 119h2v1h-2zM153 119h1v1h-1zM169 119h1v1h-1zM171 119h1v1h-1zM175 119h1v1h-1zM188 119h1v1h-1zM197 119h1v1h-1zM200 119h1v1h-1zM203 119h1v1h-1zM205 119h1v1h-1zM81 120h1v1h-1zM83 120h1v1h-1zM86 120h1v1h-1zM88 120h5v1h-5zM125 120h3v1h-3zM129 120h1v1h-1zM132 120h4v1h-4zM137 120h9v1h-9zM148 120h3v1h-3zM153 120h2v1h-2zM169 120h7v1h-7zM178 120h1v1h-1zM198 120h1v1h-1zM200 120h1v1h-1zM204 120h2v1h-2zM85 121h2v1h-2zM88 121h1v1h-1zM90 121h1v1h-1zM93 121h1v1h-1zM95 121h2v1h-2zM116 121h1v1h-1zM126 121h2v1h-2zM130 121h1v1h-1zM134 121h1v1h-1zM143 121h5v1h-5zM154 121h1v1h-1zM159 121h1v1h-1zM169 121h8v1h-8zM195 121h2v1h-2zM202 121h3v1h-3zM83 122h2v1h-2zM86 122h3v1h-3zM90 122h2v1h-2zM95 122h1v1h-1zM98 122h1v1h-1zM126 122h1v1h-1zM129 122h1v1h-1zM131 122h1v1h-1zM135 122h1v1h-1zM138 122h2v1h-2zM144 122h1v1h-1zM146 122h1v1h-1zM150 122h1v1h-1zM152 122h4v1h-4zM168 122h4v1h-4zM174 122h1v1h-1zM177 122h1v1h-1zM192 122h5v1h-5zM204 122h1v1h-1zM86 123h4v1h-4zM91 123h1v1h-1zM94 123h2v1h-2zM97 123h2v1h-2zM118 123h1v1h-1zM122 123h1v1h-1zM127 123h1v1h-1zM129 123h1v1h-1zM133 123h2v1h-2zM145 123h2v1h-2zM152 123h3v1h-3zM168 123h1v1h-1zM171 123h1v1h-1zM174 123h1v1h-1zM191 123h4v1h-4zM196 123h1v1h-1zM86 124h1v1h-1zM88 124h1v1h-1zM93 124h1v1h-1zM95 124h5v1h-5zM131 124h1v1h-1zM134 124h1v1h-1zM145 124h1v1h-1zM152 124h1v1h-1zM155 124h2v1h-2zM167 124h2v1h-2zM171 124h3v1h-3zM194 124h1v1h-1zM196 124h2v1h-2zM203 124h1v1h-1zM85 125h1v1h-1zM87 125h1v1h-1zM89 125h3v1h-3zM95 125h2v1h-2zM98 125h2v1h-2zM121 125h1v1h-1zM129 125h1v1h-1zM133 125h1v1h-1zM139 125h2v1h-2zM146 125h1v1h-1zM148 125h1v1h-1zM155 125h1v1h-1zM163 125h1v1h-1zM193 125h2v1h-2zM196 125h1v1h-1zM86 126h2v1h-2zM89 126h1v1h-1zM91 126h2v1h-2zM94 126h1v1h-1zM96 126h1v1h-1zM98 126h3v1h-3zM116 126h1v1h-1zM131 126h1v1h-1zM139 126h2v1h-2zM142 126h2v1h-2zM145 126h3v1h-3zM155 126h1v1h-1zM158 126h2v1h-2zM162 126h1v1h-1zM165 126h1v1h-1zM167 126h1v1h-1zM173 126h1v1h-1zM175 126h1v1h-1zM179 126h1v1h-1zM192 126h5v1h-5zM202 126h1v1h-1zM85 127h3v1h-3zM90 127h3v1h-3zM95 127h2v1h-2zM98 127h1v1h-1zM100 127h2v1h-2zM121 127h1v1h-1zM126 127h1v1h-1zM128 127h1v1h-1zM131 127h2v1h-2zM138 127h7v1h-7zM146 127h1v1h-1zM148 127h1v1h-1zM155 127h4v1h-4zM162 127h5v1h-5zM168 127h1v1h-1zM193 127h3v1h-3zM202 127h1v1h-1zM86 128h3v1h-3zM90 128h1v1h-1zM92 128h2v1h-2zM96 128h2v1h-2zM100 128h1v1h-1zM115 128h1v1h-1zM122 128h1v1h-1zM127 128h4v1h-4zM135 128h1v1h-1zM139 128h2v1h-2zM145 128h4v1h-4zM153 128h1v1h-1zM155 128h1v1h-1zM158 128h2v1h-2zM162 128h5v1h-5zM169 128h1v1h-1zM174 128h5v1h-5zM192 128h2v1h-2zM201 128h1v1h-1zM87 129h5v1h-5zM93 129h1v1h-1zM95 129h1v1h-1zM101 129h1v1h-1zM125 129h1v1h-1zM135 129h1v1h-1zM137 129h1v1h-1zM140 129h2v1h-2zM143 129h2v1h-2zM146 129h3v1h-3zM150 129h1v1h-1zM153 129h1v1h-1zM161 129h4v1h-4zM166 129h1v1h-1zM168 129h3v1h-3zM176 129h3v1h-3zM199 129h2v1h-2zM86 130h4v1h-4zM91 130h6v1h-6zM98 130h3v1h-3zM106 130h2v1h-2zM131 130h1v1h-1zM134 130h1v1h-1zM138 130h2v1h-2zM142 130h6v1h-6zM149 130h3v1h-3zM155 130h2v1h-2zM158 130h1v1h-1zM160 130h1v1h-1zM162 130h3v1h-3zM176 130h2v1h-2zM198 130h2v1h-2zM87 131h8v1h-8zM96 131h3v1h-3zM101 131h2v1h-2zM107 131h1v1h-1zM133 131h2v1h-2zM136 131h2v1h-2zM140 131h2v1h-2zM145 131h7v1h-7zM155 131h1v1h-1zM157 131h1v1h-1zM159 131h5v1h-5zM170 131h2v1h-2zM173 131h1v1h-1zM197 131h2v1h-2zM86 132h1v1h-1zM88 132h5v1h-5zM94 132h1v1h-1zM96 132h1v1h-1zM99 132h1v1h-1zM102 132h1v1h-1zM105 132h3v1h-3zM133 132h3v1h-3zM137 132h1v1h-1zM139 132h2v1h-2zM145 132h1v1h-1zM148 132h7v1h-7zM159 132h1v1h-1zM162 132h2v1h-2zM193 132h1v1h-1zM197 132h2v1h-2zM90 133h2v1h-2zM94 133h1v1h-1zM96 133h4v1h-4zM103 133h5v1h-5zM132 133h1v1h-1zM135 133h7v1h-7zM143 133h1v1h-1zM148 133h4v1h-4zM153 133h1v1h-1zM163 133h1v1h-1zM191 133h1v1h-1zM196 133h1v1h-1zM87 134h1v1h-1zM90 134h2v1h-2zM97 134h1v1h-1zM103 134h1v1h-1zM134 134h1v1h-1zM137 134h3v1h-3zM150 134h1v1h-1zM152 134h2v1h-2zM155 134h1v1h-1zM166 134h1v1h-1zM196 134h1v1h-1zM90 135h1v1h-1zM92 135h1v1h-1zM94 135h4v1h-4zM106 135h2v1h-2zM135 135h5v1h-5zM141 135h2v1h-2zM145 135h3v1h-3zM155 135h1v1h-1zM163 135h1v1h-1zM179 135h1v1h-1zM193 135h1v1h-1zM195 135h3v1h-3zM89 136h1v1h-1zM91 136h2v1h-2zM96 136h2v1h-2zM100 136h1v1h-1zM104 136h3v1h-3zM136 136h1v1h-1zM138 136h1v1h-1zM142 136h2v1h-2zM145 136h2v1h-2zM148 136h1v1h-1zM152 136h1v1h-1zM164 136h2v1h-2zM178 136h1v1h-1zM194 136h2v1h-2zM87 137h1v1h-1zM89 137h1v1h-1zM92 137h3v1h-3zM101 137h4v1h-4zM106 137h2v1h-2zM137 137h1v1h-1zM144 137h1v1h-1zM146 137h1v1h-1zM148 137h1v1h-1zM155 137h2v1h-2zM163 137h1v1h-1zM169 137h1v1h-1zM179 137h1v1h-1zM185 137h6v1h-6zM192 137h2v1h-2zM85 138h1v1h-1zM87 138h1v1h-1zM92 138h4v1h-4zM102 138h1v1h-1zM104 138h2v1h-2zM107 138h1v1h-1zM163 138h2v1h-2zM166 138h1v1h-1zM168 138h2v1h-2zM186 138h1v1h-1zM86 139h3v1h-3zM90 139h1v1h-1zM92 139h4v1h-4zM97 139h1v1h-1zM108 139h1v1h-1zM149 139h1v1h-1zM151 139h2v1h-2zM165 139h1v1h-1zM168 139h2v1h-2zM183 139h1v1h-1zM87 140h1v1h-1zM89 140h1v1h-1zM91 140h1v1h-1zM93 140h1v1h-1zM95 140h1v1h-1zM102 140h2v1h-2zM107 140h3v1h-3zM151 140h1v1h-1zM164 140h1v1h-1zM166 140h3v1h-3zM180 140h1v1h-1zM84 141h3v1h-3zM88 141h3v1h-3zM92 141h3v1h-3zM96 141h1v1h-1zM100 141h1v1h-1zM102 141h1v1h-1zM107 141h3v1h-3zM165 141h6v1h-6zM178 141h2v1h-2zM85 142h2v1h-2zM88 142h2v1h-2zM91 142h1v1h-1zM94 142h2v1h-2zM97 142h1v1h-1zM102 142h2v1h-2zM107 142h1v1h-1zM109 142h2v1h-2zM168 142h4v1h-4zM173 142h2v1h-2zM176 142h1v1h-1zM85 143h6v1h-6zM92 143h4v1h-4zM101 143h3v1h-3zM106 143h1v1h-1zM108 143h2v1h-2zM165 143h1v1h-1zM168 143h3v1h-3zM173 143h1v1h-1zM84 144h1v1h-1zM86 144h1v1h-1zM88 144h1v1h-1zM91 144h1v1h-1zM93 144h1v1h-1zM96 144h1v1h-1zM105 144h1v1h-1zM107 144h1v1h-1zM110 144h1v1h-1zM165 144h3v1h-3zM169 144h1v1h-1zM85 145h1v1h-1zM89 145h2v1h-2zM94 145h3v1h-3zM99 145h2v1h-2zM104 145h1v1h-1zM106 145h2v1h-2zM109 145h2v1h-2zM166 145h3v1h-3zM84 146h2v1h-2zM91 146h1v1h-1zM99 146h2v1h-2zM106 146h5v1h-5zM89 147h1v1h-1zM92 147h1v1h-1zM95 147h3v1h-3zM99 147h1v1h-1zM101 147h1v1h-1zM105 147h1v1h-1zM107 147h2v1h-2zM85 148h1v1h-1zM91 148h1v1h-1zM93 148h1v1h-1zM95 148h3v1h-3zM99 148h1v1h-1zM101 148h4v1h-4zM107 148h2v1h-2zM84 149h2v1h-2zM89 149h7v1h-7zM97 149h4v1h-4zM102 149h1v1h-1zM104 149h2v1h-2zM108 149h1v1h-1zM85 150h1v1h-1zM89 150h1v1h-1zM95 150h3v1h-3zM101 150h3v1h-3zM106 150h4v1h-4zM84 151h2v1h-2zM87 151h2v1h-2zM95 151h1v1h-1zM97 151h2v1h-2zM100 151h2v1h-2zM103 151h2v1h-2zM84 152h2v1h-2zM87 152h3v1h-3zM96 152h1v1h-1zM98 152h5v1h-5zM105 152h4v1h-4zM83 153h2v1h-2zM86 153h2v1h-2zM95 153h1v1h-1zM99 153h1v1h-1zM101 153h2v1h-2zM106 153h3v1h-3zM83 154h2v1h-2zM88 154h1v1h-1zM91 154h1v1h-1zM98 154h1v1h-1zM100 154h2v1h-2zM106 154h1v1h-1zM108 154h1v1h-1zM84 155h4v1h-4zM89 155h1v1h-1zM94 155h3v1h-3zM99 155h1v1h-1zM102 155h2v1h-2zM106 155h3v1h-3zM87 156h3v1h-3zM94 156h1v1h-1zM96 156h2v1h-2zM99 156h1v1h-1zM102 156h1v1h-1zM87 157h2v1h-2zM91 157h1v1h-1zM93 157h1v1h-1zM97 157h1v1h-1zM99 157h1v1h-1zM106 157h2v1h-2zM84 158h1v1h-1zM87 158h2v1h-2zM102 158h1v1h-1zM105 158h1v1h-1zM107 158h1v1h-1zM84 159h1v1h-1zM86 159h3v1h-3zM94 159h1v1h-1zM96 159h1v1h-1zM101 159h7v1h-7zM109 159h1v1h-1zM111 159h2v1h-2zM85 160h3v1h-3zM93 160h1v1h-1zM95 160h1v1h-1zM98 160h1v1h-1zM101 160h1v1h-1zM103 160h2v1h-2zM106 160h1v1h-1zM108 160h1v1h-1zM110 160h4v1h-4zM87 161h2v1h-2zM93 161h1v1h-1zM96 161h3v1h-3zM101 161h7v1h-7zM109 161h2v1h-2zM112 161h3v1h-3zM81 162h1v1h-1zM85 162h2v1h-2zM99 162h1v1h-1zM101 162h6v1h-6zM108 162h7v1h-7zM81 163h1v1h-1zM85 163h1v1h-1zM87 163h1v1h-1zM103 163h1v1h-1zM105 163h4v1h-4zM110 163h3v1h-3zM81 164h2v1h-2zM95 164h1v1h-1zM103 164h3v1h-3zM110 164h2v1h-2zM83 165h1v1h-1zM91 165h1v1h-1zM96 165h1v1h-1zM101 165h2v1h-2zM104 165h1v1h-1zM106 165h2v1h-2zM83 166h1v1h-1zM89 166h3v1h-3zM102 166h3v1h-3zM106 166h1v1h-1zM110 166h1v1h-1zM81 167h1v1h-1zM90 167h1v1h-1zM96 167h1v1h-1zM98 167h1v1h-1zM101 167h2v1h-2zM106 167h1v1h-1zM110 167h2v1h-2zM90 168h3v1h-3zM96 168h1v1h-1zM98 168h1v1h-1zM100 168h1v1h-1zM103 168h3v1h-3zM107 168h1v1h-1zM113 168h1v1h-1zM85 169h1v1h-1zM90 169h3v1h-3zM94 169h2v1h-2zM98 169h4v1h-4zM103 169h2v1h-2zM106 169h1v1h-1zM125 169h1v1h-1zM83 170h1v1h-1zM91 170h1v1h-1zM93 170h1v1h-1zM96 170h2v1h-2zM99 170h2v1h-2zM102 170h3v1h-3zM106 170h2v1h-2zM126 170h1v1h-1zM84 171h1v1h-1zM89 171h1v1h-1zM92 171h3v1h-3zM99 171h1v1h-1zM102 171h4v1h-4zM114 171h1v1h-1zM118 171h1v1h-1zM89 172h4v1h-4zM94 172h3v1h-3zM99 172h1v1h-1zM103 172h5v1h-5zM89 173h3v1h-3zM94 173h3v1h-3zM101 173h1v1h-1zM103 173h5v1h-5zM80 174h1v1h-1zM82 174h1v1h-1zM90 174h1v1h-1zM94 174h1v1h-1zM102 174h1v1h-1zM105 174h3v1h-3zM92 175h1v1h-1zM95 175h1v1h-1zM97 175h1v1h-1zM106 175h1v1h-1zM92 176h1v1h-1zM94 176h1v1h-1zM104 176h1v1h-1zM106 176h2v1h-2zM82 177h1v1h-1zM90 177h1v1h-1zM95 177h2v1h-2zM100 177h1v1h-1zM103 177h2v1h-2zM106 177h1v1h-1zM91 178h1v1h-1zM93 178h1v1h-1zM95 178h2v1h-2zM104 178h1v1h-1zM106 178h1v1h-1zM90 179h3v1h-3zM94 179h2v1h-2zM97 179h1v1h-1zM105 179h1v1h-1zM109 179h4v1h-4zM89 180h7v1h-7zM97 180h6v1h-6zM104 180h3v1h-3zM109 180h4v1h-4zM90 181h6v1h-6zM97 181h1v1h-1zM99 181h3v1h-3zM103 181h3v1h-3zM110 181h3v1h-3zM90 182h8v1h-8zM99 182h7v1h-7zM109 182h4v1h-4zM90 183h1v1h-1zM92 183h1v1h-1zM94 183h12v1h-12zM109 183h1v1h-1zM112 183h1v1h-1zM91 184h7v1h-7zM100 184h5v1h-5zM90 185h1v1h-1zM92 185h1v1h-1zM94 185h4v1h-4zM99 185h1v1h-1zM101 185h2v1h-2zM104 185h1v1h-1zM90 186h12v1h-12zM103 186h1v1h-1zM105 186h1v1h-1zM91 187h1v1h-1zM94 187h3v1h-3zM100 187h3v1h-3zM105 187h1v1h-1zM91 188h1v1h-1zM94 188h3v1h-3zM100 188h6v1h-6zM91 189h2v1h-2zM94 189h1v1h-1zM96 189h4v1h-4zM102 189h4v1h-4zM91 190h6v1h-6zM98 190h1v1h-1zM100 190h9v1h-9zM110 190h2v1h-2zM91 191h3v1h-3zM97 191h2v1h-2zM100 191h4v1h-4zM105 191h8v1h-8zM93 192h1v1h-1zM95 192h1v1h-1zM98 192h1v1h-1zM100 192h11v1h-11zM94 193h8v1h-8zM103 193h7v1h-7zM111 193h1v1h-1zM94 194h1v1h-1zM97 194h4v1h-4zM102 194h7v1h-7zM110 194h2v1h-2zM93 195h2v1h-2zM96 195h11v1h-11zM108 195h4v1h-4zM94 196h1v1h-1zM96 196h5v1h-5zM103 196h9v1h-9zM95 197h17v1h-17zM98 198h13v1h-13zM118 198h1v1h-1zM98 199h12v1h-12zM100 200h11v1h-11zM88 201h1v1h-1zM100 201h2v1h-2zM103 201h8v1h-8zM86 202h1v1h-1zM100 202h1v1h-1zM102 202h9v1h-9zM85 203h1v1h-1zM87 203h1v1h-1zM101 203h6v1h-6zM108 203h3v1h-3zM86 204h2v1h-2zM104 204h8v1h-8zM86 205h3v1h-3zM106 205h3v1h-3zM110 205h3v1h-3zM86 206h3v1h-3zM107 206h7v1h-7zM86 207h3v1h-3zM90 207h2v1h-2zM108 207h5v1h-5zM116 207h1v1h-1zM86 208h3v1h-3zM90 208h2v1h-2zM93 208h1v1h-1zM108 208h2v1h-2zM111 208h3v1h-3zM86 209h8v1h-8zM100 209h1v1h-1zM110 209h4v1h-4zM116 209h1v1h-1zM82 210h2v1h-2zM85 210h20v1h-20zM112 210h1v1h-1zM116 210h2v1h-2zM82 211h12v1h-12zM95 211h2v1h-2zM98 211h2v1h-2zM101 211h1v1h-1zM103 211h3v1h-3zM110 211h1v1h-1zM116 211h1v1h-1zM81 212h2v1h-2zM86 212h8v1h-8zM95 212h1v1h-1zM97 212h5v1h-5zM103 212h1v1h-1zM105 212h1v1h-1zM110 212h1v1h-1zM115 212h2v1h-2zM81 213h2v1h-2zM84 213h1v1h-1zM88 213h3v1h-3zM93 213h4v1h-4zM98 213h3v1h-3zM102 213h4v1h-4zM110 213h1v1h-1zM81 214h6v1h-6zM89 214h1v1h-1zM95 214h6v1h-6zM103 214h3v1h-3zM82 215h1v1h-1zM86 215h4v1h-4zM96 215h4v1h-4zM105 215h1v1h-1zM90 216h2v1h-2zM93 216h7v1h-7zM83 217h1v1h-1zM85 217h1v1h-1zM99 217h2v1h-2zM81 218h10v1h-10zM92 218h1v1h-1zM94 218h2v1h-2zM98 218h9v1h-9zM82 219h7v1h-7zM90 219h6v1h-6zM98 219h10v1h-10zM81 220h1v1h-1zM84 220h1v1h-1zM86 220h3v1h-3zM90 220h1v1h-1zM92 220h6v1h-6zM99 220h8v1h-8zM81 221h1v1h-1zM83 221h2v1h-2zM92 221h2v1h-2zM95 221h2v1h-2zM98 221h1v1h-1zM100 221h7v1h-7zM81 222h3v1h-3zM92 222h4v1h-4zM97 222h9v1h-9zM81 223h1v1h-1zM83 223h1v1h-1zM94 223h5v1h-5zM102 223h1v1h-1zM104 223h2v1h-2zM92 224h1v1h-1zM96 224h3v1h-3zM104 224h1v1h-1zM80 225h1v1h-1zM94 225h1v1h-1zM98 225h1v1h-1zM95 227h1v1h-1zM80 228h1v1h-1zM94 228h1v1h-1zM103 228h1v1h-1zM101 229h1v1h-1zM103 229h1v1h-1zM80 230h1v1h-1zM98 230h1v1h-1zM80 231h1v1h-1zM97 231h1v1h-1zM80 232h1v1h-1zM93 232h1v1h-1zM96 232h1v1h-1zM80 233h1v1h-1zM80 235h1v1h-1zM96 235h1v1h-1zM79 237h1v1h-1zM79 238h1v1h-1zM90 238h1v1h-1zM79 239h2v1h-2zM79 240h2v1h-2zM79 241h2v1h-2zM79 243h1v1h-1zM79 244h1v1h-1zM80 245h1v1h-1zM80 246h1v1h-1zM78 247h3v1h-3zM79 248h3v1h-3zM78 249h4v1h-4zM78 250h5v1h-5zM89 250h2v1h-2zM78 251h4v1h-4zM83 251h8v1h-8zM79 252h3v1h-3zM83 252h6v1h-6zM81 253h9v1h-9zM85 254h5v1h-5zM86 255h2v1h-2zM89 255h2v1h-2zM87 256h4v1h-4zM87 257h5v1h-5zM87 258h4v1h-4zM92 258h1v1h-1zM93 263h1v1h-1zM93 264h2v1h-2zM94 265h2v1h-2zM95 266h3v1h-3z"/><path fill="#f88c51" d="M126 16h1v1h-1zM129 18h1v1h-1zM128 19h1v1h-1zM130 19h1v1h-1zM131 20h1v1h-1zM127 21h1v1h-1zM131 21h1v1h-1zM134 22h1v1h-1zM132 23h1v1h-1zM133 24h1v1h-1zM136 25h1v1h-1zM139 26h2v1h-2zM142 26h3v1h-3zM147 26h3v1h-3zM139 27h1v1h-1zM141 27h1v1h-1zM143 27h3v1h-3zM147 27h2v1h-2zM139 28h3v1h-3zM143 28h1v1h-1zM145 28h4v1h-4zM140 29h2v1h-2zM143 29h1v1h-1zM145 29h2v1h-2zM139 30h1v1h-1zM141 30h5v1h-5zM148 30h1v1h-1zM140 31h2v1h-2zM143 31h6v1h-6zM135 32h2v1h-2zM141 32h1v1h-1zM143 32h2v1h-2zM146 32h3v1h-3zM139 33h2v1h-2zM145 33h1v1h-1zM149 33h1v1h-1zM161 33h1v1h-1zM140 34h1v1h-1zM143 34h1v1h-1zM158 34h2v1h-2zM161 34h1v1h-1zM136 35h4v1h-4zM145 35h3v1h-3zM161 35h1v1h-1zM139 36h2v1h-2zM142 36h1v1h-1zM145 36h1v1h-1zM161 36h1v1h-1zM137 37h3v1h-3zM142 37h2v1h-2zM145 37h1v1h-1zM147 37h3v1h-3zM157 37h1v1h-1zM160 37h2v1h-2zM137 38h2v1h-2zM140 38h3v1h-3zM146 38h4v1h-4zM156 38h5v1h-5zM137 39h1v1h-1zM140 39h1v1h-1zM142 39h1v1h-1zM145 39h3v1h-3zM157 39h3v1h-3zM163 39h1v1h-1zM135 40h1v1h-1zM137 40h1v1h-1zM140 40h1v1h-1zM142 40h2v1h-2zM146 40h3v1h-3zM150 40h1v1h-1zM152 40h1v1h-1zM155 40h1v1h-1zM159 40h1v1h-1zM163 40h1v1h-1zM137 41h1v1h-1zM142 41h3v1h-3zM146 41h2v1h-2zM150 41h1v1h-1zM153 41h1v1h-1zM155 41h4v1h-4zM160 41h1v1h-1zM136 42h2v1h-2zM144 42h1v1h-1zM147 42h4v1h-4zM154 42h1v1h-1zM159 42h1v1h-1zM163 42h1v1h-1zM136 43h1v1h-1zM138 43h1v1h-1zM146 43h1v1h-1zM149 43h1v1h-1zM154 43h1v1h-1zM158 43h1v1h-1zM162 43h1v1h-1zM165 43h1v1h-1zM137 44h3v1h-3zM144 44h2v1h-2zM148 44h3v1h-3zM154 44h1v1h-1zM159 44h7v1h-7zM138 45h1v1h-1zM151 45h1v1h-1zM160 45h1v1h-1zM162 45h1v1h-1zM136 46h1v1h-1zM138 46h1v1h-1zM140 46h2v1h-2zM145 46h2v1h-2zM149 46h1v1h-1zM151 46h2v1h-2zM158 46h2v1h-2zM163 46h3v1h-3zM136 47h1v1h-1zM138 47h1v1h-1zM140 47h2v1h-2zM146 47h2v1h-2zM151 47h2v1h-2zM154 47h3v1h-3zM158 47h1v1h-1zM160 47h2v1h-2zM163 47h1v1h-1zM134 48h1v1h-1zM136 48h3v1h-3zM140 48h1v1h-1zM147 48h3v1h-3zM152 48h1v1h-1zM158 48h1v1h-1zM161 48h2v1h-2zM132 49h1v1h-1zM134 49h1v1h-1zM136 49h2v1h-2zM140 49h1v1h-1zM142 49h1v1h-1zM145 49h2v1h-2zM149 49h1v1h-1zM160 49h1v1h-1zM163 49h1v1h-1zM132 50h1v1h-1zM135 50h1v1h-1zM137 50h4v1h-4zM142 50h2v1h-2zM146 50h2v1h-2zM152 50h1v1h-1zM162 50h1v1h-1zM164 50h1v1h-1zM132 51h2v1h-2zM135 51h1v1h-1zM138 51h6v1h-6zM145 51h1v1h-1zM147 51h4v1h-4zM156 51h3v1h-3zM161 51h2v1h-2zM164 51h3v1h-3zM168 51h1v1h-1zM171 51h2v1h-2zM132 52h2v1h-2zM139 52h2v1h-2zM145 52h6v1h-6zM157 52h1v1h-1zM160 52h5v1h-5zM166 52h1v1h-1zM168 52h1v1h-1zM172 52h1v1h-1zM44 53h2v1h-2zM47 53h1v1h-1zM131 53h1v1h-1zM133 53h2v1h-2zM136 53h1v1h-1zM141 53h1v1h-1zM143 53h2v1h-2zM153 53h1v1h-1zM155 53h3v1h-3zM159 53h2v1h-2zM163 53h3v1h-3zM167 53h1v1h-1zM170 53h1v1h-1zM175 53h3v1h-3zM182 53h1v1h-1zM44 54h2v1h-2zM131 54h1v1h-1zM136 54h1v1h-1zM140 54h1v1h-1zM149 54h1v1h-1zM151 54h2v1h-2zM155 54h1v1h-1zM158 54h1v1h-1zM161 54h1v1h-1zM167 54h3v1h-3zM175 54h1v1h-1zM183 54h1v1h-1zM46 55h1v1h-1zM133 55h1v1h-1zM135 55h1v1h-1zM140 55h3v1h-3zM145 55h2v1h-2zM148 55h1v1h-1zM153 55h1v1h-1zM156 55h1v1h-1zM159 55h2v1h-2zM164 55h1v1h-1zM168 55h3v1h-3zM176 55h1v1h-1zM186 55h1v1h-1zM46 56h1v1h-1zM136 56h3v1h-3zM141 56h2v1h-2zM144 56h2v1h-2zM148 56h1v1h-1zM150 56h2v1h-2zM154 56h1v1h-1zM156 56h1v1h-1zM158 56h3v1h-3zM164 56h2v1h-2zM167 56h1v1h-1zM173 56h4v1h-4zM137 57h1v1h-1zM139 57h1v1h-1zM141 57h2v1h-2zM145 57h1v1h-1zM151 57h1v1h-1zM154 57h3v1h-3zM159 57h2v1h-2zM163 57h1v1h-1zM165 57h1v1h-1zM167 57h1v1h-1zM169 57h1v1h-1zM171 57h1v1h-1zM174 57h1v1h-1zM176 57h2v1h-2zM188 57h1v1h-1zM139 58h1v1h-1zM144 58h1v1h-1zM146 58h2v1h-2zM149 58h1v1h-1zM153 58h5v1h-5zM160 58h2v1h-2zM163 58h2v1h-2zM166 58h2v1h-2zM173 58h6v1h-6zM142 59h2v1h-2zM146 59h2v1h-2zM151 59h2v1h-2zM155 59h1v1h-1zM157 59h2v1h-2zM160 59h1v1h-1zM163 59h5v1h-5zM172 59h2v1h-2zM176 59h4v1h-4zM188 59h1v1h-1zM191 59h1v1h-1zM193 59h2v1h-2zM144 60h2v1h-2zM147 60h1v1h-1zM150 60h1v1h-1zM152 60h1v1h-1zM161 60h1v1h-1zM172 60h1v1h-1zM176 60h4v1h-4zM190 60h1v1h-1zM196 60h1v1h-1zM136 61h1v1h-1zM144 61h1v1h-1zM147 61h1v1h-1zM149 61h1v1h-1zM153 61h1v1h-1zM157 61h2v1h-2zM165 61h1v1h-1zM177 61h1v1h-1zM179 61h2v1h-2zM199 61h2v1h-2zM203 61h1v1h-1zM146 62h1v1h-1zM149 62h1v1h-1zM152 62h1v1h-1zM160 62h1v1h-1zM164 62h1v1h-1zM172 62h1v1h-1zM180 62h2v1h-2zM199 62h8v1h-8zM126 63h1v1h-1zM148 63h1v1h-1zM177 63h1v1h-1zM180 63h2v1h-2zM195 63h1v1h-1zM197 63h1v1h-1zM199 63h3v1h-3zM205 63h3v1h-3zM209 63h3v1h-3zM148 64h1v1h-1zM153 64h2v1h-2zM164 64h1v1h-1zM180 64h2v1h-2zM201 64h2v1h-2zM204 64h1v1h-1zM207 64h3v1h-3zM211 64h2v1h-2zM148 65h3v1h-3zM152 65h1v1h-1zM154 65h1v1h-1zM181 65h2v1h-2zM197 65h1v1h-1zM200 65h3v1h-3zM206 65h2v1h-2zM209 65h5v1h-5zM41 66h1v1h-1zM44 66h3v1h-3zM120 66h1v1h-1zM152 66h1v1h-1zM161 66h2v1h-2zM181 66h2v1h-2zM198 66h3v1h-3zM204 66h3v1h-3zM210 66h1v1h-1zM213 66h2v1h-2zM41 67h2v1h-2zM45 67h1v1h-1zM164 67h1v1h-1zM181 67h2v1h-2zM188 67h1v1h-1zM190 67h2v1h-2zM197 67h1v1h-1zM199 67h2v1h-2zM203 67h1v1h-1zM205 67h2v1h-2zM208 67h2v1h-2zM212 67h1v1h-1zM215 67h1v1h-1zM41 68h1v1h-1zM43 68h1v1h-1zM45 68h2v1h-2zM137 68h1v1h-1zM154 68h2v1h-2zM162 68h1v1h-1zM171 68h1v1h-1zM183 68h3v1h-3zM188 68h3v1h-3zM192 68h1v1h-1zM195 68h1v1h-1zM198 68h8v1h-8zM208 68h1v1h-1zM210 68h1v1h-1zM213 68h1v1h-1zM215 68h2v1h-2zM42 69h1v1h-1zM44 69h1v1h-1zM134 69h2v1h-2zM155 69h1v1h-1zM161 69h1v1h-1zM166 69h1v1h-1zM187 69h5v1h-5zM196 69h1v1h-1zM199 69h1v1h-1zM201 69h2v1h-2zM206 69h1v1h-1zM208 69h1v1h-1zM210 69h1v1h-1zM212 69h2v1h-2zM215 69h2v1h-2zM220 69h1v1h-1zM42 70h2v1h-2zM134 70h1v1h-1zM136 70h1v1h-1zM146 70h1v1h-1zM149 70h1v1h-1zM171 70h1v1h-1zM194 70h2v1h-2zM197 70h2v1h-2zM200 70h1v1h-1zM208 70h1v1h-1zM210 70h1v1h-1zM212 70h2v1h-2zM218 70h1v1h-1zM220 70h3v1h-3zM43 71h2v1h-2zM135 71h1v1h-1zM147 71h1v1h-1zM149 71h1v1h-1zM151 71h1v1h-1zM165 71h2v1h-2zM194 71h2v1h-2zM197 71h4v1h-4zM202 71h1v1h-1zM206 71h1v1h-1zM208 71h1v1h-1zM211 71h3v1h-3zM215 71h1v1h-1zM217 71h2v1h-2zM47 72h2v1h-2zM138 72h1v1h-1zM147 72h1v1h-1zM152 72h1v1h-1zM194 72h2v1h-2zM197 72h3v1h-3zM201 72h1v1h-1zM203 72h1v1h-1zM205 72h4v1h-4zM211 72h6v1h-6zM220 72h3v1h-3zM43 73h4v1h-4zM162 73h1v1h-1zM166 73h2v1h-2zM188 73h2v1h-2zM194 73h2v1h-2zM198 73h1v1h-1zM200 73h2v1h-2zM203 73h1v1h-1zM205 73h1v1h-1zM207 73h1v1h-1zM209 73h1v1h-1zM213 73h2v1h-2zM218 73h2v1h-2zM221 73h1v1h-1zM44 74h2v1h-2zM149 74h1v1h-1zM160 74h1v1h-1zM182 74h1v1h-1zM193 74h2v1h-2zM196 74h2v1h-2zM199 74h3v1h-3zM203 74h2v1h-2zM206 74h2v1h-2zM209 74h1v1h-1zM213 74h1v1h-1zM215 74h2v1h-2zM219 74h2v1h-2zM150 75h1v1h-1zM157 75h1v1h-1zM161 75h1v1h-1zM181 75h1v1h-1zM188 75h2v1h-2zM191 75h1v1h-1zM193 75h1v1h-1zM195 75h2v1h-2zM199 75h6v1h-6zM214 75h1v1h-1zM216 75h1v1h-1zM220 75h1v1h-1zM157 76h3v1h-3zM166 76h1v1h-1zM168 76h1v1h-1zM176 76h1v1h-1zM189 76h7v1h-7zM197 76h1v1h-1zM199 76h4v1h-4zM204 76h1v1h-1zM206 76h3v1h-3zM216 76h1v1h-1zM218 76h1v1h-1zM220 76h1v1h-1zM150 77h1v1h-1zM159 77h1v1h-1zM187 77h9v1h-9zM201 77h2v1h-2zM205 77h1v1h-1zM207 77h1v1h-1zM209 77h7v1h-7zM218 77h1v1h-1zM221 77h1v1h-1zM156 78h2v1h-2zM188 78h4v1h-4zM193 78h8v1h-8zM205 78h4v1h-4zM210 78h4v1h-4zM216 78h2v1h-2zM221 78h1v1h-1zM136 79h1v1h-1zM158 79h1v1h-1zM167 79h1v1h-1zM186 79h1v1h-1zM192 79h1v1h-1zM195 79h1v1h-1zM200 79h2v1h-2zM203 79h1v1h-1zM207 79h2v1h-2zM210 79h2v1h-2zM213 79h1v1h-1zM216 79h2v1h-2zM158 80h1v1h-1zM160 80h1v1h-1zM168 80h1v1h-1zM182 80h1v1h-1zM186 80h2v1h-2zM191 80h1v1h-1zM193 80h1v1h-1zM197 80h4v1h-4zM206 80h4v1h-4zM211 80h1v1h-1zM146 81h1v1h-1zM153 81h2v1h-2zM157 81h1v1h-1zM163 81h1v1h-1zM185 81h2v1h-2zM188 81h2v1h-2zM191 81h3v1h-3zM198 81h3v1h-3zM205 81h3v1h-3zM213 81h2v1h-2zM138 82h1v1h-1zM140 82h1v1h-1zM151 82h5v1h-5zM162 82h1v1h-1zM179 82h1v1h-1zM183 82h4v1h-4zM191 82h3v1h-3zM197 82h1v1h-1zM199 82h5v1h-5zM205 82h4v1h-4zM211 82h1v1h-1zM214 82h1v1h-1zM142 83h3v1h-3zM146 83h2v1h-2zM151 83h1v1h-1zM184 83h6v1h-6zM193 83h2v1h-2zM196 83h2v1h-2zM199 83h1v1h-1zM201 83h1v1h-1zM203 83h2v1h-2zM207 83h3v1h-3zM211 83h4v1h-4zM216 83h1v1h-1zM151 84h1v1h-1zM154 84h1v1h-1zM157 84h1v1h-1zM168 84h1v1h-1zM183 84h2v1h-2zM186 84h1v1h-1zM190 84h3v1h-3zM194 84h4v1h-4zM200 84h3v1h-3zM204 84h1v1h-1zM206 84h4v1h-4zM212 84h1v1h-1zM214 84h2v1h-2zM143 85h1v1h-1zM146 85h1v1h-1zM153 85h1v1h-1zM155 85h1v1h-1zM158 85h1v1h-1zM164 85h1v1h-1zM167 85h3v1h-3zM184 85h6v1h-6zM192 85h1v1h-1zM194 85h5v1h-5zM200 85h3v1h-3zM205 85h2v1h-2zM208 85h2v1h-2zM141 86h1v1h-1zM143 86h1v1h-1zM156 86h2v1h-2zM166 86h2v1h-2zM172 86h2v1h-2zM184 86h3v1h-3zM188 86h1v1h-1zM190 86h4v1h-4zM196 86h1v1h-1zM198 86h1v1h-1zM201 86h1v1h-1zM205 86h1v1h-1zM207 86h1v1h-1zM164 87h5v1h-5zM185 87h1v1h-1zM189 87h3v1h-3zM193 87h7v1h-7zM201 87h2v1h-2zM204 87h1v1h-1zM206 87h1v1h-1zM208 87h2v1h-2zM163 88h2v1h-2zM167 88h1v1h-1zM184 88h1v1h-1zM186 88h2v1h-2zM190 88h2v1h-2zM193 88h2v1h-2zM196 88h5v1h-5zM202 88h1v1h-1zM204 88h1v1h-1zM209 88h1v1h-1zM152 89h1v1h-1zM154 89h2v1h-2zM162 89h1v1h-1zM165 89h1v1h-1zM167 89h1v1h-1zM171 89h1v1h-1zM173 89h2v1h-2zM183 89h1v1h-1zM187 89h1v1h-1zM189 89h1v1h-1zM192 89h1v1h-1zM195 89h1v1h-1zM197 89h3v1h-3zM201 89h2v1h-2zM206 89h4v1h-4zM163 90h2v1h-2zM166 90h2v1h-2zM169 90h2v1h-2zM177 90h2v1h-2zM182 90h1v1h-1zM184 90h1v1h-1zM188 90h1v1h-1zM191 90h1v1h-1zM197 90h6v1h-6zM151 91h1v1h-1zM154 91h1v1h-1zM165 91h1v1h-1zM171 91h2v1h-2zM176 91h3v1h-3zM180 91h1v1h-1zM187 91h1v1h-1zM193 91h1v1h-1zM196 91h3v1h-3zM200 91h1v1h-1zM147 92h5v1h-5zM153 92h1v1h-1zM156 92h1v1h-1zM162 92h1v1h-1zM164 92h3v1h-3zM169 92h1v1h-1zM171 92h1v1h-1zM175 92h2v1h-2zM182 92h2v1h-2zM185 92h4v1h-4zM192 92h1v1h-1zM196 92h2v1h-2zM149 93h2v1h-2zM157 93h1v1h-1zM162 93h1v1h-1zM164 93h2v1h-2zM168 93h1v1h-1zM173 93h3v1h-3zM185 93h2v1h-2zM188 93h2v1h-2zM193 93h2v1h-2zM198 93h1v1h-1zM200 93h1v1h-1zM205 93h1v1h-1zM131 94h2v1h-2zM134 94h5v1h-5zM149 94h1v1h-1zM153 94h1v1h-1zM155 94h2v1h-2zM164 94h3v1h-3zM169 94h4v1h-4zM176 94h1v1h-1zM178 94h1v1h-1zM184 94h4v1h-4zM189 94h1v1h-1zM192 94h1v1h-1zM194 94h3v1h-3zM198 94h1v1h-1zM204 94h2v1h-2zM131 95h5v1h-5zM137 95h2v1h-2zM148 95h3v1h-3zM154 95h3v1h-3zM160 95h2v1h-2zM163 95h4v1h-4zM171 95h3v1h-3zM177 95h1v1h-1zM184 95h3v1h-3zM188 95h1v1h-1zM190 95h2v1h-2zM193 95h2v1h-2zM196 95h5v1h-5zM130 96h10v1h-10zM154 96h1v1h-1zM163 96h2v1h-2zM168 96h1v1h-1zM170 96h1v1h-1zM175 96h2v1h-2zM178 96h1v1h-1zM182 96h4v1h-4zM188 96h1v1h-1zM191 96h1v1h-1zM193 96h2v1h-2zM199 96h2v1h-2zM202 96h1v1h-1zM130 97h13v1h-13zM149 97h1v1h-1zM158 97h2v1h-2zM163 97h1v1h-1zM166 97h1v1h-1zM169 97h1v1h-1zM171 97h2v1h-2zM174 97h2v1h-2zM179 97h1v1h-1zM182 97h2v1h-2zM185 97h1v1h-1zM187 97h8v1h-8zM196 97h2v1h-2zM200 97h3v1h-3zM130 98h14v1h-14zM147 98h1v1h-1zM149 98h1v1h-1zM151 98h1v1h-1zM154 98h2v1h-2zM158 98h3v1h-3zM162 98h1v1h-1zM166 98h3v1h-3zM173 98h1v1h-1zM176 98h1v1h-1zM183 98h1v1h-1zM187 98h7v1h-7zM195 98h1v1h-1zM197 98h1v1h-1zM200 98h2v1h-2zM129 99h15v1h-15zM149 99h2v1h-2zM152 99h3v1h-3zM159 99h1v1h-1zM161 99h2v1h-2zM164 99h2v1h-2zM167 99h1v1h-1zM172 99h1v1h-1zM175 99h1v1h-1zM177 99h1v1h-1zM183 99h7v1h-7zM191 99h1v1h-1zM198 99h2v1h-2zM128 100h17v1h-17zM149 100h1v1h-1zM151 100h1v1h-1zM154 100h1v1h-1zM156 100h1v1h-1zM158 100h1v1h-1zM161 100h1v1h-1zM164 100h1v1h-1zM166 100h1v1h-1zM168 100h1v1h-1zM171 100h3v1h-3zM176 100h1v1h-1zM179 100h1v1h-1zM181 100h2v1h-2zM185 100h1v1h-1zM187 100h2v1h-2zM190 100h2v1h-2zM195 100h1v1h-1zM199 100h1v1h-1zM201 100h1v1h-1zM99 101h1v1h-1zM127 101h1v1h-1zM129 101h4v1h-4zM134 101h13v1h-13zM150 101h1v1h-1zM152 101h1v1h-1zM155 101h1v1h-1zM161 101h1v1h-1zM163 101h1v1h-1zM166 101h1v1h-1zM171 101h1v1h-1zM173 101h1v1h-1zM178 101h2v1h-2zM181 101h8v1h-8zM190 101h1v1h-1zM193 101h1v1h-1zM198 101h1v1h-1zM200 101h1v1h-1zM128 102h20v1h-20zM151 102h3v1h-3zM155 102h1v1h-1zM157 102h3v1h-3zM161 102h1v1h-1zM173 102h1v1h-1zM177 102h1v1h-1zM181 102h1v1h-1zM183 102h3v1h-3zM188 102h1v1h-1zM190 102h1v1h-1zM193 102h1v1h-1zM198 102h3v1h-3zM101 103h1v1h-1zM103 103h1v1h-1zM129 103h19v1h-19zM151 103h1v1h-1zM154 103h1v1h-1zM156 103h6v1h-6zM164 103h1v1h-1zM166 103h2v1h-2zM169 103h3v1h-3zM180 103h2v1h-2zM190 103h1v1h-1zM192 103h1v1h-1zM194 103h1v1h-1zM62 104h1v1h-1zM103 104h1v1h-1zM107 104h1v1h-1zM129 104h20v1h-20zM154 104h2v1h-2zM160 104h1v1h-1zM162 104h2v1h-2zM169 104h1v1h-1zM172 104h3v1h-3zM180 104h1v1h-1zM183 104h2v1h-2zM186 104h1v1h-1zM191 104h2v1h-2zM194 104h1v1h-1zM197 104h1v1h-1zM200 104h2v1h-2zM130 105h3v1h-3zM134 105h1v1h-1zM136 105h1v1h-1zM139 105h11v1h-11zM153 105h1v1h-1zM155 105h1v1h-1zM158 105h1v1h-1zM161 105h1v1h-1zM163 105h1v1h-1zM165 105h3v1h-3zM173 105h3v1h-3zM178 105h1v1h-1zM183 105h1v1h-1zM192 105h2v1h-2zM197 105h1v1h-1zM201 105h1v1h-1zM203 105h1v1h-1zM63 106h1v1h-1zM66 106h1v1h-1zM129 106h7v1h-7zM140 106h3v1h-3zM144 106h1v1h-1zM146 106h4v1h-4zM152 106h2v1h-2zM161 106h1v1h-1zM163 106h1v1h-1zM165 106h4v1h-4zM170 106h2v1h-2zM174 106h1v1h-1zM177 106h1v1h-1zM184 106h1v1h-1zM191 106h1v1h-1zM193 106h1v1h-1zM196 106h1v1h-1zM201 106h3v1h-3zM64 107h3v1h-3zM127 107h1v1h-1zM130 107h5v1h-5zM142 107h1v1h-1zM145 107h1v1h-1zM147 107h4v1h-4zM153 107h2v1h-2zM156 107h1v1h-1zM163 107h1v1h-1zM166 107h1v1h-1zM168 107h1v1h-1zM170 107h1v1h-1zM172 107h4v1h-4zM177 107h2v1h-2zM182 107h2v1h-2zM191 107h2v1h-2zM196 107h1v1h-1zM198 107h3v1h-3zM202 107h2v1h-2zM128 108h1v1h-1zM130 108h6v1h-6zM140 108h6v1h-6zM147 108h6v1h-6zM154 108h1v1h-1zM157 108h1v1h-1zM160 108h1v1h-1zM162 108h1v1h-1zM164 108h2v1h-2zM170 108h2v1h-2zM175 108h1v1h-1zM179 108h1v1h-1zM181 108h2v1h-2zM186 108h1v1h-1zM194 108h1v1h-1zM197 108h3v1h-3zM201 108h1v1h-1zM203 108h1v1h-1zM128 109h1v1h-1zM131 109h5v1h-5zM137 109h6v1h-6zM144 109h2v1h-2zM147 109h5v1h-5zM153 109h1v1h-1zM157 109h1v1h-1zM163 109h1v1h-1zM166 109h2v1h-2zM174 109h2v1h-2zM178 109h1v1h-1zM181 109h1v1h-1zM193 109h4v1h-4zM198 109h2v1h-2zM130 110h13v1h-13zM144 110h5v1h-5zM150 110h3v1h-3zM155 110h1v1h-1zM160 110h1v1h-1zM164 110h1v1h-1zM166 110h1v1h-1zM175 110h4v1h-4zM180 110h1v1h-1zM183 110h1v1h-1zM195 110h2v1h-2zM198 110h1v1h-1zM128 111h20v1h-20zM149 111h3v1h-3zM155 111h1v1h-1zM160 111h2v1h-2zM163 111h2v1h-2zM169 111h1v1h-1zM181 111h1v1h-1zM195 111h6v1h-6zM202 111h1v1h-1zM120 112h1v1h-1zM122 112h1v1h-1zM124 112h1v1h-1zM127 112h3v1h-3zM131 112h19v1h-19zM158 112h2v1h-2zM162 112h1v1h-1zM164 112h1v1h-1zM166 112h2v1h-2zM179 112h2v1h-2zM190 112h1v1h-1zM192 112h1v1h-1zM196 112h1v1h-1zM199 112h1v1h-1zM201 112h1v1h-1zM77 113h1v1h-1zM120 113h2v1h-2zM123 113h2v1h-2zM127 113h15v1h-15zM143 113h8v1h-8zM152 113h1v1h-1zM156 113h2v1h-2zM159 113h1v1h-1zM161 113h1v1h-1zM163 113h1v1h-1zM165 113h1v1h-1zM167 113h2v1h-2zM178 113h2v1h-2zM191 113h1v1h-1zM193 113h1v1h-1zM197 113h1v1h-1zM200 113h1v1h-1zM122 114h2v1h-2zM129 114h1v1h-1zM131 114h2v1h-2zM134 114h10v1h-10zM146 114h4v1h-4zM152 114h2v1h-2zM159 114h2v1h-2zM163 114h2v1h-2zM166 114h2v1h-2zM178 114h4v1h-4zM183 114h2v1h-2zM186 114h1v1h-1zM188 114h1v1h-1zM190 114h1v1h-1zM196 114h1v1h-1zM199 114h3v1h-3zM80 115h2v1h-2zM115 115h1v1h-1zM122 115h3v1h-3zM133 115h1v1h-1zM135 115h6v1h-6zM142 115h8v1h-8zM151 115h1v1h-1zM154 115h2v1h-2zM159 115h2v1h-2zM166 115h3v1h-3zM180 115h1v1h-1zM182 115h1v1h-1zM184 115h2v1h-2zM187 115h2v1h-2zM192 115h2v1h-2zM198 115h3v1h-3zM81 116h1v1h-1zM88 116h2v1h-2zM134 116h7v1h-7zM142 116h9v1h-9zM153 116h1v1h-1zM161 116h1v1h-1zM163 116h1v1h-1zM166 116h1v1h-1zM168 116h1v1h-1zM177 116h2v1h-2zM181 116h3v1h-3zM191 116h2v1h-2zM194 116h2v1h-2zM197 116h3v1h-3zM86 117h2v1h-2zM136 117h14v1h-14zM161 117h4v1h-4zM168 117h1v1h-1zM177 117h2v1h-2zM180 117h2v1h-2zM183 117h1v1h-1zM187 117h2v1h-2zM190 117h1v1h-1zM192 117h1v1h-1zM194 117h2v1h-2zM197 117h2v1h-2zM202 117h2v1h-2zM88 118h3v1h-3zM137 118h13v1h-13zM154 118h3v1h-3zM158 118h1v1h-1zM162 118h1v1h-1zM178 118h3v1h-3zM182 118h2v1h-2zM188 118h1v1h-1zM190 118h1v1h-1zM193 118h2v1h-2zM196 118h1v1h-1zM199 118h2v1h-2zM202 118h2v1h-2zM88 119h1v1h-1zM90 119h1v1h-1zM125 119h1v1h-1zM134 119h1v1h-1zM138 119h2v1h-2zM141 119h2v1h-2zM144 119h4v1h-4zM155 119h1v1h-1zM158 119h2v1h-2zM161 119h2v1h-2zM168 119h1v1h-1zM170 119h1v1h-1zM176 119h3v1h-3zM185 119h1v1h-1zM187 119h1v1h-1zM189 119h5v1h-5zM196 119h1v1h-1zM198 119h2v1h-2zM201 119h2v1h-2zM204 119h1v1h-1zM87 120h1v1h-1zM146 120h2v1h-2zM155 120h1v1h-1zM159 120h1v1h-1zM162 120h1v1h-1zM166 120h1v1h-1zM168 120h1v1h-1zM176 120h1v1h-1zM180 120h1v1h-1zM183 120h1v1h-1zM185 120h2v1h-2zM191 120h1v1h-1zM193 120h5v1h-5zM199 120h1v1h-1zM201 120h3v1h-3zM87 121h1v1h-1zM89 121h1v1h-1zM91 121h1v1h-1zM94 121h1v1h-1zM131 121h3v1h-3zM155 121h1v1h-1zM160 121h1v1h-1zM163 121h1v1h-1zM166 121h1v1h-1zM168 121h1v1h-1zM177 121h1v1h-1zM179 121h2v1h-2zM185 121h2v1h-2zM188 121h1v1h-1zM191 121h2v1h-2zM194 121h1v1h-1zM199 121h3v1h-3zM89 122h1v1h-1zM93 122h1v1h-1zM96 122h1v1h-1zM127 122h2v1h-2zM156 122h2v1h-2zM159 122h1v1h-1zM161 122h3v1h-3zM166 122h1v1h-1zM176 122h1v1h-1zM179 122h1v1h-1zM181 122h1v1h-1zM191 122h1v1h-1zM199 122h1v1h-1zM90 123h1v1h-1zM96 123h1v1h-1zM130 123h1v1h-1zM147 123h1v1h-1zM155 123h3v1h-3zM159 123h2v1h-2zM167 123h1v1h-1zM169 123h2v1h-2zM176 123h1v1h-1zM179 123h3v1h-3zM197 123h2v1h-2zM202 123h2v1h-2zM89 124h3v1h-3zM128 124h3v1h-3zM161 124h1v1h-1zM165 124h1v1h-1zM170 124h1v1h-1zM175 124h2v1h-2zM191 124h1v1h-1zM202 124h1v1h-1zM88 125h1v1h-1zM97 125h1v1h-1zM128 125h1v1h-1zM132 125h1v1h-1zM156 125h4v1h-4zM162 125h1v1h-1zM164 125h2v1h-2zM167 125h1v1h-1zM170 125h4v1h-4zM175 125h1v1h-1zM178 125h1v1h-1zM182 125h1v1h-1zM191 125h2v1h-2zM197 125h1v1h-1zM202 125h1v1h-1zM85 126h1v1h-1zM97 126h1v1h-1zM161 126h1v1h-1zM163 126h2v1h-2zM166 126h1v1h-1zM168 126h2v1h-2zM172 126h1v1h-1zM174 126h1v1h-1zM177 126h2v1h-2zM180 126h3v1h-3zM191 126h1v1h-1zM93 127h1v1h-1zM97 127h1v1h-1zM129 127h1v1h-1zM167 127h1v1h-1zM169 127h14v1h-14zM186 127h1v1h-1zM190 127h3v1h-3zM196 127h1v1h-1zM201 127h1v1h-1zM95 128h1v1h-1zM98 128h2v1h-2zM137 128h1v1h-1zM142 128h3v1h-3zM156 128h2v1h-2zM167 128h2v1h-2zM170 128h4v1h-4zM179 128h1v1h-1zM188 128h1v1h-1zM191 128h1v1h-1zM194 128h4v1h-4zM200 128h1v1h-1zM86 129h1v1h-1zM92 129h1v1h-1zM96 129h2v1h-2zM99 129h2v1h-2zM142 129h1v1h-1zM145 129h1v1h-1zM155 129h1v1h-1zM158 129h1v1h-1zM165 129h1v1h-1zM167 129h1v1h-1zM171 129h5v1h-5zM179 129h1v1h-1zM185 129h4v1h-4zM190 129h6v1h-6zM197 129h1v1h-1zM97 130h1v1h-1zM148 130h1v1h-1zM153 130h1v1h-1zM157 130h1v1h-1zM165 130h8v1h-8zM175 130h1v1h-1zM184 130h1v1h-1zM186 130h2v1h-2zM189 130h5v1h-5zM196 130h2v1h-2zM95 131h1v1h-1zM132 131h1v1h-1zM135 131h1v1h-1zM142 131h3v1h-3zM152 131h1v1h-1zM164 131h1v1h-1zM166 131h1v1h-1zM169 131h1v1h-1zM172 131h1v1h-1zM176 131h3v1h-3zM186 131h1v1h-1zM188 131h2v1h-2zM191 131h3v1h-3zM196 131h1v1h-1zM87 132h1v1h-1zM93 132h1v1h-1zM95 132h1v1h-1zM97 132h1v1h-1zM100 132h1v1h-1zM138 132h1v1h-1zM141 132h4v1h-4zM146 132h1v1h-1zM164 132h1v1h-1zM167 132h7v1h-7zM177 132h1v1h-1zM180 132h1v1h-1zM192 132h1v1h-1zM195 132h2v1h-2zM86 133h3v1h-3zM92 133h2v1h-2zM95 133h1v1h-1zM100 133h1v1h-1zM142 133h1v1h-1zM144 133h3v1h-3zM152 133h1v1h-1zM157 133h1v1h-1zM164 133h1v1h-1zM167 133h1v1h-1zM169 133h1v1h-1zM171 133h2v1h-2zM175 133h1v1h-1zM177 133h2v1h-2zM190 133h1v1h-1zM193 133h3v1h-3zM92 134h3v1h-3zM96 134h1v1h-1zM99 134h1v1h-1zM102 134h1v1h-1zM105 134h1v1h-1zM132 134h1v1h-1zM141 134h7v1h-7zM156 134h1v1h-1zM163 134h2v1h-2zM167 134h1v1h-1zM169 134h1v1h-1zM171 134h2v1h-2zM174 134h2v1h-2zM177 134h3v1h-3zM189 134h7v1h-7zM86 135h4v1h-4zM91 135h1v1h-1zM98 135h1v1h-1zM100 135h1v1h-1zM105 135h1v1h-1zM143 135h2v1h-2zM152 135h1v1h-1zM164 135h2v1h-2zM167 135h1v1h-1zM169 135h2v1h-2zM172 135h1v1h-1zM174 135h1v1h-1zM177 135h1v1h-1zM180 135h1v1h-1zM189 135h2v1h-2zM192 135h1v1h-1zM194 135h1v1h-1zM87 136h2v1h-2zM90 136h1v1h-1zM93 136h3v1h-3zM99 136h1v1h-1zM102 136h2v1h-2zM166 136h1v1h-1zM168 136h2v1h-2zM171 136h1v1h-1zM176 136h2v1h-2zM180 136h1v1h-1zM185 136h2v1h-2zM188 136h4v1h-4zM193 136h1v1h-1zM196 136h1v1h-1zM86 137h1v1h-1zM88 137h1v1h-1zM90 137h2v1h-2zM96 137h5v1h-5zM164 137h3v1h-3zM168 137h1v1h-1zM170 137h3v1h-3zM174 137h1v1h-1zM177 137h1v1h-1zM180 137h1v1h-1zM183 137h2v1h-2zM86 138h1v1h-1zM88 138h4v1h-4zM96 138h4v1h-4zM101 138h1v1h-1zM167 138h1v1h-1zM170 138h2v1h-2zM173 138h1v1h-1zM177 138h1v1h-1zM180 138h1v1h-1zM182 138h2v1h-2zM89 139h1v1h-1zM96 139h1v1h-1zM98 139h3v1h-3zM102 139h1v1h-1zM107 139h1v1h-1zM164 139h1v1h-1zM166 139h2v1h-2zM170 139h2v1h-2zM175 139h6v1h-6zM182 139h1v1h-1zM85 140h2v1h-2zM90 140h1v1h-1zM92 140h1v1h-1zM94 140h1v1h-1zM96 140h3v1h-3zM101 140h1v1h-1zM165 140h1v1h-1zM169 140h3v1h-3zM174 140h6v1h-6zM87 141h1v1h-1zM91 141h1v1h-1zM95 141h1v1h-1zM97 141h3v1h-3zM101 141h1v1h-1zM171 141h2v1h-2zM175 141h3v1h-3zM87 142h1v1h-1zM90 142h1v1h-1zM92 142h2v1h-2zM96 142h1v1h-1zM101 142h1v1h-1zM108 142h1v1h-1zM167 142h1v1h-1zM172 142h1v1h-1zM175 142h1v1h-1zM91 143h1v1h-1zM97 143h4v1h-4zM105 143h1v1h-1zM107 143h1v1h-1zM85 144h1v1h-1zM87 144h1v1h-1zM89 144h2v1h-2zM92 144h1v1h-1zM94 144h2v1h-2zM97 144h2v1h-2zM101 144h3v1h-3zM106 144h1v1h-1zM109 144h1v1h-1zM86 145h3v1h-3zM91 145h2v1h-2zM97 145h2v1h-2zM101 145h3v1h-3zM105 145h1v1h-1zM108 145h1v1h-1zM86 146h5v1h-5zM93 146h2v1h-2zM97 146h2v1h-2zM101 146h5v1h-5zM87 147h2v1h-2zM90 147h2v1h-2zM93 147h2v1h-2zM98 147h1v1h-1zM100 147h1v1h-1zM102 147h2v1h-2zM106 147h1v1h-1zM86 148h4v1h-4zM92 148h1v1h-1zM94 148h1v1h-1zM98 148h1v1h-1zM100 148h1v1h-1zM105 148h1v1h-1zM86 149h3v1h-3zM103 149h1v1h-1zM106 149h2v1h-2zM86 150h3v1h-3zM100 150h1v1h-1zM105 150h1v1h-1zM86 151h1v1h-1zM102 151h1v1h-1zM105 151h2v1h-2zM108 151h1v1h-1zM103 152h2v1h-2zM103 153h2v1h-2zM102 154h4v1h-4zM107 154h1v1h-1zM100 155h2v1h-2zM105 155h1v1h-1zM100 156h2v1h-2zM105 156h2v1h-2zM101 157h1v1h-1zM104 157h2v1h-2zM97 158h1v1h-1zM101 158h1v1h-1zM104 158h1v1h-1zM106 158h1v1h-1zM102 160h1v1h-1zM107 160h1v1h-1zM107 162h1v1h-1zM102 163h1v1h-1zM103 165h1v1h-1zM105 165h1v1h-1zM105 166h1v1h-1zM103 167h3v1h-3zM94 168h2v1h-2zM97 168h1v1h-1zM99 168h1v1h-1zM102 168h1v1h-1zM96 169h1v1h-1zM105 169h1v1h-1zM90 170h1v1h-1zM94 170h2v1h-2zM98 170h1v1h-1zM90 171h1v1h-1zM95 171h4v1h-4zM100 171h1v1h-1zM93 172h1v1h-1zM97 172h2v1h-2zM100 172h3v1h-3zM97 173h1v1h-1zM99 173h1v1h-1zM102 173h1v1h-1zM95 174h3v1h-3zM99 174h3v1h-3zM104 174h1v1h-1zM96 175h1v1h-1zM98 175h2v1h-2zM102 175h4v1h-4zM93 176h1v1h-1zM95 176h3v1h-3zM100 176h4v1h-4zM105 176h1v1h-1zM91 177h1v1h-1zM93 177h1v1h-1zM98 177h2v1h-2zM102 177h1v1h-1zM105 177h1v1h-1zM97 178h3v1h-3zM101 178h3v1h-3zM105 178h1v1h-1zM96 179h1v1h-1zM98 179h7v1h-7zM96 180h1v1h-1zM103 180h1v1h-1zM98 181h1v1h-1zM102 181h1v1h-1zM93 183h1v1h-1zM98 184h1v1h-1zM93 185h1v1h-1zM98 185h1v1h-1zM92 187h2v1h-2zM92 188h2v1h-2zM98 188h1v1h-1zM93 189h1v1h-1zM95 189h1v1h-1zM97 190h1v1h-1zM99 190h1v1h-1zM94 191h3v1h-3zM99 191h1v1h-1zM94 192h1v1h-1zM96 192h2v1h-2zM99 192h1v1h-1zM95 194h2v1h-2zM95 195h1v1h-1zM95 196h1v1h-1zM102 201h1v1h-1zM101 202h1v1h-1zM107 203h1v1h-1zM109 205h1v1h-1zM114 206h1v1h-1zM113 207h3v1h-3zM89 208h1v1h-1zM110 208h1v1h-1zM114 208h3v1h-3zM114 209h2v1h-2zM113 210h3v1h-3zM94 211h1v1h-1zM97 211h1v1h-1zM111 211h5v1h-5zM83 212h3v1h-3zM94 212h1v1h-1zM96 212h1v1h-1zM111 212h3v1h-3zM83 213h1v1h-1zM85 213h3v1h-3zM91 213h2v1h-2zM97 213h1v1h-1zM111 213h4v1h-4zM87 214h2v1h-2zM90 214h5v1h-5zM90 215h6v1h-6zM92 216h1v1h-1zM89 219h1v1h-1zM89 220h1v1h-1zM91 220h1v1h-1zM85 221h7v1h-7zM84 222h7v1h-7zM82 223h1v1h-1zM84 223h4v1h-4zM91 223h3v1h-3zM99 223h3v1h-3zM103 223h1v1h-1zM80 224h4v1h-4zM86 224h3v1h-3zM91 224h1v1h-1zM93 224h3v1h-3zM99 224h3v1h-3zM103 224h1v1h-1zM81 225h8v1h-8zM91 225h3v1h-3zM95 225h3v1h-3zM99 225h6v1h-6zM80 226h3v1h-3zM86 226h2v1h-2zM93 226h12v1h-12zM80 227h3v1h-3zM86 227h1v1h-1zM91 227h4v1h-4zM96 227h9v1h-9zM81 228h2v1h-2zM86 228h2v1h-2zM92 228h2v1h-2zM95 228h8v1h-8zM80 229h1v1h-1zM82 229h1v1h-1zM87 229h1v1h-1zM92 229h5v1h-5zM98 229h3v1h-3zM102 229h1v1h-1zM81 230h1v1h-1zM87 230h1v1h-1zM93 230h5v1h-5zM81 231h1v1h-1zM87 231h2v1h-2zM93 231h4v1h-4zM81 232h4v1h-4zM87 232h2v1h-2zM92 232h1v1h-1zM94 232h2v1h-2zM81 233h5v1h-5zM89 233h1v1h-1zM91 233h5v1h-5zM80 234h5v1h-5zM95 234h1v1h-1zM81 235h1v1h-1zM83 235h2v1h-2zM95 235h1v1h-1zM80 236h2v1h-2zM83 236h4v1h-4zM89 236h5v1h-5zM97 236h1v1h-1zM80 237h2v1h-2zM86 237h8v1h-8zM98 237h1v1h-1zM80 238h7v1h-7zM88 238h2v1h-2zM91 238h1v1h-1zM100 238h1v1h-1zM102 238h1v1h-1zM81 239h1v1h-1zM84 239h7v1h-7zM81 240h2v1h-2zM84 240h4v1h-4zM81 241h1v1h-1zM83 241h1v1h-1zM85 241h5v1h-5zM101 241h1v1h-1zM79 242h3v1h-3zM85 242h2v1h-2zM100 242h1v1h-1zM80 243h3v1h-3zM85 243h1v1h-1zM87 243h1v1h-1zM80 244h1v1h-1zM82 244h1v1h-1zM85 244h2v1h-2zM88 244h1v1h-1zM81 245h1v1h-1zM83 245h2v1h-2zM86 245h1v1h-1zM82 246h4v1h-4zM81 247h5v1h-5zM82 248h5v1h-5zM95 248h1v1h-1zM82 249h10v1h-10zM94 249h1v1h-1zM83 250h6v1h-6zM82 251h1v1h-1zM82 252h1v1h-1z"/><path fill="#a50026" d="M139 25h2v1h-2zM138 26h1v1h-1zM138 27h1v1h-1zM140 27h1v1h-1zM142 27h1v1h-1zM146 27h1v1h-1zM142 28h1v1h-1zM142 29h1v1h-1zM147 29h2v1h-2zM146 30h2v1h-2zM142 31h1v1h-1zM142 32h1v1h-1zM145 32h1v1h-1zM141 33h4v1h-4zM146 33h3v1h-3zM159 33h2v1h-2zM141 34h2v1h-2zM144 34h6v1h-6zM160 34h1v1h-1zM141 35h4v1h-4zM148 35h2v1h-2zM158 35h3v1h-3zM137 36h2v1h-2zM141 36h1v1h-1zM143 36h1v1h-1zM147 36h3v1h-3zM157 36h4v1h-4zM140 37h1v1h-1zM143 38h1v1h-1zM139 39h1v1h-1zM143 39h1v1h-1zM151 40h1v1h-1zM156 40h3v1h-3zM160 40h1v1h-1zM162 40h1v1h-1zM148 41h2v1h-2zM151 41h2v1h-2zM154 41h1v1h-1zM159 41h1v1h-1zM161 41h4v1h-4zM151 42h3v1h-3zM155 42h4v1h-4zM160 42h3v1h-3zM164 42h1v1h-1zM150 43h4v1h-4zM155 43h3v1h-3zM159 43h3v1h-3zM163 43h1v1h-1zM151 44h3v1h-3zM155 44h4v1h-4zM137 45h1v1h-1zM139 45h1v1h-1zM150 45h1v1h-1zM153 45h7v1h-7zM163 45h1v1h-1zM137 46h1v1h-1zM139 46h1v1h-1zM153 46h2v1h-2zM156 46h1v1h-1zM160 46h3v1h-3zM135 47h1v1h-1zM139 47h1v1h-1zM149 47h2v1h-2zM162 47h1v1h-1zM139 48h1v1h-1zM150 48h2v1h-2zM160 48h1v1h-1zM139 49h1v1h-1zM141 49h1v1h-1zM148 49h1v1h-1zM150 49h2v1h-2zM133 50h1v1h-1zM141 50h1v1h-1zM148 50h2v1h-2zM134 51h1v1h-1zM136 51h1v1h-1zM144 51h1v1h-1zM146 51h1v1h-1zM151 51h1v1h-1zM163 51h1v1h-1zM169 51h1v1h-1zM44 52h1v1h-1zM134 52h2v1h-2zM137 52h1v1h-1zM143 52h1v1h-1zM165 52h1v1h-1zM169 52h1v1h-1zM171 52h1v1h-1zM132 53h1v1h-1zM142 53h1v1h-1zM145 53h7v1h-7zM154 53h1v1h-1zM161 53h2v1h-2zM166 53h1v1h-1zM168 53h2v1h-2zM178 53h4v1h-4zM142 54h1v1h-1zM145 54h4v1h-4zM150 54h1v1h-1zM154 54h1v1h-1zM156 54h2v1h-2zM160 54h1v1h-1zM162 54h5v1h-5zM170 54h1v1h-1zM176 54h7v1h-7zM143 55h2v1h-2zM147 55h1v1h-1zM149 55h3v1h-3zM154 55h2v1h-2zM157 55h2v1h-2zM161 55h2v1h-2zM174 55h2v1h-2zM177 55h9v1h-9zM146 56h2v1h-2zM149 56h1v1h-1zM152 56h2v1h-2zM157 56h1v1h-1zM161 56h3v1h-3zM170 56h1v1h-1zM177 56h11v1h-11zM143 57h2v1h-2zM146 57h5v1h-5zM157 57h2v1h-2zM161 57h2v1h-2zM164 57h1v1h-1zM173 57h1v1h-1zM175 57h1v1h-1zM178 57h10v1h-10zM143 58h1v1h-1zM148 58h1v1h-1zM152 58h1v1h-1zM158 58h1v1h-1zM162 58h1v1h-1zM165 58h1v1h-1zM179 58h10v1h-10zM153 59h1v1h-1zM156 59h1v1h-1zM161 59h2v1h-2zM174 59h2v1h-2zM180 59h8v1h-8zM192 59h1v1h-1zM180 60h8v1h-8zM191 60h5v1h-5zM159 61h2v1h-2zM181 61h7v1h-7zM189 61h10v1h-10zM150 62h1v1h-1zM176 62h1v1h-1zM182 62h17v1h-17zM207 62h1v1h-1zM209 62h1v1h-1zM150 63h3v1h-3zM158 63h1v1h-1zM167 63h1v1h-1zM182 63h13v1h-13zM196 63h1v1h-1zM198 63h1v1h-1zM204 63h1v1h-1zM208 63h1v1h-1zM136 64h1v1h-1zM150 64h1v1h-1zM158 64h2v1h-2zM161 64h1v1h-1zM182 64h19v1h-19zM203 64h1v1h-1zM205 64h2v1h-2zM155 65h1v1h-1zM159 65h1v1h-1zM163 65h1v1h-1zM183 65h14v1h-14zM198 65h1v1h-1zM205 65h1v1h-1zM42 66h2v1h-2zM183 66h15v1h-15zM201 66h1v1h-1zM209 66h1v1h-1zM211 66h2v1h-2zM43 67h2v1h-2zM155 67h1v1h-1zM168 67h1v1h-1zM183 67h5v1h-5zM189 67h1v1h-1zM192 67h2v1h-2zM195 67h2v1h-2zM201 67h2v1h-2zM211 67h1v1h-1zM213 67h2v1h-2zM42 68h1v1h-1zM44 68h1v1h-1zM186 68h2v1h-2zM191 68h1v1h-1zM193 68h2v1h-2zM196 68h1v1h-1zM211 68h2v1h-2zM214 68h1v1h-1zM43 69h1v1h-1zM45 69h1v1h-1zM137 69h1v1h-1zM147 69h1v1h-1zM154 69h1v1h-1zM160 69h1v1h-1zM163 69h1v1h-1zM195 69h1v1h-1zM203 69h2v1h-2zM207 69h1v1h-1zM211 69h1v1h-1zM44 70h2v1h-2zM135 70h1v1h-1zM147 70h2v1h-2zM152 70h1v1h-1zM168 70h1v1h-1zM202 70h5v1h-5zM215 70h2v1h-2zM148 71h1v1h-1zM162 71h1v1h-1zM168 71h1v1h-1zM196 71h1v1h-1zM201 71h1v1h-1zM203 71h3v1h-3zM207 71h1v1h-1zM209 71h1v1h-1zM216 71h1v1h-1zM219 71h1v1h-1zM136 72h1v1h-1zM140 72h1v1h-1zM146 72h1v1h-1zM148 72h1v1h-1zM166 72h1v1h-1zM202 72h1v1h-1zM204 72h1v1h-1zM209 72h1v1h-1zM217 72h3v1h-3zM47 73h1v1h-1zM142 73h1v1h-1zM144 73h3v1h-3zM168 73h1v1h-1zM196 73h2v1h-2zM199 73h1v1h-1zM202 73h1v1h-1zM204 73h1v1h-1zM208 73h1v1h-1zM210 73h3v1h-3zM215 73h3v1h-3zM220 73h1v1h-1zM46 74h1v1h-1zM142 74h1v1h-1zM144 74h1v1h-1zM146 74h1v1h-1zM155 74h1v1h-1zM195 74h1v1h-1zM198 74h1v1h-1zM202 74h1v1h-1zM208 74h1v1h-1zM210 74h3v1h-3zM214 74h1v1h-1zM217 74h2v1h-2zM152 75h1v1h-1zM194 75h1v1h-1zM197 75h2v1h-2zM207 75h3v1h-3zM211 75h3v1h-3zM215 75h1v1h-1zM217 75h1v1h-1zM219 75h1v1h-1zM149 76h1v1h-1zM209 76h7v1h-7zM217 76h1v1h-1zM219 76h1v1h-1zM151 77h1v1h-1zM196 77h1v1h-1zM200 77h1v1h-1zM203 77h2v1h-2zM206 77h1v1h-1zM208 77h1v1h-1zM216 77h2v1h-2zM219 77h1v1h-1zM142 78h1v1h-1zM192 78h1v1h-1zM201 78h4v1h-4zM209 78h1v1h-1zM214 78h1v1h-1zM218 78h2v1h-2zM146 79h2v1h-2zM193 79h2v1h-2zM196 79h1v1h-1zM202 79h1v1h-1zM204 79h2v1h-2zM218 79h1v1h-1zM136 80h1v1h-1zM143 80h1v1h-1zM146 80h1v1h-1zM154 80h1v1h-1zM192 80h1v1h-1zM194 80h3v1h-3zM201 80h5v1h-5zM210 80h1v1h-1zM212 80h1v1h-1zM214 80h2v1h-2zM217 80h1v1h-1zM138 81h1v1h-1zM147 81h1v1h-1zM155 81h1v1h-1zM195 81h2v1h-2zM201 81h4v1h-4zM208 81h5v1h-5zM136 82h1v1h-1zM146 82h2v1h-2zM150 82h1v1h-1zM166 82h1v1h-1zM187 82h2v1h-2zM194 82h3v1h-3zM204 82h1v1h-1zM209 82h2v1h-2zM213 82h1v1h-1zM139 83h2v1h-2zM152 83h2v1h-2zM155 83h2v1h-2zM166 83h1v1h-1zM198 83h1v1h-1zM200 83h1v1h-1zM205 83h2v1h-2zM210 83h1v1h-1zM138 84h1v1h-1zM152 84h2v1h-2zM165 84h2v1h-2zM187 84h1v1h-1zM189 84h1v1h-1zM198 84h2v1h-2zM203 84h1v1h-1zM213 84h1v1h-1zM140 85h2v1h-2zM152 85h1v1h-1zM154 85h1v1h-1zM190 85h2v1h-2zM199 85h1v1h-1zM168 86h1v1h-1zM183 86h1v1h-1zM187 86h1v1h-1zM197 86h1v1h-1zM199 86h2v1h-2zM186 87h3v1h-3zM192 87h1v1h-1zM200 87h1v1h-1zM165 88h1v1h-1zM185 88h1v1h-1zM188 88h2v1h-2zM192 88h1v1h-1zM195 88h1v1h-1zM206 88h3v1h-3zM153 89h1v1h-1zM163 89h2v1h-2zM184 89h3v1h-3zM188 89h1v1h-1zM190 89h2v1h-2zM193 89h2v1h-2zM196 89h1v1h-1zM155 90h1v1h-1zM165 90h1v1h-1zM174 90h2v1h-2zM183 90h1v1h-1zM186 90h2v1h-2zM189 90h2v1h-2zM192 90h5v1h-5zM153 91h1v1h-1zM155 91h2v1h-2zM162 91h3v1h-3zM166 91h1v1h-1zM169 91h2v1h-2zM175 91h1v1h-1zM183 91h2v1h-2zM188 91h5v1h-5zM194 91h2v1h-2zM154 92h2v1h-2zM167 92h2v1h-2zM170 92h1v1h-1zM189 92h3v1h-3zM193 92h3v1h-3zM152 93h2v1h-2zM155 93h2v1h-2zM163 93h1v1h-1zM170 93h3v1h-3zM177 93h1v1h-1zM190 93h3v1h-3zM195 93h2v1h-2zM151 94h2v1h-2zM154 94h1v1h-1zM168 94h1v1h-1zM173 94h3v1h-3zM177 94h1v1h-1zM190 94h2v1h-2zM193 94h1v1h-1zM136 95h1v1h-1zM151 95h1v1h-1zM170 95h1v1h-1zM174 95h2v1h-2zM195 95h1v1h-1zM149 96h2v1h-2zM155 96h2v1h-2zM161 96h1v1h-1zM166 96h2v1h-2zM169 96h1v1h-1zM171 96h2v1h-2zM174 96h1v1h-1zM186 96h1v1h-1zM189 96h2v1h-2zM192 96h1v1h-1zM195 96h4v1h-4zM152 97h1v1h-1zM164 97h1v1h-1zM168 97h1v1h-1zM170 97h1v1h-1zM184 97h1v1h-1zM198 97h2v1h-2zM150 98h1v1h-1zM152 98h2v1h-2zM169 98h4v1h-4zM184 98h1v1h-1zM194 98h1v1h-1zM196 98h1v1h-1zM198 98h1v1h-1zM160 99h1v1h-1zM168 99h4v1h-4zM173 99h1v1h-1zM190 99h1v1h-1zM192 99h6v1h-6zM150 100h1v1h-1zM152 100h1v1h-1zM165 100h1v1h-1zM167 100h1v1h-1zM169 100h2v1h-2zM174 100h2v1h-2zM183 100h2v1h-2zM192 100h3v1h-3zM196 100h1v1h-1zM153 101h1v1h-1zM164 101h1v1h-1zM167 101h4v1h-4zM175 101h3v1h-3zM189 101h1v1h-1zM191 101h2v1h-2zM194 101h4v1h-4zM154 102h1v1h-1zM156 102h1v1h-1zM163 102h3v1h-3zM167 102h2v1h-2zM171 102h1v1h-1zM175 102h2v1h-2zM178 102h1v1h-1zM182 102h1v1h-1zM186 102h2v1h-2zM189 102h1v1h-1zM191 102h2v1h-2zM194 102h4v1h-4zM155 103h1v1h-1zM162 103h1v1h-1zM168 103h1v1h-1zM172 103h7v1h-7zM182 103h8v1h-8zM191 103h1v1h-1zM195 103h4v1h-4zM156 104h3v1h-3zM164 104h4v1h-4zM170 104h2v1h-2zM175 104h4v1h-4zM185 104h1v1h-1zM187 104h4v1h-4zM193 104h1v1h-1zM195 104h2v1h-2zM198 104h1v1h-1zM62 105h3v1h-3zM156 105h2v1h-2zM159 105h2v1h-2zM169 105h4v1h-4zM176 105h2v1h-2zM184 105h8v1h-8zM194 105h3v1h-3zM198 105h2v1h-2zM62 106h1v1h-1zM65 106h1v1h-1zM143 106h1v1h-1zM145 106h1v1h-1zM155 106h6v1h-6zM162 106h1v1h-1zM164 106h1v1h-1zM172 106h2v1h-2zM175 106h1v1h-1zM183 106h1v1h-1zM185 106h6v1h-6zM194 106h2v1h-2zM198 106h3v1h-3zM141 107h1v1h-1zM143 107h2v1h-2zM146 107h1v1h-1zM155 107h1v1h-1zM157 107h4v1h-4zM162 107h1v1h-1zM164 107h2v1h-2zM167 107h1v1h-1zM176 107h1v1h-1zM184 107h7v1h-7zM193 107h3v1h-3zM197 107h1v1h-1zM201 107h1v1h-1zM146 108h1v1h-1zM153 108h1v1h-1zM156 108h1v1h-1zM158 108h2v1h-2zM161 108h1v1h-1zM163 108h1v1h-1zM166 108h1v1h-1zM174 108h1v1h-1zM178 108h1v1h-1zM180 108h1v1h-1zM183 108h3v1h-3zM187 108h7v1h-7zM195 108h1v1h-1zM200 108h1v1h-1zM202 108h1v1h-1zM143 109h1v1h-1zM146 109h1v1h-1zM154 109h3v1h-3zM158 109h1v1h-1zM160 109h3v1h-3zM164 109h1v1h-1zM168 109h1v1h-1zM176 109h1v1h-1zM179 109h1v1h-1zM182 109h11v1h-11zM197 109h1v1h-1zM201 109h2v1h-2zM143 110h1v1h-1zM149 110h1v1h-1zM156 110h2v1h-2zM161 110h3v1h-3zM165 110h1v1h-1zM167 110h2v1h-2zM181 110h2v1h-2zM184 110h11v1h-11zM197 110h1v1h-1zM201 110h2v1h-2zM162 111h1v1h-1zM165 111h1v1h-1zM167 111h1v1h-1zM180 111h1v1h-1zM182 111h13v1h-13zM201 111h1v1h-1zM157 112h1v1h-1zM160 112h2v1h-2zM163 112h1v1h-1zM181 112h9v1h-9zM191 112h1v1h-1zM193 112h3v1h-3zM197 112h2v1h-2zM200 112h1v1h-1zM142 113h1v1h-1zM158 113h1v1h-1zM160 113h1v1h-1zM162 113h1v1h-1zM164 113h1v1h-1zM180 113h11v1h-11zM192 113h1v1h-1zM194 113h3v1h-3zM198 113h2v1h-2zM201 113h1v1h-1zM133 114h1v1h-1zM144 114h2v1h-2zM156 114h3v1h-3zM161 114h2v1h-2zM165 114h1v1h-1zM168 114h1v1h-1zM182 114h1v1h-1zM185 114h1v1h-1zM187 114h1v1h-1zM189 114h1v1h-1zM191 114h5v1h-5zM197 114h2v1h-2zM141 115h1v1h-1zM156 115h3v1h-3zM161 115h2v1h-2zM165 115h1v1h-1zM181 115h1v1h-1zM183 115h1v1h-1zM186 115h1v1h-1zM189 115h3v1h-3zM194 115h4v1h-4zM141 116h1v1h-1zM154 116h7v1h-7zM167 116h1v1h-1zM184 116h4v1h-4zM189 116h2v1h-2zM193 116h1v1h-1zM196 116h1v1h-1zM200 116h1v1h-1zM88 117h1v1h-1zM154 117h7v1h-7zM165 117h3v1h-3zM184 117h3v1h-3zM191 117h1v1h-1zM196 117h1v1h-1zM199 117h2v1h-2zM157 118h1v1h-1zM159 118h3v1h-3zM164 118h5v1h-5zM181 118h1v1h-1zM184 118h3v1h-3zM192 118h1v1h-1zM195 118h1v1h-1zM197 118h2v1h-2zM201 118h1v1h-1zM87 119h1v1h-1zM132 119h1v1h-1zM154 119h1v1h-1zM156 119h2v1h-2zM160 119h1v1h-1zM163 119h5v1h-5zM179 119h6v1h-6zM186 119h1v1h-1zM194 119h2v1h-2zM136 120h1v1h-1zM156 120h3v1h-3zM160 120h2v1h-2zM163 120h3v1h-3zM167 120h1v1h-1zM177 120h1v1h-1zM179 120h1v1h-1zM181 120h2v1h-2zM184 120h1v1h-1zM187 120h4v1h-4zM192 120h1v1h-1zM156 121h3v1h-3zM161 121h2v1h-2zM164 121h2v1h-2zM167 121h1v1h-1zM178 121h1v1h-1zM181 121h4v1h-4zM187 121h1v1h-1zM189 121h2v1h-2zM193 121h1v1h-1zM197 121h2v1h-2zM158 122h1v1h-1zM160 122h1v1h-1zM164 122h2v1h-2zM167 122h1v1h-1zM175 122h1v1h-1zM178 122h1v1h-1zM180 122h1v1h-1zM182 122h9v1h-9zM197 122h2v1h-2zM200 122h3v1h-3zM158 123h1v1h-1zM161 123h6v1h-6zM175 123h1v1h-1zM177 123h2v1h-2zM182 123h9v1h-9zM199 123h3v1h-3zM127 124h1v1h-1zM157 124h4v1h-4zM162 124h3v1h-3zM166 124h1v1h-1zM169 124h1v1h-1zM174 124h1v1h-1zM177 124h14v1h-14zM198 124h4v1h-4zM127 125h1v1h-1zM130 125h1v1h-1zM160 125h2v1h-2zM166 125h1v1h-1zM168 125h2v1h-2zM174 125h1v1h-1zM176 125h2v1h-2zM179 125h3v1h-3zM183 125h8v1h-8zM198 125h4v1h-4zM127 126h4v1h-4zM157 126h1v1h-1zM170 126h2v1h-2zM176 126h1v1h-1zM183 126h8v1h-8zM197 126h5v1h-5zM127 127h1v1h-1zM130 127h1v1h-1zM147 127h1v1h-1zM183 127h3v1h-3zM187 127h3v1h-3zM197 127h4v1h-4zM136 128h1v1h-1zM152 128h1v1h-1zM180 128h8v1h-8zM189 128h2v1h-2zM198 128h2v1h-2zM98 129h1v1h-1zM136 129h1v1h-1zM154 129h1v1h-1zM156 129h2v1h-2zM180 129h5v1h-5zM189 129h1v1h-1zM196 129h1v1h-1zM198 129h1v1h-1zM136 130h1v1h-1zM173 130h2v1h-2zM178 130h6v1h-6zM185 130h1v1h-1zM188 130h1v1h-1zM194 130h2v1h-2zM165 131h1v1h-1zM167 131h2v1h-2zM174 131h2v1h-2zM179 131h7v1h-7zM187 131h1v1h-1zM190 131h1v1h-1zM194 131h2v1h-2zM136 132h1v1h-1zM147 132h1v1h-1zM165 132h2v1h-2zM174 132h3v1h-3zM178 132h2v1h-2zM181 132h11v1h-11zM194 132h1v1h-1zM101 133h1v1h-1zM147 133h1v1h-1zM165 133h2v1h-2zM168 133h1v1h-1zM170 133h1v1h-1zM173 133h2v1h-2zM176 133h1v1h-1zM179 133h11v1h-11zM192 133h1v1h-1zM86 134h1v1h-1zM95 134h1v1h-1zM98 134h1v1h-1zM100 134h2v1h-2zM136 134h1v1h-1zM140 134h1v1h-1zM148 134h1v1h-1zM165 134h1v1h-1zM168 134h1v1h-1zM170 134h1v1h-1zM173 134h1v1h-1zM176 134h1v1h-1zM180 134h9v1h-9zM93 135h1v1h-1zM99 135h1v1h-1zM101 135h2v1h-2zM166 135h1v1h-1zM168 135h1v1h-1zM171 135h1v1h-1zM173 135h1v1h-1zM175 135h2v1h-2zM178 135h1v1h-1zM181 135h8v1h-8zM191 135h1v1h-1zM86 136h1v1h-1zM98 136h1v1h-1zM101 136h1v1h-1zM163 136h1v1h-1zM167 136h1v1h-1zM170 136h1v1h-1zM172 136h4v1h-4zM179 136h1v1h-1zM181 136h4v1h-4zM187 136h1v1h-1zM192 136h1v1h-1zM167 137h1v1h-1zM173 137h1v1h-1zM175 137h2v1h-2zM178 137h1v1h-1zM181 137h2v1h-2zM100 138h1v1h-1zM165 138h1v1h-1zM172 138h1v1h-1zM174 138h3v1h-3zM178 138h2v1h-2zM181 138h1v1h-1zM91 139h1v1h-1zM101 139h1v1h-1zM172 139h3v1h-3zM181 139h1v1h-1zM99 140h2v1h-2zM172 140h2v1h-2zM173 141h2v1h-2zM98 142h3v1h-3zM96 143h1v1h-1zM99 144h2v1h-2zM93 145h1v1h-1zM86 147h1v1h-1zM104 147h1v1h-1zM106 148h1v1h-1zM101 149h1v1h-1zM105 153h1v1h-1zM104 155h1v1h-1zM103 156h2v1h-2zM102 157h2v1h-2zM103 158h1v1h-1zM97 169h1v1h-1zM101 171h1v1h-1zM98 173h1v1h-1zM100 173h1v1h-1zM98 174h1v1h-1zM103 174h1v1h-1zM100 175h2v1h-2zM98 176h2v1h-2zM97 177h1v1h-1zM101 177h1v1h-1zM100 178h1v1h-1zM114 212h1v1h-1zM91 222h1v1h-1zM88 223h3v1h-3zM84 224h2v1h-2zM89 224h2v1h-2zM102 224h1v1h-1zM89 225h2v1h-2zM83 226h3v1h-3zM88 226h5v1h-5zM83 227h3v1h-3zM87 227h4v1h-4zM83 228h3v1h-3zM88 228h4v1h-4zM81 229h1v1h-1zM83 229h4v1h-4zM88 229h4v1h-4zM97 229h1v1h-1zM82 230h5v1h-5zM88 230h5v1h-5zM82 231h5v1h-5zM89 231h4v1h-4zM85 232h2v1h-2zM89 232h3v1h-3zM86 233h3v1h-3zM90 233h1v1h-1zM85 234h10v1h-10zM82 235h1v1h-1zM85 235h10v1h-10zM82 236h1v1h-1zM87 236h2v1h-2zM94 236h3v1h-3zM82 237h4v1h-4zM94 237h4v1h-4zM87 238h1v1h-1zM92 238h8v1h-8zM101 238h1v1h-1zM82 239h2v1h-2zM91 239h12v1h-12zM83 240h1v1h-1zM88 240h15v1h-15zM82 241h1v1h-1zM84 241h1v1h-1zM90 241h11v1h-11zM82 242h3v1h-3zM87 242h13v1h-13zM83 243h2v1h-2zM86 243h1v1h-1zM88 243h11v1h-11zM81 244h1v1h-1zM83 244h2v1h-2zM87 244h1v1h-1zM89 244h9v1h-9zM82 245h1v1h-1zM85 245h1v1h-1zM87 245h10v1h-10zM81 246h1v1h-1zM86 246h9v1h-9zM86 247h8v1h-8zM87 248h6v1h-6z"/></g></g>
<path d="M246.40 104.30V1951.70M501.58 104.30V1951.70M756.76 104.30V1951.70M1011.94 104.30V1951.70M1267.12 104.30V1951.70M1522.30 104.30V1951.70M205.50 169.30H1653.40M205.50 441.00H1653.40M205.50 712.70H1653.40M205.50 984.40H1653.40M205.50 1256.10H1653.40M205.50 1527.80H1653.40M205.50 1799.50H1653.40" stroke="#b0b0b0" stroke-width="3.333" fill="none"/>
<g id="borders"><path d="M727.8 97.8L728.9 104.8L728.7 111.2L721.0 122.9L709.4 128.1L705.2 134.4L714.7 143.5L723.7 139.1L732.3 131.4L740.8 126.2L750.1 121.1L747.5 112.8L754.4 107.0L760.1 110.2L762.9 122.8L771.0 127.6L779.1 126.4L786.9 125.1L799.3 134.6L804.4 144.4L808.9 151.9L816.9 151.9L828.3 150.8L837.9 150.8L847.2 152.2L858.3 153.8L869.4 159.9L882.5 161.8L894.4 157.5L902.4 150.3L915.3 152.5L925.8 152.4L936.0 148.7L946.2 147.7L955.5 148.4L964.3 149.1L964.6 151.9L955.0 152.7L943.3 154.0L948.0 165.0L956.7 166.1L967.1 167.8L980.9 174.3L985.2 179.0L990.3 183.4L990.5 195.3L1000.6 207.1L1012.5 206.7L1024.2 214.1L1033.6 220.9L1042.2 227.3L1051.6 235.3L1057.7 244.3L1064.1 252.6L1070.0 259.3L1076.2 266.6L1088.5 275.7L1099.5 277.2L1109.9 278.7L1119.6 280.0L1114.4 277.7L1126.0 275.8L1137.6 275.8L1147.1 277.9L1156.1 280.1L1166.3 281.9L1163.7 289.3L1159.8 296.6L1155.0 304.4L1153.0 312.6L1152.1 322.2L1158.9 333.9L1166.0 343.5L1164.7 350.7L1162.5 359.1L1158.7 367.5L1145.0 375.8L1154.2 381.8L1170.0 377.9L1179.5 380.2L1189.4 381.3L1202.3 369.2L1206.1 361.7L1207.5 354.5L1211.4 345.4L1217.6 335.3L1222.7 325.6L1226.4 317.1L1232.4 324.4L1239.8 332.1L1242.7 343.0L1242.2 352.7L1242.9 361.6L1246.8 371.2L1251.2 380.0L1257.9 385.2L1264.5 391.1L1272.9 401.2L1270.1 409.0L1265.7 416.7L1255.6 427.4L1243.1 437.5L1252.3 441.9L1260.7 445.3L1267.6 449.9L1274.6 451.6L1282.5 451.6L1291.9 449.4L1301.2 447.4L1309.2 446.6L1310.0 463.0L1317.2 461.0L1323.6 457.3L1322.0 456.2L1331.8 456.8L1341.6 458.8L1350.6 460.6L1359.1 462.8L1366.5 464.4L1372.6 468.4L1381.7 475.7L1391.5 482.6L1398.5 478.4L1404.9 486.9L1409.8 492.4L1413.7 499.2L1408.1 508.5L1402.8 518.2L1401.3 527.0L1409.5 524.0L1416.5 518.6L1422.6 512.6L1430.7 503.7L1439.8 506.5L1450.2 508.7L1461.9 513.0L1477.8 518.6L1492.7 517.8L1502.7 514.8L1513.1 513.5L1523.9 518.2L1536.1 523.6L1543.4 529.0L1549.8 534.0L1557.3 536.5L1564.9 541.6L1570.5 546.4L1576.6 552.8L1585.0 559.7L1591.9 566.2L1599.3 573.7L1608.8 574.6L1620.3 576.2L1633.6 578.1L1642.9 590.6L1644.8 598.7L1647.0 604.8L1649.4 611.4L1650.8 618.7L1652.8 628.5L1654.6 638.8L1653.1 646.6L1650.7 654.2L1650.2 663.3L1651.5 672.0L1649.4 682.9L1646.1 693.1L1639.6 701.2L1634.3 708.6L1627.3 716.0L1620.2 724.6L1614.5 730.5L1608.2 734.1L1601.0 737.7L1593.0 748.5L1585.9 759.9L1580.1 766.8L1573.5 772.2L1566.5 777.9L1560.8 785.7L1556.2 794.1L1550.9 800.7L1549.4 810.2L1548.8 821.0L1550.7 832.1L1552.3 842.6L1552.6 851.6L1552.5 862.1L1551.4 872.1L1548.4 881.1L1545.4 890.2L1543.4 899.5L1542.4 908.5L1541.3 923.9L1536.5 931.8L1529.8 939.0L1528.9 948.2L1530.5 957.5L1532.3 965.2L1531.2 972.7L1521.9 978.8L1518.0 992.5L1513.4 1000.4L1507.3 1007.9L1501.8 1014.4L1496.8 1022.5L1500.2 1039.6L1492.1 1044.7L1482.9 1048.1L1475.2 1051.6L1472.7 1061.0L1462.7 1059.6L1453.1 1059.4L1446.6 1059.7L1439.7 1062.1L1430.5 1063.0L1420.0 1064.2L1407.7 1064.9L1397.7 1067.2L1404.1 1076.1L1393.5 1082.8L1387.6 1089.4L1376.4 1090.7L1366.8 1091.7L1359.1 1092.0L1351.3 1096.8L1342.6 1102.5L1335.2 1107.7L1327.7 1111.1L1321.0 1116.3L1309.7 1126.5L1300.5 1137.4L1304.0 1149.7L1303.9 1161.1L1302.3 1171.6L1302.9 1179.0L1305.6 1188.0L1303.6 1199.8L1300.1 1211.0L1292.9 1217.7L1287.2 1225.0L1282.5 1230.2L1288.8 1222.1L1293.3 1215.2L1298.9 1207.8L1305.6 1198.8L1301.7 1215.2L1292.6 1221.4L1284.8 1225.2L1280.3 1232.2L1274.0 1241.4L1268.9 1254.3L1262.9 1266.7L1257.7 1273.7L1253.1 1279.3L1248.8 1286.6L1241.4 1293.5L1234.7 1298.7L1226.9 1302.0L1217.7 1302.5L1208.9 1305.1L1210.8 1316.0L1203.9 1327.6L1202.0 1336.2L1200.3 1345.1L1192.1 1349.5L1182.7 1355.3L1175.5 1369.2L1170.0 1377.1L1164.2 1383.9L1152.0 1387.2L1140.1 1391.8L1128.5 1386.2L1119.5 1387.0L1109.0 1387.9L1093.8 1384.2L1081.2 1376.7L1071.1 1374.9L1060.4 1374.2L1047.9 1373.5L1050.8 1382.8L1060.8 1385.4L1069.9 1389.1L1083.2 1394.9L1085.9 1402.7L1080.0 1416.7L1088.8 1428.2L1097.3 1429.8L1096.3 1439.5L1087.7 1452.8L1082.4 1460.2L1076.2 1467.3L1075.8 1475.8L1064.8 1483.2L1054.3 1489.7L1046.1 1490.2L1037.1 1488.9L1029.2 1491.7L1018.9 1495.1L1008.9 1497.5L998.1 1499.5L986.0 1501.1L974.8 1501.9L965.5 1501.6L953.6 1494.5L964.1 1503.0L960.0 1515.1L953.5 1527.0L963.0 1534.9L958.5 1542.9L951.1 1548.3L943.8 1554.5L932.8 1557.2L921.2 1560.0L909.5 1556.7L898.5 1552.8L890.4 1550.6L882.6 1548.7L880.6 1561.0L883.1 1576.1L891.2 1578.6L899.8 1579.9L907.5 1581.2L919.4 1585.3L918.2 1594.6L908.8 1597.3L900.2 1599.3L890.1 1600.7L900.9 1607.1L889.8 1613.3L881.2 1619.3L876.0 1632.3L876.2 1641.0L874.1 1649.5L868.9 1657.0L865.7 1666.4L859.1 1669.0L850.7 1670.2L840.9 1670.7L826.5 1677.5L817.4 1683.9L816.5 1694.3L823.4 1703.4L829.7 1709.8L840.5 1716.4L855.2 1716.2L860.7 1726.5L861.9 1741.8L848.7 1749.3L841.5 1754.7L833.3 1761.1L825.5 1767.3L818.4 1774.6L812.9 1783.6L814.2 1797.4L800.8 1801.6L793.3 1805.3L785.8 1809.3L791.4 1802.5L797.0 1796.6L801.3 1792.1L806.1 1786.7L810.7 1779.7L815.7 1772.4L811.8 1782.3L815.0 1795.0L807.0 1798.2L799.2 1802.2L791.8 1805.5L780.2 1817.2L780.0 1831.6L783.1 1838.9L785.5 1846.2L791.0 1853.7L798.4 1861.2L788.0 1865.3L777.9 1870.6L788.3 1869.0L794.2 1875.2L799.1 1881.5L802.3 1890.1L811.0 1899.2L819.3 1908.6L827.7 1911.2L835.2 1915.1L844.1 1920.2L853.9 1922.4L863.8 1923.1L871.9 1923.7L880.3 1926.0L876.1 1933.4L868.5 1933.9L860.3 1933.8L851.9 1935.6L843.5 1937.1L835.8 1936.4L828.2 1936.1L820.0 1936.6L809.9 1938.4L800.6 1936.9L793.3 1934.1L787.4 1932.4L780.3 1932.7L768.0 1928.1L756.8 1922.6L752.6 1911.1L743.6 1909.9L733.8 1906.6L724.8 1902.3L719.2 1896.3L711.7 1889.0L715.5 1880.8L719.9 1873.9L711.7 1872.6L702.4 1869.4L694.7 1865.5L682.6 1855.7L677.0 1847.8L670.5 1841.0L665.0 1835.4L664.8 1825.7L664.4 1814.0L663.0 1803.0L662.1 1794.4L659.6 1784.9L657.4 1774.5L656.5 1763.6L657.7 1771.3L657.8 1779.1L658.8 1788.7L660.2 1798.9L660.6 1805.5L660.6 1811.7L662.3 1818.3L662.2 1811.7L660.3 1803.4L656.8 1794.9L653.4 1786.9L652.1 1780.8L656.5 1772.7L658.4 1762.8L661.0 1749.9L664.9 1739.3L657.1 1731.3L647.7 1718.9L638.8 1715.4L630.7 1712.3L636.4 1700.1L643.0 1695.5L649.1 1691.4L655.5 1686.7L663.6 1681.4L670.3 1675.7L672.3 1663.9L674.2 1651.8L675.1 1641.1L676.7 1630.8L670.7 1627.5L664.6 1623.5L654.6 1620.7L645.1 1617.2L647.7 1605.4L649.0 1593.6L649.1 1578.4L660.2 1571.0L655.9 1557.9L657.2 1549.2L656.2 1540.6L663.2 1527.6L671.0 1513.1L668.4 1499.0L668.0 1490.6L666.5 1482.1L664.3 1471.9L662.8 1461.9L665.5 1447.5L676.4 1436.4L686.4 1423.2L691.4 1409.1L695.9 1399.8L700.6 1389.3L704.8 1379.1L706.4 1364.0L712.7 1354.7L710.7 1341.5L718.1 1331.5L718.5 1320.9L717.0 1310.0L715.6 1298.4L713.5 1287.1L712.8 1280.0L710.4 1273.6L710.0 1264.9L721.3 1253.7L721.1 1237.8L717.8 1226.0L723.3 1215.4L725.7 1199.7L730.0 1189.1L733.2 1179.0L733.8 1168.2L733.5 1156.0L735.5 1146.2L739.8 1138.1L748.9 1125.7L742.6 1112.4L743.0 1102.7L744.4 1092.8L740.1 1081.6L739.2 1070.3L745.2 1063.9L747.1 1054.8L750.0 1045.1L752.4 1035.7L754.5 1026.2L755.2 1017.5L755.6 1006.9L756.0 997.2L755.3 987.2L751.2 979.0L747.0 970.4L744.2 962.3L744.9 946.2L739.5 939.6L733.7 934.1L725.7 927.2L718.6 921.0L709.8 915.2L700.6 909.3L692.5 905.3L683.4 900.3L675.0 895.4L669.2 890.2L664.1 886.5L657.5 882.7L647.7 876.8L639.3 871.3L630.9 867.1L622.1 862.8L613.7 853.6L605.3 844.8L600.1 837.2L594.9 831.0L588.9 817.9L594.9 811.1L590.4 798.0L584.3 789.1L580.1 778.3L571.0 765.5L573.8 760.3L567.4 753.2L562.0 744.8L557.4 733.5L551.8 723.3L544.9 713.6L541.0 704.0L539.7 695.0L536.6 686.9L532.6 678.9L530.4 667.6L526.9 655.6L520.4 647.2L513.3 639.7L508.3 631.2L501.4 622.4L492.0 620.0L484.0 617.1L477.3 614.6L473.6 608.6L469.5 602.1L469.7 593.0L470.6 583.9L464.1 570.8L464.3 563.0L464.6 554.5L473.4 544.5L478.9 537.3L485.5 528.8L495.9 517.1L495.0 504.7L481.5 506.1L475.6 501.8L485.2 493.1L481.3 482.1L478.9 465.4L487.6 459.9L491.0 450.1L500.9 440.7L498.5 431.5L497.0 422.2L502.6 416.0L517.3 411.0L530.3 404.1L526.1 395.1L531.2 389.8L535.5 378.1L543.6 367.5L556.0 360.3L560.8 349.5L567.3 342.3L572.6 339.0L565.7 327.8L567.5 320.7L569.0 306.0L563.8 293.4L569.9 280.9L566.5 266.4L562.3 253.1L555.9 242.8L557.2 235.0L562.1 229.3L572.7 218.9L564.7 210.0L567.7 204.7L576.4 206.3L585.0 201.2L595.4 193.9L602.1 184.6L612.8 176.4L616.3 169.8L611.8 165.5L612.5 158.7L619.1 147.1L633.1 138.7L646.9 136.6L651.5 129.5L659.7 130.2L670.0 130.3L681.4 125.2L691.9 119.8L701.6 116.0L704.9 108.1L701.5 100.0L707.6 98.1L716.2 97.3L727.8 97.8ZM714.7 156.8L703.9 170.1L701.6 181.0L712.4 187.0L724.4 182.4L726.3 171.4L720.5 160.9L714.7 156.8ZM1237.7 1262.3L1250.5 1264.6L1247.0 1273.7L1243.6 1280.9L1235.4 1286.0L1227.3 1294.2L1214.9 1304.7L1221.0 1291.6L1226.1 1284.7L1231.6 1277.0L1237.7 1262.3ZM711.9 132.0L716.0 140.2L716.1 148.5L708.8 158.1L702.2 167.0L701.1 174.8L700.6 182.6L711.9 190.6M717.2 190.6L715.4 196.8L713.4 204.8L709.7 211.0L700.6 213.5L692.3 216.3L690.9 226.1L691.7 234.4L700.3 241.3L706.7 246.9L710.9 247.5L716.8 246.4L724.3 246.3L732.8 246.1L738.8 248.5M739.6 169.3L733.2 180.0M733.2 180.0L737.9 184.1M729.2 310.6L729.2 361.2M661.2 395.8L665.2 387.6L667.1 377.1L672.4 373.7L678.7 371.7L686.0 370.7L693.0 368.9L697.0 365.7L702.6 361.6L712.1 359.9L721.6 361.0L727.1 360.7L737.8 366.5M695.9 270.6L706.6 266.4L716.1 265.4L723.5 263.5L730.4 266.9L738.3 268.9M679.9 313.2L683.1 307.2L686.2 300.1L689.2 292.3L692.7 286.3L694.3 278.5L696.2 271.1L701.3 262.2L704.9 253.6L711.5 251.5L717.1 249.6L724.1 248.4L731.9 247.2L739.3 247.3M679.9 313.2L684.7 315.8L696.2 321.2L707.6 323.3L713.0 319.1L719.9 315.4L728.5 311.7L735.2 305.6L738.3 298.9L738.9 295.7M637.2 363.9L640.0 356.5L640.2 348.1L641.5 340.0L650.5 333.8L659.4 326.7L668.7 323.0L676.3 322.9L679.9 321.2M637.2 363.9L636.6 371.1L638.7 379.1L641.1 386.7L647.3 393.4L653.3 399.4L661.7 401.5L669.9 404.2L677.0 406.1L682.4 408.8L691.8 406.6L698.3 414.9L705.8 421.7L712.2 431.6L716.6 433.9L723.2 437.4L733.2 441.2M706.5 419.8L708.9 411.3L710.7 402.9L714.4 395.3L725.2 392.6L731.7 390.5L737.3 388.7M578.6 254.6L583.5 264.2L588.2 271.9L594.4 276.7L600.4 280.9L603.4 287.0L606.8 295.4L613.5 294.1L619.3 290.9L625.7 286.2L630.7 281.0L637.2 276.2L643.7 271.3L647.4 264.4L646.5 257.9L647.2 251.3L651.5 243.0L657.4 234.3L661.2 227.9M591.9 238.6L602.6 236.1L610.4 233.9L617.2 226.4L626.3 223.4L635.3 229.9L643.2 235.4L645.4 242.1L647.9 249.3M623.9 150.6L628.6 157.4L632.5 165.4L634.5 174.6L631.0 182.8L627.5 189.0L630.1 193.7L631.8 198.3L635.7 205.2L643.0 213.6L649.7 219.3L654.7 222.3L660.0 227.4L665.2 234.8L671.5 241.3L678.2 246.2L677.1 253.3L673.7 260.1L672.3 265.2L669.3 268.1L666.6 273.2L659.5 273.6L650.5 274.3L642.6 270.6M663.9 145.3L667.0 152.3L668.3 160.2L671.3 169.7L668.1 180.2L663.7 187.5L666.4 197.5L668.4 209.8L664.1 216.8L662.2 218.9L661.2 227.9M679.9 164.0L679.8 173.5L679.2 180.3L678.6 189.5L675.3 197.6L672.0 202.6L669.2 206.6M695.9 132.0L682.5 164.0M599.9 283.9L601.4 289.6L606.4 295.4L610.5 301.8L608.1 311.5L603.1 321.5L600.1 332.5L594.9 340.7L598.5 345.0L601.0 351.2L608.6 359.7L613.1 366.7L602.7 373.7L592.8 378.5L587.2 384.3L594.4 388.8L605.2 395.8M613.2 310.6L623.7 300.3L636.9 296.9L634.3 307.0L630.4 315.7L628.4 324.2L637.6 325.5L647.9 326.5M610.6 366.5L620.9 358.2L628.2 352.9L637.2 363.9M602.6 321.2L595.0 324.3L588.3 329.1L578.2 323.5L567.9 329.2M565.3 355.9L572.7 350.6L582.6 347.1L591.5 349.9L599.9 353.2M525.3 395.8L530.8 400.6L536.2 406.3L540.2 410.1L544.0 412.6L548.8 417.8L559.2 421.4L569.9 423.6L581.0 427.7L588.3 431.0L594.3 432.8L599.2 430.4L607.7 432.5L616.5 435.6L623.9 443.8M594.6 401.2L603.4 407.2L610.7 410.4L614.6 413.0L620.9 417.5L627.1 423.8L631.7 431.1L637.4 438.5L643.8 444.2L652.5 453.7L655.6 460.8L658.6 470.0L661.8 475.7L665.6 479.5L669.7 484.9L672.2 492.5L675.9 503.5L686.3 501.5L697.5 500.6L706.1 499.7L713.1 499.5L721.0 498.4L731.2 499.2L738.5 503.3M733.2 441.2L738.5 444.7M626.6 441.2L630.7 444.4L636.1 449.0L644.9 452.4L654.0 454.2L661.8 454.5L668.1 455.8L676.7 455.0L684.3 453.2L690.6 449.2L698.6 446.9L707.4 444.9L714.5 443.8M506.6 433.2L511.9 434.0L520.2 431.6L526.1 430.3L534.0 428.1L541.4 425.4L551.9 419.8M520.0 446.5L527.0 447.3L535.0 447.2L541.3 445.5L548.9 446.6L557.1 448.2L565.6 451.6L570.7 458.1L576.1 462.7L582.8 465.6L589.8 468.9L596.5 472.8L602.6 477.2L609.4 480.1L615.9 481.1M562.6 451.8L575.3 444.1L583.5 443.3L588.0 443.1L594.5 443.6L604.3 443.2L614.0 445.7L620.8 448.9L625.5 455.3L622.5 465.8L617.8 474.5L615.0 482.2L610.5 487.1L605.1 491.8L598.7 494.6L592.3 497.6L587.1 501.3L580.3 507.7L570.7 510.1L563.4 510.9L559.3 511.8L553.5 520.3L543.6 529.5M520.0 473.1L527.2 474.6L537.8 475.2L548.6 475.0L555.1 483.3L558.9 486.7L561.2 491.7L568.8 497.2L576.2 502.3L578.6 507.8M517.3 494.5L526.0 496.4L532.9 497.5L538.8 498.4L539.4 505.6L541.3 515.8M506.6 515.8L519.4 528.6M543.9 443.8L541.3 473.1M557.3 515.8L560.8 527.6M487.4 549.7L495.0 555.9L501.0 558.4L508.4 560.8L521.5 566.2L529.6 558.1L534.0 551.9L539.4 542.8L542.8 534.5L550.8 530.0M550.8 530.0L553.0 540.0L558.2 543.3L563.3 547.5L561.3 557.7L560.3 568.0L561.0 575.7L560.5 583.0L562.9 591.7L565.0 599.3L572.7 610.9M513.6 565.0L514.1 571.4L515.8 582.1L518.4 592.1L521.5 601.8L523.1 612.3L523.5 621.5L518.8 630.9L515.8 638.8L524.4 642.4L531.9 644.1L538.2 645.7L544.7 649.8L553.6 651.6L561.7 639.3M531.1 595.6L535.1 604.3L540.2 612.3L545.7 619.7L551.4 626.8L559.4 638.1L561.6 646.6L563.8 656.3L570.2 662.3L575.5 667.5L584.3 668.6L596.7 672.1M561.7 602.1L569.4 597.9L576.5 595.0L587.1 601.6L592.9 602.0L598.5 602.5L607.0 604.2L618.5 613.9L611.2 626.3L601.3 631.1L604.6 641.3L608.9 652.2L612.5 666.6L603.3 674.2M535.5 680.8L542.2 673.5L548.3 666.3L555.5 657.9L566.1 661.1M579.2 669.9L582.0 683.6L584.8 693.0L582.1 697.9L577.5 703.4L580.5 711.4L583.3 718.7L579.3 721.8L573.4 725.2L561.7 731.1M603.3 674.2L609.4 668.2L617.5 663.0L626.5 663.4L634.2 662.4L640.9 657.4L639.3 646.4L638.8 637.2L648.2 639.1L657.9 641.5M657.9 632.7L660.1 625.1L663.7 619.6L667.1 613.0L668.5 606.3L672.8 600.1L675.8 593.2L677.7 587.0L678.9 583.3L685.8 580.6L692.1 574.5L698.3 567.7L702.8 563.0L709.1 561.1L718.2 558.2L728.7 554.7L737.1 551.9L743.7 554.9L752.5 557.5L759.3 558.8L750.5 551.9L742.4 547.6L737.5 544.6L743.7 532.7M657.9 641.5L664.5 644.4L672.6 646.0L679.3 648.4L687.0 650.7L694.0 652.6L700.2 654.2L706.4 656.6L713.2 658.1L720.6 658.2L729.0 659.3L737.2 662.8L743.7 665.9L750.6 669.0L758.0 673.6L764.7 675.7L770.9 676.8L777.8 679.8L783.3 681.4L789.2 681.0L796.2 683.5L803.8 689.6L810.0 693.9M657.9 641.5L659.6 652.2L663.9 662.8L668.1 670.1L673.2 676.3L678.6 679.8L673.7 690.9L680.9 693.6L690.7 695.3L698.4 698.5L703.8 711.4M605.4 678.6L612.4 685.6L615.8 693.1L624.0 687.3L632.8 680.2L639.6 673.7L637.0 682.4L637.5 690.8L638.7 697.3L640.4 704.7L643.5 712.9L647.1 722.3L650.8 731.5L642.6 735.4M609.8 711.4L640.4 704.8M585.8 720.1L591.5 726.6L595.6 732.3L603.5 729.8L610.4 729.5L616.5 731.2L625.2 733.4L636.2 733.4L640.8 736.7L650.5 734.2L659.2 732.6L667.7 743.5L677.4 745.8L686.7 746.6L694.8 743.6L705.1 740.2L712.6 737.9L718.6 733.5L723.1 730.6L728.4 727.9L732.4 720.8L737.7 712.5L742.6 699.1L734.8 705.1L727.0 713.3L719.1 715.1L710.7 713.8L703.8 711.4M738.8 711.4L743.1 719.0L743.0 726.0L741.1 733.0L738.7 739.3L746.6 743.8L755.1 745.4L765.1 743.0L773.9 739.9L782.5 740.8L789.9 741.0L795.5 737.1L801.6 735.2L810.0 731.1M592.3 739.8L595.2 753.1L598.8 759.1L604.6 765.6L613.7 777.7L613.7 786.2L611.9 792.7L605.4 805.4M625.1 768.2L634.4 768.4L640.7 767.8L652.8 772.6L663.6 768.6L666.4 759.4L668.3 750.2L668.8 744.2M616.4 779.1L627.3 768.2M640.4 770.4L644.6 780.1L648.2 789.6L641.8 800.8L632.6 807.9L635.4 819.9L625.1 822.9M653.5 770.4L657.3 781.6L659.9 788.6L665.1 793.3L672.8 795.8L678.9 801.1L686.6 806.6L696.2 810.5L705.7 814.0L701.9 821.6L697.1 829.3L691.2 836.7L678.3 836.6L666.6 840.3M657.9 798.8L666.6 836.0M699.4 748.6L697.8 755.4L696.0 764.3L699.5 773.6L705.8 782.1L711.9 789.2L717.5 790.3L723.3 792.4L730.6 796.8L738.1 800.1L745.3 802.2L757.8 803.2L769.7 804.3L778.1 798.1L786.5 791.5L787.9 783.9L789.6 775.5L791.9 768.2L801.1 763.4L810.0 759.5M747.5 798.8L744.2 810.2L738.4 818.9L732.1 824.9L728.0 831.1L725.8 838.5L730.1 845.5L732.3 855.5L731.9 867.1L731.2 876.1L732.3 883.8L729.5 890.1L726.7 896.2L721.9 901.6L722.4 913.1L723.5 921.2M692.9 836.0L703.8 840.0L712.5 844.0L721.6 849.0L727.8 851.3M784.6 792.3L783.9 797.6L781.9 805.0L779.1 814.2L783.3 826.1L781.3 832.9L777.5 839.6L772.2 845.4L774.4 854.4L776.0 864.4L780.3 874.2L786.8 883.5L784.6 891.7L780.1 897.4L775.4 901.1L767.5 904.5L759.1 910.7L749.4 920.1L741.2 928.1L732.2 932.1M767.2 739.8L791.2 777.0M631.7 844.7L636.5 853.2L646.0 859.8L654.4 865.4L661.2 861.9L668.2 858.9L675.8 854.1L679.7 840.3M810.7 836.9L816.4 827.7L819.5 822.1L822.6 816.1L826.1 809.6L828.1 801.3L829.0 793.3L830.4 787.3L833.5 780.0M810.1 865.6L817.4 867.6L824.8 870.8L834.6 872.6L843.5 876.1L849.4 880.1L853.5 884.2L859.2 881.8L865.6 879.5L873.2 876.5L882.0 871.7L888.2 870.7L893.8 873.4L900.3 875.9L909.7 875.4L916.4 872.3L921.9 870.6L918.4 863.5L919.0 858.4L918.1 852.7L914.5 843.5L910.0 833.3L918.7 830.6L928.8 829.6M1006.7 868.9L1006.9 878.5L1015.3 879.6L1023.8 881.6L1031.2 883.0L1037.5 883.9L1044.5 884.9L1051.7 883.7L1054.2 891.6L1055.7 899.6L1057.8 907.3L1060.6 913.6L1063.6 920.2L1068.6 927.0L1071.9 934.4L1069.6 943.9L1066.7 951.8L1065.9 958.0L1062.8 965.5L1060.2 974.6L1059.2 982.4M1059.2 982.4L1052.3 976.5L1045.7 972.9L1036.2 970.7L1027.8 968.6L1020.2 969.4L1012.9 968.4L1003.9 970.4L995.8 973.0L987.6 973.9L982.8 971.7L977.1 971.4L970.8 974.0L966.8 980.2L963.7 984.8L959.5 988.6L955.0 995.3L951.2 1004.2L949.6 1014.2L947.7 1019.9L942.8 1024.7L937.2 1031.3L928.4 1034.6L922.6 1034.6L917.3 1034.3L911.8 1035.1L904.6 1037.4L898.3 1031.3L890.5 1026.0L882.6 1019.8L876.0 1014.3L873.4 1005.4L872.4 997.9M833.5 873.4L835.2 880.4L834.3 888.6L834.8 895.8L837.4 904.2L840.6 913.6L842.0 921.9L844.6 928.1L851.7 932.4L857.1 938.0L862.3 942.7L871.7 945.1L875.7 952.1L877.9 959.9L878.4 967.4L879.1 974.4L886.2 977.4L894.4 981.1L902.0 984.6L907.5 987.4L915.2 986.2M852.9 885.1L861.7 889.9L867.3 895.5L872.3 899.7L879.8 902.0L888.1 905.0L897.5 909.5L899.9 916.6L900.4 923.9L900.5 931.5L901.7 936.4L903.0 940.0L906.7 945.5L909.9 952.2L910.7 960.5L912.0 969.2L914.5 978.0L915.2 986.2M880.2 1013.5L874.0 1015.7L866.7 1020.9L859.8 1025.8L855.9 1029.9L851.4 1033.9L847.4 1039.4L843.1 1045.6L838.3 1053.5L827.4 1056.2L816.0 1057.6L809.8 1058.6L810.0 1051.9L808.4 1045.3L801.3 1037.0L795.2 1027.6L794.6 1020.2L795.9 1014.8L794.8 1007.8L794.1 998.4L791.8 988.0L784.6 991.9L779.0 998.0L776.4 1004.8L772.3 1011.1L766.1 1017.2L755.7 1021.3M790.7 990.1L787.5 982.9L785.6 974.5L785.7 966.2L794.0 967.5L801.0 969.6L808.2 971.2L816.3 969.6L825.5 969.4L834.2 967.9L841.9 965.4L848.7 962.1L847.9 954.4L845.9 944.6L841.7 934.3L838.4 925.1L833.3 920.2L826.1 915.3L817.9 908.4M775.5 961.1L786.8 966.8M810.1 918.4L817.9 908.4M744.0 1138.0L751.3 1137.0L758.0 1134.9L766.1 1131.3L773.8 1129.3L782.6 1129.9L790.8 1132.0L793.1 1124.2L794.0 1116.3L801.0 1110.8L806.2 1106.4L810.4 1100.8L816.1 1095.5L823.0 1090.4L828.9 1087.9L829.3 1082.7L831.4 1074.7L833.4 1067.2L834.1 1060.0L833.5 1052.4M716.7 1219.7L723.2 1218.3L729.5 1216.1L736.6 1213.9L746.5 1211.3L756.5 1208.5L765.4 1207.3L768.7 1202.5L772.9 1197.6L781.7 1196.1L789.5 1194.9L795.9 1194.9L800.8 1198.7L806.7 1202.0L810.9 1203.9L815.7 1207.4L824.5 1207.2L832.7 1206.2L839.6 1204.6L849.1 1208.1M810.1 1060.2L813.6 1069.2L818.6 1072.9L826.4 1077.6L833.4 1084.7L835.3 1093.0L835.2 1099.3L836.2 1107.9L840.2 1116.5L846.9 1123.8L853.7 1130.3L855.4 1138.8L855.0 1145.9L856.3 1152.1L856.7 1159.9L857.1 1168.7L855.8 1176.9L852.4 1182.9L850.6 1189.9L856.5 1196.0L864.3 1203.2L871.0 1207.4L873.9 1214.9L875.8 1223.1L878.3 1231.9L880.1 1239.2L881.3 1246.6L874.2 1252.9L867.1 1259.8L866.0 1269.6L866.2 1277.4L867.5 1286.7L859.5 1291.1L848.2 1295.0L838.4 1298.3L831.0 1303.5L830.4 1310.8L828.0 1317.2L826.5 1323.9L827.9 1332.2L828.8 1339.6L828.1 1347.8L829.9 1356.4L833.3 1363.4L834.8 1369.2L835.6 1376.7L841.3 1387.1M849.1 1071.9L853.9 1062.5L858.6 1055.0L863.9 1049.8L868.7 1043.9L875.3 1045.3L881.3 1048.5L888.8 1052.2L894.8 1054.6L899.8 1062.2L905.6 1068.8L905.0 1075.2L900.8 1082.7L898.2 1090.3L893.3 1084.3L888.7 1077.5L881.4 1072.5L877.2 1066.0L874.6 1058.9L872.4 1052.4M794.6 1114.7L801.0 1109.0L805.9 1105.1L811.9 1101.9L817.3 1099.8L828.0 1106.6L836.5 1111.6L841.0 1106.6L844.8 1101.0L850.5 1096.1L852.5 1088.0L852.9 1075.7M903.5 1138.0L911.0 1133.8L918.1 1135.0L924.9 1136.6L931.4 1138.2L938.9 1135.9L947.5 1134.1L955.2 1134.3L961.9 1135.3L967.8 1133.8L967.6 1141.8L969.5 1151.3L970.4 1160.4L970.0 1167.1L970.2 1173.8L970.6 1182.5L970.7 1192.2L969.7 1198.0M926.9 1136.1L932.4 1128.9L933.2 1122.6L937.3 1117.9L944.4 1113.6L950.3 1106.7L955.2 1100.3L953.6 1089.3L952.2 1080.1L951.7 1074.4L950.5 1067.9L949.7 1057.9L949.8 1049.1L947.3 1040.3L942.4 1032.9M954.1 1099.1L960.7 1101.7L966.6 1105.8L972.3 1108.1L978.6 1112.3L983.1 1117.7L987.4 1122.3L992.9 1125.7L1000.1 1128.7L1007.6 1131.7L1013.1 1136.5L1018.9 1142.5L1023.1 1146.9L1028.9 1149.7L1035.9 1154.7L1043.8 1160.3L1048.2 1164.9L1051.4 1169.1M903.5 1138.0L902.4 1143.2L897.6 1152.4L893.0 1159.6L889.6 1166.2L888.7 1173.8L887.3 1183.3L885.8 1191.3L886.3 1199.0L886.4 1206.5L885.4 1215.7L883.3 1225.2L882.6 1231.1L879.8 1234.6L876.9 1241.1L873.3 1252.1L872.4 1258.6M856.8 1153.6L865.1 1153.2L873.8 1148.7L881.5 1145.9L882.3 1152.7L885.4 1157.7L891.0 1160.7L895.7 1169.1M888.0 1254.8L899.6 1250.9M888.0 1254.8L886.3 1262.5L884.9 1269.4L881.8 1278.4L881.4 1286.3L882.7 1294.6L884.3 1303.3L887.0 1310.5L887.9 1318.4L888.3 1327.3L884.5 1338.0L881.7 1345.5L880.6 1350.4L880.2 1355.6L880.9 1364.7L881.0 1374.8L884.2 1380.8L887.1 1386.3L897.0 1387.1M884.1 1324.8L877.0 1320.5L870.4 1314.4L863.1 1311.7L856.3 1311.2L850.0 1310.0L844.4 1313.3L838.1 1318.1L831.6 1322.2L825.7 1324.8M763.4 1208.1L762.0 1215.7L759.7 1223.5L756.3 1233.2L753.1 1241.7L756.1 1247.0L761.1 1252.7L766.5 1260.5L771.2 1269.2L774.8 1274.5L779.5 1278.0L785.8 1280.9L795.1 1281.1L803.4 1283.0L811.7 1285.1L818.3 1286.9L823.0 1291.7L827.7 1295.9L833.5 1301.5M716.7 1309.2L726.5 1306.2L733.9 1306.2L741.7 1308.1L748.7 1312.1L755.9 1313.6L765.2 1312.6L776.5 1313.1L784.8 1315.3L788.8 1316.0L796.0 1317.5L803.3 1318.9L812.1 1321.2L820.2 1323.6L825.7 1324.8M716.7 1363.7L723.8 1362.2L730.0 1364.8L738.2 1364.3L749.0 1360.8L757.5 1360.4L762.6 1363.2L771.2 1363.7M950.2 1009.6L957.4 1009.3L965.7 1012.0L971.1 1012.8L976.2 1014.2L983.8 1018.6L992.0 1023.9L998.7 1026.4L1004.6 1026.9L1010.7 1027.8L1015.1 1035.0L1019.8 1043.3L1022.5 1052.5L1028.5 1051.3L1035.9 1048.8L1048.0 1045.9L1056.3 1045.3L1060.4 1044.5L1064.1 1044.5L1072.1 1044.1L1079.8 1045.0L1089.1 1045.1L1097.6 1043.6L1106.1 1045.7L1115.5 1048.7L1119.0 1057.9L1122.7 1068.2L1125.4 1076.6L1132.6 1079.2L1139.3 1081.5L1146.4 1084.7L1155.6 1087.3L1155.7 1094.3L1154.8 1102.3L1152.2 1110.4L1149.1 1117.8L1147.3 1124.1L1146.3 1130.8L1142.7 1135.5L1138.6 1141.4L1134.4 1148.4L1131.1 1155.0L1127.6 1160.7L1122.0 1165.7L1113.9 1172.9L1106.4 1177.1L1102.5 1182.7L1098.8 1187.6L1092.4 1188.6L1083.7 1185.2L1073.9 1180.0L1064.4 1175.4L1055.8 1174.0L1051.4 1169.1M1012.5 1052.4L1014.0 1059.8L1013.2 1065.5L1013.9 1074.2L1005.3 1080.3L995.4 1083.7L985.5 1082.3L994.0 1081.7L1002.7 1085.6L1010.6 1093.2L1016.9 1097.7L1022.3 1100.7L1026.6 1102.8L1033.4 1104.9L1040.7 1109.0L1048.2 1115.2L1055.8 1120.3L1064.4 1123.0L1072.6 1125.0L1068.2 1129.2L1063.7 1133.0L1061.1 1140.2L1060.6 1149.1L1058.0 1157.0L1054.8 1162.3L1051.4 1169.1M1063.1 1048.5L1066.4 1056.5L1069.6 1065.6L1074.2 1072.5L1079.5 1077.6L1080.9 1084.2L1082.0 1092.1L1079.8 1098.8L1078.1 1105.9L1074.2 1112.9L1072.1 1119.4L1074.8 1126.3M1082.5 1091.3L1085.6 1086.5L1092.0 1086.3L1101.2 1087.6L1109.6 1086.6L1116.3 1084.9L1125.5 1086.9L1133.9 1089.7L1142.1 1090.9L1148.7 1091.3M1098.1 1118.6L1108.4 1116.8L1116.6 1115.1L1123.5 1118.1L1132.0 1122.0L1140.3 1126.0L1144.8 1130.2M1070.9 1141.9L1078.7 1141.2L1086.4 1146.7L1093.7 1149.8L1100.2 1150.0L1103.8 1155.1L1107.9 1158.6L1111.7 1163.0L1117.6 1173.0M1102.0 1149.7L1105.9 1122.4M1156.5 1087.4L1154.8 1097.8L1159.1 1105.8L1163.7 1111.6L1166.7 1115.9L1168.2 1123.1L1171.3 1132.5L1164.8 1141.1L1170.1 1146.0L1172.6 1151.4L1174.0 1159.4L1182.3 1158.8L1192.1 1157.1L1201.6 1157.7L1209.4 1162.0L1215.7 1164.6L1222.6 1165.3L1230.3 1159.1L1239.2 1155.6L1245.3 1151.7L1251.3 1150.1L1256.5 1147.2L1264.7 1148.3L1272.6 1147.5L1278.0 1146.0L1281.6 1146.4L1288.2 1148.9L1297.8 1149.3L1304.3 1153.6M1117.6 1173.0L1124.1 1174.3L1129.9 1180.7L1136.0 1185.9L1143.0 1189.3L1150.5 1185.2L1159.1 1180.2L1168.6 1176.4L1177.6 1171.6L1186.0 1170.6L1193.8 1171.2L1202.1 1174.4L1208.4 1176.6L1216.5 1176.3L1224.5 1176.1L1231.7 1181.1L1237.1 1187.8L1245.4 1191.9L1249.4 1198.3M1117.6 1173.0L1121.0 1197.2M1124.4 1199.3L1133.2 1193.8L1141.8 1190.1L1150.7 1188.3L1155.0 1187.1L1161.7 1186.3L1170.5 1186.0L1179.4 1183.8L1186.0 1180.6L1192.9 1180.0L1200.1 1182.2L1207.6 1188.2L1214.0 1192.8L1220.9 1191.4L1229.7 1191.0L1237.5 1192.1L1248.6 1199.0M1209.7 867.4L1202.0 874.6L1196.4 885.6L1193.3 893.5L1188.0 898.4L1184.0 907.0L1180.1 915.9L1184.0 922.2L1187.6 927.6L1192.7 935.2L1198.2 939.5L1205.1 944.2L1210.7 948.1L1216.4 951.9L1223.4 955.7L1231.4 959.1L1238.4 963.6L1242.8 969.4M1000.0 881.4L1009.1 879.5L1017.5 881.4L1024.1 883.0L1030.3 883.2L1035.9 884.3L1042.8 884.8L1051.4 883.5L1054.0 888.0L1055.7 892.7L1055.7 900.7L1061.1 908.5L1067.5 914.8L1074.8 919.7L1080.7 915.8L1086.6 910.9L1091.2 905.2L1097.7 904.3L1104.5 905.1L1112.9 905.4L1122.1 909.5L1132.9 911.9L1142.9 913.1L1150.0 910.6L1155.6 910.3L1162.8 908.6L1171.2 907.4L1173.7 915.1L1175.8 923.3L1182.6 926.8L1186.5 930.7M1073.9 923.7L1072.2 929.8L1069.4 936.3L1066.2 944.9L1063.0 952.5L1062.9 961.8L1064.6 969.8L1063.9 977.5L1059.0 982.2L1059.4 986.7L1060.9 992.0L1062.9 1001.5L1063.7 1010.0L1065.3 1017.9L1064.9 1025.4L1064.0 1034.3L1066.8 1039.8M1000.0 965.9L1007.3 961.3L1015.0 961.1L1022.8 962.3L1030.7 962.5L1037.1 966.0L1043.9 968.3L1049.5 970.1L1055.0 973.9L1059.8 980.0M1492.5 867.4L1496.2 870.3L1500.1 872.6L1508.0 873.7L1517.4 875.7L1519.8 883.8L1522.1 892.0L1519.7 898.9L1519.1 904.3L1515.6 909.3L1509.8 916.4L1512.8 926.6L1513.6 930.7M1337.7 867.4L1334.0 873.1L1325.0 873.6L1317.5 874.6L1311.3 875.1L1313.1 867.4M1343.0 867.4L1342.7 873.1L1339.3 880.5L1336.2 888.7L1335.0 896.1L1334.5 904.9L1332.7 914.9L1330.7 923.2L1328.9 930.4L1327.8 938.8L1320.3 937.3L1312.6 933.3L1303.7 933.1L1295.6 936.4L1288.1 937.1L1280.9 940.8L1275.6 943.8L1269.9 948.5L1263.1 952.1L1256.5 960.0L1250.8 965.0L1242.8 969.4M1242.8 969.4L1245.1 976.6L1249.3 982.1L1245.5 987.1L1241.3 993.6L1236.3 1000.4L1231.1 1005.8L1224.5 1011.6L1219.0 1017.3L1216.0 1022.5L1211.3 1028.2L1206.1 1035.5L1201.8 1041.0L1196.8 1047.4L1190.1 1054.5L1185.7 1059.7L1180.4 1063.4L1174.6 1069.9L1169.1 1074.1L1168.5 1078.4L1166.6 1084.7L1161.8 1092.5M1242.8 983.5L1248.7 983.7L1257.7 985.7L1265.5 987.8L1271.7 989.4L1276.5 988.7L1284.3 987.4L1291.4 987.6L1297.9 987.6L1303.5 988.0L1310.7 988.5L1318.1 988.2L1326.7 988.0L1335.8 987.5L1338.7 993.7L1340.1 998.7L1340.5 1006.9L1342.3 1015.5L1344.1 1022.2L1350.0 1025.5L1355.1 1032.9L1354.6 1041.9L1353.1 1049.8L1353.5 1055.8L1362.9 1058.9L1372.9 1062.1L1379.6 1060.1L1385.9 1057.9L1392.1 1055.6L1398.9 1053.7L1406.0 1051.8L1414.6 1051.1L1424.8 1047.5L1434.2 1042.5L1441.2 1039.4L1447.6 1038.2L1454.5 1034.8L1462.7 1031.1L1467.9 1032.7M1415.1 1050.3L1411.9 1054.5L1404.7 1059.7L1411.4 1060.0L1417.6 1060.3L1424.3 1059.4L1431.7 1057.8L1438.6 1057.6L1446.2 1059.0L1456.3 1059.6L1464.8 1061.1L1471.4 1060.9M1467.9 1032.7L1468.1 1025.1L1471.2 1018.7L1475.7 1011.5L1481.1 1003.8L1485.1 997.5L1488.3 992.2L1492.5 985.3L1496.7 978.2L1496.9 971.8L1498.4 965.6L1497.6 958.6L1492.5 951.9L1492.7 945.2L1493.5 938.8L1496.9 932.4L1505.9 931.5L1513.6 930.7M1190.0 1050.3L1194.2 1051.9L1201.5 1055.5L1209.2 1054.2L1216.4 1050.9L1225.6 1051.9L1234.5 1055.7L1241.4 1058.2L1246.0 1062.4L1252.5 1064.6L1260.8 1064.7L1269.4 1065.6L1271.6 1075.7L1275.2 1086.1L1280.0 1094.4L1285.6 1100.0L1288.7 1105.8L1293.4 1109.7L1298.4 1112.7L1306.1 1117.2M1141.0 1198.6L1145.0 1189.1L1150.6 1182.7L1156.7 1178.6L1163.3 1176.1L1169.2 1171.6L1177.0 1166.6L1184.1 1162.2L1190.8 1158.0L1197.9 1156.8L1205.0 1154.5L1211.1 1152.3M1246.3 1141.8L1251.6 1152.2L1255.9 1160.6L1258.6 1164.9L1262.6 1168.5L1265.7 1176.3L1272.5 1180.3L1280.6 1181.8L1289.2 1185.1L1293.4 1190.5L1299.0 1198.1M1151.0 379.8L1157.1 379.6L1161.6 379.7L1168.6 377.2L1176.4 376.9L1186.8 380.2M1151.0 385.6L1153.7 393.1L1159.6 399.6L1165.3 407.3L1170.0 413.9L1174.7 420.2L1178.1 425.3L1181.7 430.6L1184.7 435.6L1191.4 441.5L1197.7 448.8L1202.6 452.8L1204.4 454.9L1206.8 462.0L1210.3 470.6L1202.4 481.4M1089.3 531.7L1086.2 540.4L1083.8 548.1L1080.7 553.4L1077.6 558.0L1073.8 563.2L1071.9 570.3L1070.7 577.9L1070.4 585.6L1067.9 592.2L1064.6 600.0L1060.5 608.6L1058.9 615.7L1057.1 620.7L1059.4 627.2L1060.1 635.3L1062.7 643.2L1066.7 652.1L1070.3 660.2L1074.1 665.3L1078.4 669.2L1080.7 677.3L1083.1 684.8L1087.6 690.4L1093.9 695.7L1103.0 697.1L1110.3 697.7L1115.8 697.9L1121.8 697.0L1128.5 696.9L1135.3 697.8L1141.7 700.1L1149.0 701.9L1156.9 701.4L1165.1 700.1L1173.1 699.2L1179.0 700.5L1184.2 700.9L1191.0 701.7L1200.8 699.9L1209.7 701.2L1215.8 702.6L1222.3 703.3L1231.2 703.6L1238.1 705.5L1243.1 707.4L1248.4 708.0L1256.9 707.1M930.0 656.5L937.0 659.2L945.5 661.5L952.7 666.9L959.0 671.2L964.4 675.7L970.5 675.0L976.4 677.2L982.9 678.4L990.5 678.3L998.3 676.6L1004.4 678.0L1010.7 680.4L1016.8 680.6L1024.7 679.3L1032.8 679.1L1038.7 680.1L1044.5 679.1L1048.4 671.2L1054.5 664.1L1058.2 655.8L1059.1 647.1L1058.5 640.8L1056.3 633.9L1054.1 625.1L1054.5 621.5M972.8 679.8L973.1 685.8L972.1 694.2L972.8 701.0L972.7 707.9L972.2 715.0L969.8 723.0L966.3 731.3L964.4 739.9L972.4 740.5L980.0 739.7L989.3 739.1L1001.4 739.5L1011.0 740.4L1013.9 751.9L1014.1 763.2L1011.2 772.0L1011.4 778.2L1011.9 783.6L1009.8 790.9L1007.1 799.1L1007.6 806.9L1008.8 815.5L1010.4 824.7L1007.2 832.6L1003.1 840.2L999.9 846.5L998.3 852.2L996.2 862.7M1151.5 284.1L1163.5 282.9M1151.8 317.9L1155.7 290.7M1358.1 504.7L1354.7 510.3L1351.3 516.8L1344.5 521.5L1338.9 526.6L1336.4 532.4L1333.6 538.4L1329.1 544.7L1324.2 552.6L1318.5 558.9L1313.0 563.6L1310.6 568.6L1308.9 575.0L1302.9 582.9L1304.5 587.2L1309.0 589.4L1307.5 593.5L1305.8 599.3L1301.5 606.0L1297.0 612.2L1293.5 621.5L1289.5 628.7L1285.8 636.0L1284.6 644.3L1288.5 654.6L1290.2 663.0L1291.0 669.1L1284.1 671.4L1278.3 674.7L1272.1 680.8L1266.8 688.7L1261.9 696.4L1259.3 701.7L1256.9 707.1M1299.7 582.5L1310.2 584.1L1319.1 585.6L1326.1 586.0L1326.1 595.1L1325.7 604.0L1328.8 610.9L1332.7 617.1L1327.1 627.3L1319.5 636.5L1325.8 638.2L1334.4 642.7L1342.2 648.0L1347.3 652.2L1348.1 662.1L1351.4 673.8L1347.3 678.9L1343.7 682.4L1348.1 686.9L1350.1 694.0L1352.1 701.4L1357.0 706.2L1365.0 710.6L1369.7 718.7M1447.6 547.5L1447.7 538.4L1450.1 525.9L1457.2 524.0L1464.7 525.8L1472.8 526.2L1479.4 523.9L1486.5 520.3M1447.6 547.5L1443.2 555.1L1442.6 562.4L1441.5 569.5L1440.0 576.1L1438.5 583.8L1439.5 591.8L1437.2 597.4L1440.2 603.8L1442.7 610.8L1446.2 619.3L1436.3 622.9L1429.7 627.7L1423.0 629.8L1416.6 630.8L1410.2 634.3L1402.2 639.9L1393.1 642.8L1387.0 645.4L1382.3 650.6L1379.3 659.8L1376.1 666.7L1375.3 673.2L1372.7 682.6L1369.2 691.7L1370.0 700.8L1370.2 708.2L1369.2 717.9L1373.9 723.5L1380.2 729.0L1386.2 734.1L1392.6 729.6L1398.4 724.9L1403.3 717.6L1409.2 709.4L1415.6 702.8L1423.0 698.9L1429.4 693.7L1435.9 691.1L1441.1 689.3L1447.3 687.8L1455.9 686.5L1462.7 683.9L1468.6 681.5L1474.5 678.5L1482.2 673.0L1488.7 667.1L1493.6 670.4L1499.2 676.2L1504.1 684.7L1504.9 678.1L1505.7 668.2L1506.8 660.4L1508.1 654.7L1509.0 645.2L1510.1 636.5L1509.1 627.7L1507.4 620.9L1504.6 613.0L1501.8 606.7L1501.0 598.1L1501.3 590.3L1502.3 582.1L1498.4 574.0L1494.8 565.0L1491.0 558.6L1489.3 551.6L1488.4 542.0L1490.4 535.0L1489.9 529.5L1486.5 520.3M1509.8 637.0L1519.5 638.1L1525.0 641.0L1528.6 643.6L1534.7 645.3L1542.8 645.5L1550.9 647.9L1558.5 651.7L1565.6 652.0L1573.7 648.0L1583.4 646.1L1593.1 646.0L1601.8 647.6L1608.9 644.4L1615.7 642.7L1622.5 638.8L1628.4 635.7L1633.3 630.4L1638.8 625.8L1644.4 620.3L1649.9 617.6M1587.7 578.6L1582.1 587.5L1578.4 592.7L1571.9 598.6L1566.0 604.9L1562.7 612.4L1560.2 620.4L1557.3 629.9L1554.8 638.4L1557.8 645.9L1560.4 652.6M1568.2 605.9L1575.8 606.3L1584.0 606.4L1592.2 604.9L1599.9 603.3L1603.9 607.6L1608.0 612.1L1612.9 616.0L1619.7 614.1L1627.7 612.2L1636.2 611.9L1645.0 609.8L1649.9 605.9M1490.4 668.1L1497.3 668.8L1506.4 669.7L1512.7 672.5L1520.5 673.6L1528.6 672.3L1538.6 673.1L1544.2 677.8L1550.2 682.1L1556.5 685.2L1562.1 691.4L1566.6 696.5L1571.5 698.7L1576.8 694.0L1582.5 692.3L1588.7 686.6L1593.9 680.4L1600.2 677.3L1606.7 675.1L1614.8 672.8L1622.0 672.8L1629.8 670.8L1636.4 668.6L1642.1 668.1M1572.1 699.3L1573.0 705.8L1574.4 712.4L1574.6 721.5L1580.9 717.8L1590.6 713.2L1600.5 709.9L1608.3 706.0L1617.3 710.8L1626.6 714.8M1576.0 722.6L1573.4 730.0L1572.8 738.6L1571.2 747.7L1569.3 757.6L1576.5 762.6L1583.8 761.5M1256.9 707.1L1256.4 712.9L1255.1 721.8L1254.4 730.6L1253.2 738.4L1252.0 745.7L1249.4 751.5L1247.7 758.3L1248.3 767.4L1247.9 776.5L1249.2 784.3L1250.7 793.1L1251.7 802.1L1255.9 807.3L1261.7 812.5L1268.9 817.9L1276.5 825.0L1280.7 831.2L1285.6 833.9L1292.5 832.9L1300.8 833.1L1308.2 834.6L1317.1 838.1L1325.1 836.6L1332.1 834.0L1338.7 832.1L1346.2 832.4L1352.8 831.8L1360.3 828.9L1362.3 819.5L1364.1 812.5L1362.4 804.5L1358.3 794.9L1358.6 787.0L1361.8 779.9L1364.3 773.8L1366.5 767.9L1368.5 763.5L1370.7 756.2L1364.4 748.3L1358.5 740.7L1361.6 735.1L1365.1 726.2L1369.7 718.7M1361.9 827.7L1369.7 858.8M1253.0 800.5L1249.6 805.0L1245.5 811.2L1243.2 818.2L1239.9 827.0L1236.6 834.4L1232.1 839.8L1230.6 844.8L1227.8 851.3L1225.5 859.4L1221.9 867.0M748.0 1390.0L743.7 1398.6L739.9 1403.5L738.9 1409.1L743.0 1415.9L747.8 1423.2L750.4 1430.6L740.5 1436.9L730.6 1443.5L727.6 1453.4L727.6 1462.7L733.4 1472.9L737.1 1484.1L732.9 1496.1L724.4 1504.6L721.0 1511.0L716.5 1521.3L710.6 1530.4L706.7 1537.7L707.7 1545.3L710.0 1555.1L711.5 1561.4L711.4 1568.7L712.4 1574.8L705.0 1585.8L704.0 1591.5L701.7 1599.8L700.1 1608.6L703.2 1616.7L706.9 1623.2L709.9 1631.0L710.2 1638.0L708.9 1644.9L711.0 1652.6L724.4 1652.2L721.6 1658.9L717.3 1667.6L714.1 1677.1L712.7 1684.4L709.3 1690.3L709.3 1697.1L711.9 1707.5L709.7 1717.3L705.7 1724.0L701.0 1730.4L698.5 1740.5L695.9 1752.2L693.8 1760.5L689.1 1768.2L680.3 1772.9L673.6 1779.0M686.8 1416.2L697.1 1422.0L705.0 1425.5L713.5 1426.2L721.8 1427.2L730.1 1426.9L736.7 1418.3L743.6 1411.9M682.4 1438.1L687.8 1439.3L693.8 1443.5L703.0 1447.9L712.9 1450.5L720.4 1447.1L728.3 1444.6M675.8 1466.5L683.4 1466.1L691.9 1462.1L701.3 1465.2L709.9 1471.4L716.0 1476.4L723.0 1477.1L730.5 1477.4M675.8 1512.4L682.6 1515.1L688.6 1519.3L696.4 1518.0L705.4 1515.8L713.9 1516.1L717.4 1521.1M664.9 1534.2L672.3 1539.4L681.8 1539.1L691.0 1538.5L697.3 1538.5L703.1 1539.0L710.8 1543.0M691.1 1628.2L708.6 1630.4M654.0 1770.3L661.6 1773.3L666.9 1777.7L672.8 1780.5L673.8 1787.6L678.0 1794.3M756.7 1446.8L767.2 1448.8L773.7 1447.7L781.9 1448.7L790.5 1452.4L797.0 1455.3L804.6 1455.7L813.1 1457.2L819.2 1463.4L823.8 1470.9L830.3 1477.6L835.6 1484.0L838.7 1487.1L845.5 1487.1L856.2 1489.3L865.5 1492.6L870.0 1494.0L875.1 1494.5L883.8 1496.7L893.2 1496.7L901.6 1497.8L907.0 1500.8L914.0 1506.0L922.3 1509.8L929.6 1513.2L925.9 1520.3L924.3 1527.3L925.2 1532.7L928.0 1538.4L927.9 1545.5L935.9 1556.1M800.4 1418.4L801.4 1426.1L801.3 1432.9L800.4 1441.7L800.5 1449.6L800.7 1456.2L800.7 1461.9L799.3 1468.5L800.6 1475.2L801.3 1483.3L801.5 1491.6L806.5 1495.8L797.4 1500.0L788.4 1505.7L783.2 1512.5L777.0 1515.8L771.1 1520.7L758.5 1523.8L750.1 1529.6L742.7 1534.0L736.7 1538.4L730.6 1540.9L722.1 1551.0L710.8 1551.7M800.4 1418.4L809.7 1421.5L819.0 1423.0L828.8 1421.3L836.5 1418.1L843.8 1416.2L843.9 1410.2L842.4 1404.9L841.9 1396.4L844.1 1390.0M841.9 1418.4L847.8 1416.9L855.7 1416.9L864.6 1416.1L873.9 1415.8L883.3 1418.6L884.6 1413.8L883.1 1404.2L881.3 1394.2L881.7 1386.7L890.3 1387.4L898.7 1387.1L908.1 1388.5L918.4 1389.1L925.4 1388.0L923.8 1394.2L923.9 1403.4L924.8 1412.3L925.1 1419.3L927.2 1425.6L929.6 1431.4L927.7 1438.8L926.8 1447.6L926.0 1456.2L926.0 1462.5L925.5 1469.3L926.2 1476.4L925.4 1484.5L926.1 1491.6L926.6 1497.8L927.4 1504.3L927.2 1512.4M713.0 1581.2L883.5 1581.2M713.0 1690.5L817.9 1690.5M696.2 1821.0L698.7 1829.1L700.3 1837.6L703.2 1844.8L705.7 1852.5L714.0 1853.1L721.3 1852.8L728.7 1851.5L738.0 1850.7L748.1 1850.4L756.7 1852.7M791.7 1872.4L791.7 1935.8M900.0 1239.3L907.9 1243.4L912.3 1246.0L926.2 1251.5L932.2 1252.3L939.5 1249.8L946.5 1249.0L953.7 1250.8L959.3 1241.4L961.9 1232.0L964.2 1222.5L965.7 1214.9L967.0 1208.7L969.9 1200.0M954.6 1250.3L951.7 1261.4L954.5 1266.0L964.6 1275.7L961.3 1287.6L958.1 1298.6L956.2 1303.5L953.8 1309.6L959.0 1319.3L963.3 1326.6L966.1 1331.6L958.8 1338.5L954.0 1346.7L950.4 1353.8L946.1 1358.7L942.9 1365.5L954.9 1368.3L965.9 1371.9L973.4 1374.4L974.3 1369.2L977.4 1362.9L983.5 1355.8L988.6 1350.0L997.9 1350.7L1004.9 1344.2M926.2 1374.8L926.2 1389.9M926.2 1374.8L969.9 1374.8M1035.5 1200.0L1032.3 1208.1L1030.2 1217.0L1029.9 1222.5L1025.8 1227.6L1023.3 1233.3L1022.9 1242.3L1022.6 1249.8L1020.9 1256.0L1018.6 1262.6L1013.2 1271.5L1008.8 1279.8L1005.7 1285.9L1003.5 1290.4L1000.3 1296.9L996.3 1304.0L992.9 1309.8L992.9 1317.8L992.7 1329.0L997.8 1337.7L1005.1 1344.6L1013.7 1349.0L1022.3 1355.7L1029.4 1360.2L1036.9 1364.5L1044.3 1366.5L1053.0 1368.3M1018.0 1265.6L1026.4 1264.1L1036.3 1258.8L1047.0 1256.9L1054.9 1256.7L1060.1 1266.1L1066.6 1272.6L1072.4 1265.3L1077.0 1257.4L1080.9 1251.6L1087.3 1245.7L1092.6 1240.2L1099.4 1235.9L1107.2 1229.3L1112.2 1221.6L1115.5 1215.7L1118.0 1209.5L1123.9 1203.3L1129.5 1200.0M1066.1 1272.1L1067.6 1280.6L1066.0 1287.3L1064.4 1293.5L1062.7 1302.0L1059.4 1312.1L1057.0 1322.5L1057.7 1330.7L1058.5 1338.5L1051.2 1348.5L1049.8 1357.8L1048.6 1367.5L1050.8 1372.7M1066.1 1274.3L1072.6 1278.3L1079.7 1282.0L1085.2 1284.8L1093.1 1283.5L1104.6 1281.1L1113.6 1278.9L1116.4 1283.0M1079.2 1259.0L1086.5 1263.3L1094.2 1264.2L1102.4 1271.6L1110.4 1277.3L1117.2 1282.4L1124.6 1277.7L1131.0 1284.1L1136.7 1287.8L1141.7 1291.3L1146.0 1296.6L1152.2 1303.8L1158.8 1308.4L1165.9 1311.7L1172.3 1313.3L1178.8 1317.0L1183.4 1322.2L1188.5 1328.9M1061.7 1296.2L1068.5 1302.2L1075.8 1305.2L1084.7 1305.6L1093.2 1302.0L1102.0 1299.9L1109.8 1287.4M1105.4 1298.3L1107.7 1309.0L1105.9 1318.9L1101.2 1326.7L1095.5 1333.5L1083.6 1339.9M1057.4 1326.8L1070.2 1324.3L1076.9 1322.7L1084.4 1322.5L1094.0 1324.8L1101.1 1324.6M1053.0 1339.9L1057.7 1338.4L1067.8 1338.7L1079.5 1339.9L1088.4 1341.1L1092.0 1338.1L1095.1 1334.5L1103.4 1330.0L1112.1 1325.6L1119.1 1321.8L1125.6 1320.9L1130.7 1329.0L1140.6 1331.7L1150.3 1329.2L1158.0 1329.4L1166.1 1328.5L1174.3 1328.6L1183.2 1330.2L1188.5 1328.9M1116.4 1283.0L1118.8 1287.5L1117.9 1298.4L1124.5 1303.6L1133.1 1305.1L1141.0 1306.4L1148.9 1310.2L1142.1 1324.3L1131.7 1328.9M1053.0 1357.4L1060.9 1361.1L1070.6 1362.1L1083.1 1358.1L1093.2 1356.3L1103.9 1361.4L1101.5 1371.7L1101.1 1381.4M1081.4 1342.1L1085.8 1357.4M1101.1 1353.0L1108.1 1348.2L1115.2 1342.9L1122.0 1340.3L1128.5 1338.9L1138.2 1337.7M1127.3 1374.8L1127.2 1367.2L1131.4 1359.0L1136.4 1351.6L1138.2 1342.1M1153.5 1381.4L1152.8 1376.9L1153.2 1367.7L1155.6 1359.3L1158.9 1351.7L1166.0 1346.9L1172.5 1342.2L1178.4 1338.7L1178.7 1347.8L1177.6 1357.4M1101.1 1381.4L1107.8 1376.3L1119.5 1371.6L1127.3 1374.8M1240.9 1200.0L1252.1 1209.7L1259.0 1212.8L1264.1 1216.1L1270.4 1217.5L1275.9 1213.1M1234.4 1259.0L1241.0 1263.1L1248.6 1264.5L1244.8 1275.7L1239.9 1279.5L1234.0 1287.0L1227.7 1295.3L1221.9 1300.8L1216.7 1302.8L1210.3 1309.3M1249.7 1265.6L1254.5 1271.4L1248.3 1278.4L1243.0 1284.5L1236.4 1290.0L1229.3 1295.4L1221.3 1304.9M740.0 161.2L749.0 156.7L756.8 151.8L766.1 151.5L775.9 150.1L784.9 154.7L794.5 156.5L800.0 163.1L805.6 172.1M777.2 165.6L785.4 166.9L793.0 172.2L792.7 181.5L792.9 189.9L792.1 195.6L789.3 203.3L788.1 212.2L785.9 220.2M740.0 196.2L750.2 197.2L761.7 201.2L771.3 207.0L778.6 215.3L785.6 222.0L792.5 216.3L798.7 212.7L806.9 207.5L809.1 197.8L810.9 187.6L812.4 174.2L821.7 172.5L830.2 171.8L839.5 170.3L840.9 178.6L840.5 185.2M840.5 172.1L852.0 171.7L860.1 172.7L866.5 172.8L870.7 178.7L877.7 185.5L890.8 194.9L888.2 204.0L884.2 211.1L877.5 217.6L868.5 224.8L860.9 227.2L855.4 230.1L849.4 231.8L842.2 229.4L835.8 226.9L828.3 224.6L821.2 218.5L815.5 211.9L809.9 207.1M740.0 235.5L748.5 230.7L754.6 224.9L759.5 220.5L767.1 220.0L778.6 219.3L785.9 220.2M849.3 231.1L842.4 236.9L835.4 242.5L828.2 249.9L829.5 257.1L830.1 262.9L830.1 267.5L819.9 271.6L816.5 280.0L813.1 287.6L810.2 295.5L810.5 304.1L811.8 312.6L812.8 319.2L815.3 325.6L817.6 333.8L821.2 342.8L826.8 351.4L820.1 357.1L812.0 361.6L818.7 365.2L825.9 370.4L832.1 377.7L830.9 389.4L834.1 398.8L836.3 407.2L841.5 411.8L844.3 416.5L849.9 418.6L859.1 417.4L871.1 419.1M820.9 272.7L811.3 272.0L803.7 273.1L796.2 273.2L788.0 271.8L781.8 271.7L774.0 272.0L765.8 272.8L758.8 273.2L754.3 275.2L747.6 277.7L740.0 283.6M740.0 347.0L746.8 346.1L755.0 341.0L763.1 335.5L769.3 333.1L775.2 332.4L781.7 331.7L788.4 332.3L795.4 330.7L803.7 333.1L814.3 336.0M740.0 392.9L749.0 391.9L757.8 392.1L764.3 392.6L770.5 391.7L775.6 390.7L785.1 389.9L793.1 388.7L801.0 389.7L809.0 389.2L818.2 387.2L823.0 381.9M871.1 224.6L877.6 228.7L885.5 234.6L893.7 230.9L901.6 225.8L909.4 221.7L916.0 218.9L921.7 215.5L927.0 212.7L932.7 209.9L940.9 208.0L950.5 206.5L959.4 205.3L967.3 204.9M910.5 172.1L912.3 178.3L913.8 187.1L919.0 193.8L924.4 200.6L928.6 205.1L936.7 207.1M949.8 172.1L952.2 182.1L960.6 194.1L965.8 201.1L972.0 205.3L978.2 209.3M827.4 274.8L834.5 282.9L839.8 289.3L848.9 283.2L857.3 277.5L871.6 276.9L875.3 288.0L879.2 294.5L882.2 301.5L886.2 310.4L890.1 320.6L893.5 328.7L901.0 329.0L908.7 328.3L915.3 328.7L921.0 330.6L928.1 331.8L940.0 339.4L947.5 333.8L953.5 330.2L958.9 327.6L965.4 323.3L970.3 319.9L976.7 316.6L985.1 313.1L993.5 307.7L999.0 303.8L992.7 297.0L985.9 290.0L980.5 282.7L975.1 275.8L977.1 263.5L978.9 252.8L989.8 251.5L1000.1 250.8M893.0 327.3L898.0 330.1L902.8 340.3L904.6 349.2L906.5 356.0L908.0 364.2L909.4 373.2L917.8 377.0L926.8 379.3L936.3 380.8L944.0 383.8L943.2 391.3L944.6 399.7L947.7 405.4L949.6 411.2L949.6 419.2L947.4 428.8L947.0 437.2L947.5 441.4L947.1 446.3L945.5 453.6L950.0 461.5L955.3 468.5L963.4 472.8L971.6 461.7L984.0 453.4L991.8 457.4L1000.0 459.3L1004.8 449.5L1012.2 441.0L1017.4 436.5L1023.8 434.2L1030.9 434.8L1041.6 432.2M925.8 377.6L919.6 378.4L914.7 384.7L906.9 389.4L902.1 398.2L898.7 404.5L891.8 408.2L882.5 412.6L875.7 416.7L871.1 419.1M1000.1 250.8L993.9 237.9L994.8 233.4L999.1 228.7L1004.1 222.5L1007.8 216.2L1013.2 207.1M976.0 277.0L981.4 282.3L985.4 284.6L991.0 290.5L997.2 297.4L1007.5 295.2L1005.4 304.7L1003.7 313.6L1004.6 320.7L1015.4 321.8L1024.8 322.7L1021.7 329.9L1020.0 337.9L1017.8 346.4L1016.2 353.2L1012.7 361.0L1014.0 370.0L1014.3 379.0L1014.5 385.6L1016.3 391.2L1023.6 393.8L1031.7 396.6L1038.0 399.8L1041.6 406.0M1011.0 292.3L1019.9 288.9L1029.9 284.8L1037.4 290.6L1044.5 296.7L1045.1 306.0L1045.4 314.6L1054.7 322.9M1000.1 250.8L1004.9 249.6L1013.4 252.4L1022.2 253.8L1028.4 259.5L1033.8 265.5L1041.5 272.0L1046.4 277.0L1048.6 282.4L1048.3 289.8L1046.0 296.7M1054.7 322.9L1056.0 330.2L1059.3 337.1L1060.9 344.3L1061.2 351.6L1056.7 361.3L1053.7 368.1L1051.0 373.5L1049.0 379.2L1045.6 387.8L1042.8 395.8L1041.6 406.0M1054.7 322.9L1056.4 316.4L1061.9 312.4L1069.1 307.9L1072.9 298.9L1074.2 290.3L1073.4 282.7L1076.6 274.8M1013.2 231.1L1019.8 234.2L1025.9 239.0L1031.4 243.9L1037.2 231.1M1032.9 242.1L1041.1 247.3L1050.8 253.9L1055.7 267.8L1060.3 271.5L1067.8 274.8M1041.6 406.0L1043.8 409.9L1041.7 419.8L1041.1 431.4L1042.3 441.3L1046.3 449.8L1047.1 458.7L1051.0 463.1L1056.2 467.1L1062.2 473.4L1067.9 480.5L1072.8 484.9L1078.6 486.8L1085.4 488.8L1093.8 492.7L1100.3 496.4L1106.7 499.1L1103.5 506.4L1098.7 514.7L1094.6 522.8L1089.7 530.1M1008.8 440.9L1013.0 430.8L1019.7 431.8L1025.6 432.8L1031.5 432.8L1041.6 432.2M945.4 454.1L948.1 460.3L953.8 468.3L957.9 475.8L960.9 482.2L970.7 478.0L973.0 471.5L974.0 464.0L976.0 458.4M733.2 441.2L737.3 446.2L743.8 449.9L751.5 452.7L758.4 455.1L763.1 460.7L768.1 469.0L768.8 478.0L769.7 485.9L769.8 493.4L767.0 500.3L765.0 507.5L764.1 516.0L764.9 524.8L764.2 531.9L763.0 538.4L760.5 544.3L759.8 553.1M757.0 444.0L770.5 470.5" fill="none" stroke="#808080" stroke-width="3.8" stroke-linejoin="round" stroke-linecap="round"/><g fill="#808080" stroke="#808080" stroke-width="2.5"><ellipse cx="641.8" cy="1817.0" rx="1.8" ry="1.7"/><ellipse cx="653.3" cy="1633.7" rx="3.8" ry="3.8"/><ellipse cx="687.5" cy="1909.7" rx="1.8" ry="2.0"/><ellipse cx="635.6" cy="1716.1" rx="4.5" ry="4.6"/><ellipse cx="702.6" cy="1912.5" rx="5.2" ry="4.2"/><ellipse cx="817.4" cy="1946.2" rx="3.6" ry="3.2"/><ellipse cx="713.8" cy="1908.7" rx="4.6" ry="4.2"/><ellipse cx="785.0" cy="1951.5" rx="1.6" ry="1.8"/><ellipse cx="669.2" cy="1693.6" rx="2.1" ry="1.6"/><ellipse cx="682.6" cy="1870.2" rx="4.5" ry="4.0"/><ellipse cx="650.0" cy="1758.7" rx="3.7" ry="3.4"/><ellipse cx="670.7" cy="1653.6" rx="3.5" ry="3.0"/><ellipse cx="758.8" cy="1938.0" rx="3.8" ry="4.5"/><ellipse cx="679.7" cy="1898.8" rx="2.2" ry="1.4"/><ellipse cx="731.0" cy="1923.6" rx="1.8" ry="1.1"/><ellipse cx="651.7" cy="1783.5" rx="2.8" ry="3.0"/><ellipse cx="768.8" cy="1945.9" rx="3.7" ry="3.5"/><ellipse cx="682.5" cy="1847.0" rx="4.5" ry="5.0"/><ellipse cx="790.4" cy="1944.8" rx="2.4" ry="2.1"/><ellipse cx="766.8" cy="1923.1" rx="5.1" ry="3.1"/><ellipse cx="672.4" cy="1879.0" rx="3.5" ry="2.4"/><ellipse cx="660.5" cy="1631.5" rx="4.4" ry="3.9"/><ellipse cx="648.0" cy="1852.0" rx="4.1" ry="3.7"/><ellipse cx="695.6" cy="1892.4" rx="2.0" ry="2.0"/><ellipse cx="623.4" cy="1729.6" rx="2.2" ry="2.6"/><ellipse cx="640.4" cy="1726.6" rx="4.5" ry="2.9"/><ellipse cx="696.9" cy="1901.8" rx="2.4" ry="2.6"/><ellipse cx="723.9" cy="1908.0" rx="3.4" ry="3.0"/><ellipse cx="688.8" cy="1872.2" rx="2.4" ry="2.7"/><ellipse cx="647.7" cy="1797.0" rx="3.6" ry="3.9"/><ellipse cx="719.4" cy="1919.6" rx="4.8" ry="4.6"/><ellipse cx="778.2" cy="1947.9" rx="4.5" ry="3.1"/><ellipse cx="677.0" cy="1849.9" rx="3.6" ry="2.9"/><ellipse cx="827.6" cy="1943.1" rx="2.9" ry="3.2"/><ellipse cx="668.3" cy="1874.1" rx="5.3" ry="6.3"/><ellipse cx="804.9" cy="1947.4" rx="5.0" ry="5.4"/><ellipse cx="833.2" cy="1955.8" rx="3.6" ry="3.4"/><ellipse cx="643.0" cy="1748.4" rx="4.9" ry="4.6"/><ellipse cx="721.3" cy="1908.2" rx="2.7" ry="2.4"/><ellipse cx="659.7" cy="1849.2" rx="2.9" ry="3.1"/><ellipse cx="831.0" cy="1940.8" rx="1.8" ry="1.7"/><ellipse cx="784.7" cy="1939.7" rx="4.0" ry="3.1"/><ellipse cx="673.5" cy="1884.3" rx="1.8" ry="1.6"/><ellipse cx="629.5" cy="1753.0" rx="4.5" ry="3.4"/><ellipse cx="763.4" cy="1928.0" rx="4.2" ry="4.9"/><ellipse cx="638.7" cy="1715.4" rx="3.2" ry="2.1"/><ellipse cx="730.3" cy="1910.1" rx="4.7" ry="3.1"/><ellipse cx="641.1" cy="1742.8" rx="3.4" ry="3.4"/><ellipse cx="668.8" cy="1643.4" rx="4.5" ry="3.6"/><ellipse cx="677.4" cy="1872.6" rx="5.1" ry="4.8"/><ellipse cx="655.4" cy="1645.9" rx="4.9" ry="4.1"/><ellipse cx="761.1" cy="1927.5" rx="1.9" ry="1.3"/><ellipse cx="631.7" cy="1776.1" rx="2.8" ry="2.4"/><ellipse cx="725.6" cy="1903.3" rx="4.4" ry="3.0"/><ellipse cx="690.5" cy="1907.8" rx="2.5" ry="1.9"/><ellipse cx="678.3" cy="1851.0" rx="2.4" ry="2.5"/><ellipse cx="717.0" cy="1912.1" rx="2.3" ry="2.7"/><ellipse cx="669.5" cy="1653.9" rx="4.7" ry="3.8"/><ellipse cx="647.4" cy="1860.4" rx="4.1" ry="2.9"/><ellipse cx="656.2" cy="1681.5" rx="2.6" ry="1.7"/><ellipse cx="644.5" cy="1809.1" rx="4.5" ry="5.0"/><ellipse cx="653.8" cy="1699.3" rx="1.9" ry="1.2"/><ellipse cx="825.4" cy="1922.0" rx="3.7" ry="2.2"/><ellipse cx="719.3" cy="1924.3" rx="2.3" ry="1.6"/><ellipse cx="825.3" cy="1917.7" rx="2.4" ry="2.6"/><ellipse cx="644.5" cy="1860.1" rx="3.3" ry="2.7"/><ellipse cx="660.7" cy="1825.8" rx="4.9" ry="4.9"/><ellipse cx="624.9" cy="1711.0" rx="5.0" ry="3.4"/><ellipse cx="636.4" cy="1816.0" rx="3.2" ry="2.5"/><ellipse cx="821.0" cy="1926.9" rx="3.6" ry="2.8"/><ellipse cx="633.6" cy="1756.4" rx="3.1" ry="2.4"/><ellipse cx="720.0" cy="1904.7" rx="3.0" ry="2.1"/><ellipse cx="648.4" cy="1830.8" rx="1.9" ry="1.3"/><ellipse cx="659.2" cy="1721.8" rx="2.6" ry="1.8"/><ellipse cx="779.2" cy="1935.7" rx="2.5" ry="2.1"/><ellipse cx="779.3" cy="1952.5" rx="3.9" ry="3.0"/><ellipse cx="642.0" cy="1823.0" rx="4.9" ry="3.0"/><ellipse cx="745.5" cy="1915.5" rx="4.7" ry="3.7"/><ellipse cx="634.4" cy="1708.6" rx="4.6" ry="5.2"/><ellipse cx="762.9" cy="1930.3" rx="3.7" ry="3.0"/><ellipse cx="671.9" cy="1844.3" rx="4.7" ry="4.2"/><ellipse cx="654.6" cy="1637.8" rx="4.2" ry="4.2"/><ellipse cx="633.2" cy="1782.5" rx="2.6" ry="2.6"/><ellipse cx="630.8" cy="1741.7" rx="5.0" ry="4.9"/><ellipse cx="629.3" cy="1730.4" rx="3.2" ry="2.1"/><ellipse cx="809.1" cy="1928.2" rx="4.2" ry="3.5"/><ellipse cx="684.4" cy="1854.6" rx="3.3" ry="2.8"/><ellipse cx="645.9" cy="1715.9" rx="3.4" ry="2.8"/><ellipse cx="831.9" cy="1916.3" rx="2.1" ry="2.0"/><ellipse cx="769.4" cy="1922.6" rx="2.8" ry="2.4"/><ellipse cx="646.5" cy="1728.7" rx="4.2" ry="4.3"/><ellipse cx="785.0" cy="1951.4" rx="2.4" ry="2.1"/><ellipse cx="655.0" cy="1694.2" rx="4.0" ry="4.2"/><ellipse cx="676.3" cy="1891.0" rx="2.5" ry="2.0"/><ellipse cx="631.5" cy="1785.5" rx="3.9" ry="3.2"/><ellipse cx="747.6" cy="1939.6" rx="1.5" ry="1.1"/><ellipse cx="789.6" cy="1934.8" rx="4.8" ry="3.5"/><ellipse cx="674.6" cy="1874.2" rx="3.2" ry="3.1"/><ellipse cx="705.5" cy="1896.1" rx="3.4" ry="2.5"/><ellipse cx="666.7" cy="1846.9" rx="2.6" ry="2.7"/><ellipse cx="704.2" cy="1909.1" rx="3.2" ry="2.7"/><ellipse cx="658.1" cy="1799.3" rx="2.0" ry="1.3"/><ellipse cx="830.9" cy="1938.5" rx="2.6" ry="2.7"/><ellipse cx="642.9" cy="1829.4" rx="2.3" ry="2.7"/><ellipse cx="658.5" cy="1708.6" rx="5.0" ry="3.1"/><ellipse cx="638.6" cy="1741.8" rx="3.3" ry="3.5"/><ellipse cx="635.0" cy="1766.9" rx="3.4" ry="3.6"/><ellipse cx="631.3" cy="1679.7" rx="2.0" ry="2.2"/><ellipse cx="761.3" cy="1918.9" rx="2.5" ry="1.8"/><ellipse cx="636.6" cy="1749.9" rx="2.2" ry="2.3"/><ellipse cx="652.3" cy="1685.7" rx="5.2" ry="3.6"/><ellipse cx="704.5" cy="1878.4" rx="4.4" ry="4.5"/><ellipse cx="808.8" cy="1920.9" rx="4.1" ry="4.4"/><ellipse cx="639.9" cy="1840.2" rx="3.4" ry="3.4"/><ellipse cx="650.1" cy="1868.6" rx="2.3" ry="2.1"/><ellipse cx="634.0" cy="1735.5" rx="4.6" ry="4.2"/><ellipse cx="647.3" cy="1836.9" rx="4.6" ry="4.3"/><ellipse cx="649.6" cy="1723.5" rx="4.0" ry="3.9"/><ellipse cx="758.1" cy="1931.8" rx="2.7" ry="2.3"/><ellipse cx="656.4" cy="1738.1" rx="4.8" ry="5.7"/><ellipse cx="653.2" cy="1706.2" rx="3.7" ry="4.0"/><ellipse cx="655.8" cy="1808.6" rx="2.3" ry="1.9"/><ellipse cx="729.1" cy="1904.5" rx="4.5" ry="5.2"/><ellipse cx="645.9" cy="1811.7" rx="4.8" ry="5.5"/><ellipse cx="661.7" cy="1636.5" rx="3.4" ry="3.2"/><ellipse cx="634.6" cy="1780.6" rx="2.8" ry="3.3"/><ellipse cx="664.6" cy="1650.8" rx="3.4" ry="3.9"/><ellipse cx="637.8" cy="1772.7" rx="4.9" ry="5.1"/><ellipse cx="639.0" cy="1730.8" rx="4.0" ry="4.0"/><ellipse cx="642.1" cy="1658.2" rx="2.3" ry="2.5"/><ellipse cx="740.4" cy="1930.3" rx="1.8" ry="1.9"/><ellipse cx="733.9" cy="1928.3" rx="1.7" ry="1.8"/><ellipse cx="678.2" cy="1879.5" rx="3.4" ry="3.1"/><ellipse cx="686.6" cy="1895.5" rx="2.9" ry="3.4"/><ellipse cx="750.4" cy="1937.4" rx="4.4" ry="5.1"/><ellipse cx="659.0" cy="1651.5" rx="2.3" ry="2.4"/><ellipse cx="814.3" cy="1925.1" rx="5.1" ry="3.9"/><ellipse cx="811.1" cy="1936.1" rx="3.8" ry="3.0"/><ellipse cx="638.7" cy="1716.3" rx="3.6" ry="2.5"/><ellipse cx="647.7" cy="1742.1" rx="2.1" ry="2.1"/><ellipse cx="666.5" cy="1697.0" rx="1.6" ry="1.2"/><ellipse cx="642.4" cy="1758.7" rx="1.8" ry="1.9"/><ellipse cx="633.6" cy="1703.4" rx="4.9" ry="3.0"/><ellipse cx="769.8" cy="1919.4" rx="4.4" ry="5.1"/><ellipse cx="629.1" cy="1804.7" rx="4.0" ry="4.6"/><ellipse cx="690.3" cy="1894.8" rx="1.6" ry="1.1"/><ellipse cx="666.9" cy="1822.2" rx="3.8" ry="2.9"/><ellipse cx="768.4" cy="1915.4" rx="4.1" ry="4.7"/><ellipse cx="719.6" cy="1911.6" rx="3.7" ry="4.0"/><ellipse cx="635.7" cy="1851.9" rx="2.0" ry="2.1"/><ellipse cx="641.4" cy="1726.0" rx="3.1" ry="3.5"/><ellipse cx="636.9" cy="1685.1" rx="2.1" ry="2.5"/><ellipse cx="664.3" cy="1850.7" rx="3.3" ry="2.8"/><ellipse cx="795.5" cy="1929.2" rx="4.5" ry="2.7"/><ellipse cx="751.4" cy="1920.8" rx="5.0" ry="5.8"/><ellipse cx="637.8" cy="1853.1" rx="4.3" ry="4.3"/><ellipse cx="745.4" cy="1917.1" rx="2.6" ry="2.5"/><ellipse cx="670.2" cy="1631.8" rx="1.9" ry="1.2"/><ellipse cx="721.4" cy="1923.1" rx="2.5" ry="2.9"/><ellipse cx="684.5" cy="1855.6" rx="2.8" ry="2.9"/><ellipse cx="650.0" cy="1725.2" rx="5.0" ry="3.3"/><ellipse cx="810.1" cy="1950.5" rx="2.3" ry="1.8"/><ellipse cx="665.5" cy="1816.7" rx="4.1" ry="4.6"/><ellipse cx="802.5" cy="1925.6" rx="4.9" ry="5.3"/><ellipse cx="651.3" cy="1824.7" rx="3.5" ry="3.1"/><ellipse cx="658.3" cy="1682.2" rx="4.1" ry="3.0"/><ellipse cx="702.8" cy="1887.5" rx="3.9" ry="4.2"/><ellipse cx="707.7" cy="1918.2" rx="4.5" ry="4.9"/><ellipse cx="749.0" cy="1917.9" rx="2.3" ry="2.7"/><ellipse cx="772.8" cy="1927.8" rx="4.7" ry="4.5"/><ellipse cx="814.7" cy="1955.5" rx="5.2" ry="6.2"/><ellipse cx="710.3" cy="1918.1" rx="2.3" ry="2.2"/><ellipse cx="669.6" cy="1880.7" rx="5.3" ry="5.5"/><ellipse cx="657.1" cy="1644.6" rx="4.9" ry="4.4"/><ellipse cx="633.7" cy="1784.2" rx="2.7" ry="2.2"/><ellipse cx="646.0" cy="1768.1" rx="2.4" ry="1.6"/><ellipse cx="639.7" cy="1746.6" rx="3.1" ry="2.0"/><ellipse cx="637.0" cy="1781.8" rx="1.6" ry="1.8"/><ellipse cx="625.1" cy="1703.1" rx="1.6" ry="1.5"/><ellipse cx="657.9" cy="1651.2" rx="4.3" ry="3.7"/><ellipse cx="652.6" cy="1722.8" rx="3.9" ry="2.8"/><ellipse cx="697.8" cy="1885.7" rx="4.5" ry="4.8"/><ellipse cx="638.2" cy="1698.9" rx="1.7" ry="1.2"/><ellipse cx="820.1" cy="1921.2" rx="3.7" ry="2.8"/><ellipse cx="654.5" cy="1636.4" rx="3.9" ry="2.4"/><ellipse cx="761.2" cy="1924.6" rx="2.3" ry="1.7"/><ellipse cx="667.3" cy="1818.7" rx="3.3" ry="3.1"/><ellipse cx="669.3" cy="1826.8" rx="3.0" ry="2.4"/><ellipse cx="656.1" cy="1640.9" rx="4.8" ry="3.1"/><ellipse cx="751.7" cy="1921.1" rx="1.6" ry="1.2"/><ellipse cx="649.7" cy="1676.8" rx="2.5" ry="2.6"/><ellipse cx="636.4" cy="1846.7" rx="3.1" ry="2.0"/><ellipse cx="698.5" cy="1907.9" rx="2.4" ry="2.8"/><ellipse cx="632.2" cy="1759.3" rx="4.1" ry="3.3"/><ellipse cx="801.3" cy="1954.9" rx="5.1" ry="5.5"/><ellipse cx="644.9" cy="1722.8" rx="2.1" ry="2.2"/><ellipse cx="827.4" cy="1920.0" rx="3.7" ry="3.0"/><ellipse cx="661.5" cy="1872.7" rx="2.2" ry="2.1"/><ellipse cx="640.4" cy="1715.4" rx="4.9" ry="5.1"/><ellipse cx="791.5" cy="1923.0" rx="4.6" ry="2.8"/><ellipse cx="683.6" cy="1864.9" rx="3.6" ry="2.6"/><ellipse cx="732.6" cy="1913.5" rx="3.8" ry="3.5"/><ellipse cx="667.7" cy="1660.8" rx="4.7" ry="3.2"/><ellipse cx="764.3" cy="1929.2" rx="1.6" ry="1.1"/><ellipse cx="682.6" cy="1883.1" rx="4.2" ry="3.9"/><ellipse cx="651.4" cy="1709.9" rx="5.0" ry="4.5"/><ellipse cx="689.0" cy="1852.4" rx="1.5" ry="1.4"/><ellipse cx="637.0" cy="1788.7" rx="1.9" ry="1.9"/><ellipse cx="634.5" cy="1697.9" rx="2.1" ry="2.0"/><ellipse cx="737.5" cy="1911.2" rx="1.6" ry="1.2"/><ellipse cx="826.9" cy="1930.1" rx="2.2" ry="1.8"/><ellipse cx="684.1" cy="1848.1" rx="1.9" ry="1.1"/><ellipse cx="648.2" cy="1814.1" rx="1.6" ry="1.6"/><ellipse cx="789.2" cy="1919.4" rx="1.6" ry="1.8"/><ellipse cx="647.7" cy="1733.7" rx="3.9" ry="2.6"/><ellipse cx="659.8" cy="1712.9" rx="2.4" ry="1.6"/><ellipse cx="650.0" cy="1652.8" rx="1.5" ry="1.4"/><ellipse cx="718.0" cy="1909.1" rx="1.9" ry="1.2"/><ellipse cx="660.8" cy="1682.1" rx="3.7" ry="3.8"/><ellipse cx="636.7" cy="1695.7" rx="4.0" ry="2.7"/><ellipse cx="698.8" cy="1873.9" rx="4.5" ry="4.5"/><ellipse cx="648.4" cy="1681.8" rx="4.0" ry="2.8"/><ellipse cx="646.7" cy="1793.8" rx="3.9" ry="3.9"/><ellipse cx="736.3" cy="1912.5" rx="2.4" ry="1.8"/><ellipse cx="657.7" cy="1724.2" rx="1.9" ry="1.7"/><ellipse cx="672.3" cy="1631.4" rx="2.0" ry="1.7"/><ellipse cx="681.4" cy="1863.4" rx="2.6" ry="2.0"/><ellipse cx="650.2" cy="1798.7" rx="3.9" ry="3.7"/><ellipse cx="709.5" cy="1902.6" rx="4.9" ry="4.5"/><ellipse cx="712.0" cy="1894.1" rx="5.0" ry="5.2"/><ellipse cx="664.0" cy="1654.2" rx="2.0" ry="2.0"/><ellipse cx="657.2" cy="1717.4" rx="4.7" ry="2.9"/><ellipse cx="668.2" cy="1826.2" rx="2.4" ry="1.7"/><ellipse cx="662.3" cy="1876.0" rx="5.1" ry="5.5"/><ellipse cx="653.1" cy="1809.5" rx="3.4" ry="3.4"/><ellipse cx="703.5" cy="1888.8" rx="4.1" ry="4.6"/><ellipse cx="647.6" cy="1866.7" rx="3.6" ry="2.7"/><ellipse cx="791.8" cy="1923.2" rx="2.7" ry="3.0"/><ellipse cx="665.8" cy="1658.6" rx="2.6" ry="2.1"/><ellipse cx="747.6" cy="1928.1" rx="2.1" ry="1.7"/><ellipse cx="638.6" cy="1815.9" rx="5.2" ry="4.1"/><ellipse cx="738.1" cy="1923.8" rx="2.7" ry="1.8"/><ellipse cx="775.8" cy="1929.9" rx="3.9" ry="2.9"/><ellipse cx="659.5" cy="1693.7" rx="3.6" ry="4.3"/><ellipse cx="670.4" cy="1836.6" rx="3.0" ry="2.9"/><ellipse cx="639.2" cy="1762.9" rx="3.3" ry="3.3"/><ellipse cx="652.4" cy="1785.9" rx="3.8" ry="2.6"/><ellipse cx="749.1" cy="1914.0" rx="2.9" ry="1.8"/><ellipse cx="830.7" cy="1931.6" rx="3.7" ry="2.6"/></g><g fill="none" stroke="#808080" stroke-width="3.8"><ellipse cx="234.5" cy="455.8" rx="6.4" ry="5.3"/><ellipse cx="906.1" cy="140.4" rx="8.7" ry="5.5"/><ellipse cx="903.0" cy="1928.8" rx="14.0" ry="4.0"/><ellipse cx="782.1" cy="1947.2" rx="3.7" ry="4.3"/><ellipse cx="818.3" cy="1912.8" rx="3.4" ry="3.3"/><ellipse cx="803.5" cy="1913.7" rx="2.2" ry="1.6"/><ellipse cx="767.1" cy="1916.5" rx="3.9" ry="2.8"/><ellipse cx="698.6" cy="1918.3" rx="5.3" ry="6.1"/><ellipse cx="661.3" cy="1719.2" rx="4.7" ry="5.4"/><ellipse cx="680.8" cy="1900.1" rx="2.1" ry="1.5"/><ellipse cx="648.4" cy="1805.2" rx="2.9" ry="1.9"/><ellipse cx="782.8" cy="1935.9" rx="3.5" ry="3.1"/><ellipse cx="649.2" cy="1885.9" rx="4.2" ry="3.8"/><ellipse cx="660.1" cy="1815.1" rx="3.2" ry="3.7"/><ellipse cx="757.4" cy="1940.4" rx="3.4" ry="4.0"/><ellipse cx="644.6" cy="1859.2" rx="5.2" ry="5.0"/><ellipse cx="631.2" cy="1827.2" rx="3.8" ry="3.4"/><ellipse cx="669.8" cy="1852.2" rx="4.6" ry="5.1"/><ellipse cx="627.6" cy="1680.1" rx="2.1" ry="1.8"/><ellipse cx="808.5" cy="1941.8" rx="3.8" ry="4.1"/><ellipse cx="737.8" cy="1925.7" rx="4.0" ry="4.2"/><ellipse cx="645.5" cy="1801.1" rx="5.2" ry="4.2"/><ellipse cx="632.5" cy="1719.9" rx="4.0" ry="3.3"/><ellipse cx="799.5" cy="1957.8" rx="4.0" ry="3.6"/><ellipse cx="701.2" cy="1898.3" rx="2.8" ry="3.0"/><ellipse cx="623.5" cy="1737.9" rx="4.1" ry="4.5"/><ellipse cx="637.5" cy="1689.0" rx="1.6" ry="1.8"/><ellipse cx="649.6" cy="1640.6" rx="2.2" ry="2.4"/><ellipse cx="637.3" cy="1699.9" rx="2.5" ry="2.7"/><ellipse cx="638.8" cy="1667.1" rx="5.1" ry="3.5"/><ellipse cx="668.1" cy="1693.6" rx="4.5" ry="3.3"/><ellipse cx="805.5" cy="1949.6" rx="4.7" ry="3.0"/><ellipse cx="636.0" cy="1846.8" rx="5.0" ry="4.7"/><ellipse cx="643.7" cy="1867.2" rx="1.6" ry="1.6"/><ellipse cx="750.2" cy="1920.3" rx="4.6" ry="4.5"/><ellipse cx="702.8" cy="1894.8" rx="1.9" ry="1.3"/><ellipse cx="644.1" cy="1730.2" rx="2.8" ry="1.8"/><ellipse cx="658.8" cy="1788.1" rx="4.5" ry="5.4"/><ellipse cx="654.1" cy="1761.8" rx="4.2" ry="4.3"/><ellipse cx="631.8" cy="1823.0" rx="1.7" ry="1.5"/><ellipse cx="673.5" cy="1681.5" rx="1.9" ry="1.2"/><ellipse cx="635.3" cy="1659.3" rx="2.2" ry="1.7"/><ellipse cx="713.0" cy="1896.1" rx="3.4" ry="3.2"/><ellipse cx="717.2" cy="1892.6" rx="3.0" ry="3.1"/><ellipse cx="660.8" cy="1793.0" rx="3.7" ry="3.4"/><ellipse cx="703.8" cy="1869.9" rx="3.5" ry="2.1"/><ellipse cx="623.6" cy="1730.4" rx="3.2" ry="2.4"/><ellipse cx="664.6" cy="1713.6" rx="4.2" ry="2.6"/><ellipse cx="716.8" cy="1904.8" rx="4.3" ry="4.7"/><ellipse cx="629.8" cy="1769.5" rx="1.9" ry="1.5"/><ellipse cx="695.7" cy="1916.1" rx="2.9" ry="3.4"/><ellipse cx="641.4" cy="1702.9" rx="2.7" ry="1.6"/><ellipse cx="656.2" cy="1674.6" rx="2.7" ry="2.8"/><ellipse cx="631.9" cy="1827.9" rx="2.4" ry="2.6"/><ellipse cx="773.1" cy="1920.3" rx="2.9" ry="2.0"/><ellipse cx="825.6" cy="1963.4" rx="3.7" ry="4.2"/><ellipse cx="625.8" cy="1749.8" rx="3.1" ry="3.2"/><ellipse cx="783.0" cy="1935.3" rx="3.6" ry="2.4"/><ellipse cx="819.5" cy="1963.4" rx="2.6" ry="2.9"/><ellipse cx="682.3" cy="1843.7" rx="4.4" ry="5.0"/><ellipse cx="682.8" cy="1912.8" rx="3.5" ry="2.6"/><ellipse cx="672.4" cy="1646.3" rx="2.5" ry="1.9"/><ellipse cx="814.3" cy="1935.9" rx="4.3" ry="4.4"/><ellipse cx="676.6" cy="1888.6" rx="4.7" ry="5.6"/><ellipse cx="643.2" cy="1694.2" rx="4.7" ry="5.3"/><ellipse cx="738.6" cy="1930.8" rx="4.5" ry="4.2"/><ellipse cx="655.5" cy="1763.0" rx="2.7" ry="2.2"/><ellipse cx="773.2" cy="1934.2" rx="2.2" ry="1.9"/><ellipse cx="701.6" cy="1922.0" rx="5.0" ry="5.6"/><ellipse cx="645.6" cy="1831.2" rx="3.5" ry="2.2"/><ellipse cx="725.5" cy="1906.5" rx="4.2" ry="2.5"/><ellipse cx="635.2" cy="1659.3" rx="2.5" ry="2.5"/><ellipse cx="811.2" cy="1949.6" rx="4.0" ry="4.5"/><ellipse cx="638.9" cy="1767.8" rx="5.3" ry="3.7"/><ellipse cx="720.7" cy="1918.1" rx="3.8" ry="3.4"/><ellipse cx="717.6" cy="1914.2" rx="1.9" ry="1.3"/><ellipse cx="672.2" cy="1893.9" rx="3.1" ry="3.0"/><ellipse cx="642.0" cy="1663.6" rx="1.6" ry="1.2"/><ellipse cx="786.7" cy="1916.5" rx="3.9" ry="4.2"/><ellipse cx="622.2" cy="1702.6" rx="3.0" ry="1.9"/><ellipse cx="720.7" cy="1908.9" rx="2.7" ry="2.0"/><ellipse cx="653.5" cy="1642.1" rx="4.7" ry="4.6"/><ellipse cx="782.0" cy="1925.7" rx="1.6" ry="1.3"/><ellipse cx="734.9" cy="1907.7" rx="3.5" ry="3.4"/><ellipse cx="732.2" cy="1933.8" rx="2.3" ry="2.6"/><ellipse cx="641.4" cy="1805.9" rx="2.8" ry="1.7"/><ellipse cx="639.2" cy="1686.5" rx="3.0" ry="3.1"/><ellipse cx="653.0" cy="1649.9" rx="3.9" ry="3.8"/><ellipse cx="792.5" cy="1916.7" rx="2.4" ry="1.7"/><ellipse cx="621.8" cy="1721.9" rx="3.0" ry="3.1"/><ellipse cx="635.6" cy="1694.6" rx="2.9" ry="3.1"/><ellipse cx="712.7" cy="1886.1" rx="3.5" ry="4.1"/><ellipse cx="683.1" cy="1860.4" rx="5.0" ry="4.7"/><ellipse cx="792.5" cy="1952.1" rx="3.8" ry="3.2"/><ellipse cx="662.3" cy="1697.3" rx="3.4" ry="3.2"/><ellipse cx="746.8" cy="1923.8" rx="3.5" ry="3.9"/><ellipse cx="761.4" cy="1938.7" rx="3.3" ry="3.0"/><ellipse cx="671.1" cy="1702.3" rx="2.4" ry="2.7"/><ellipse cx="645.4" cy="1766.7" rx="2.4" ry="1.5"/><ellipse cx="644.7" cy="1871.8" rx="1.9" ry="1.3"/><ellipse cx="732.2" cy="1930.5" rx="2.2" ry="2.1"/><ellipse cx="668.5" cy="1875.0" rx="3.7" ry="4.3"/><ellipse cx="659.4" cy="1683.0" rx="5.2" ry="4.6"/><ellipse cx="635.5" cy="1753.1" rx="4.2" ry="4.8"/><ellipse cx="691.2" cy="1889.8" rx="5.2" ry="4.7"/><ellipse cx="657.7" cy="1729.1" rx="3.5" ry="3.8"/><ellipse cx="814.0" cy="1916.1" rx="3.2" ry="3.2"/><ellipse cx="762.9" cy="1938.7" rx="2.5" ry="2.9"/><ellipse cx="653.6" cy="1723.9" rx="2.6" ry="2.0"/><ellipse cx="830.6" cy="1954.0" rx="3.3" ry="3.0"/><ellipse cx="690.4" cy="1877.1" rx="3.7" ry="2.4"/><ellipse cx="794.3" cy="1921.6" rx="4.3" ry="4.7"/><ellipse cx="811.9" cy="1909.9" rx="2.2" ry="1.5"/><ellipse cx="676.4" cy="1905.5" rx="2.1" ry="1.8"/><ellipse cx="662.4" cy="1814.0" rx="4.4" ry="5.2"/><ellipse cx="641.7" cy="1814.3" rx="4.8" ry="3.9"/><ellipse cx="636.5" cy="1820.6" rx="2.7" ry="1.9"/><ellipse cx="636.8" cy="1831.8" rx="3.4" ry="2.7"/><ellipse cx="809.0" cy="1943.0" rx="1.8" ry="1.6"/><ellipse cx="641.4" cy="1733.5" rx="2.9" ry="3.3"/><ellipse cx="655.1" cy="1669.4" rx="1.5" ry="1.6"/><ellipse cx="731.8" cy="1910.8" rx="2.4" ry="1.7"/><ellipse cx="745.5" cy="1938.2" rx="2.3" ry="1.9"/><ellipse cx="635.4" cy="1657.0" rx="3.8" ry="3.7"/><ellipse cx="707.9" cy="1894.5" rx="1.5" ry="1.5"/><ellipse cx="640.5" cy="1800.8" rx="3.5" ry="4.2"/><ellipse cx="623.7" cy="1744.4" rx="1.9" ry="1.9"/><ellipse cx="750.3" cy="1908.4" rx="4.4" ry="3.4"/><ellipse cx="631.5" cy="1666.9" rx="3.3" ry="4.0"/><ellipse cx="657.7" cy="1741.5" rx="5.1" ry="5.9"/><ellipse cx="830.3" cy="1958.7" rx="4.5" ry="5.1"/><ellipse cx="816.7" cy="1924.5" rx="4.4" ry="4.4"/><ellipse cx="646.0" cy="1729.2" rx="2.6" ry="2.1"/><ellipse cx="820.9" cy="1922.8" rx="3.5" ry="2.2"/><ellipse cx="704.0" cy="1902.8" rx="2.9" ry="2.2"/><ellipse cx="723.2" cy="1893.9" rx="5.0" ry="5.9"/><ellipse cx="670.2" cy="1646.8" rx="3.0" ry="2.2"/><ellipse cx="651.8" cy="1868.7" rx="3.7" ry="3.0"/><ellipse cx="686.3" cy="1888.1" rx="1.8" ry="1.6"/><ellipse cx="810.6" cy="1949.4" rx="2.2" ry="2.6"/><ellipse cx="678.5" cy="1857.6" rx="5.2" ry="4.8"/><ellipse cx="794.1" cy="1959.6" rx="5.1" ry="5.3"/><ellipse cx="802.2" cy="1953.0" rx="4.1" ry="3.2"/><ellipse cx="705.3" cy="1905.8" rx="4.4" ry="3.4"/><ellipse cx="637.5" cy="1726.7" rx="1.8" ry="1.6"/><ellipse cx="684.6" cy="1891.7" rx="1.7" ry="1.1"/><ellipse cx="778.4" cy="1922.0" rx="2.9" ry="2.6"/><ellipse cx="701.5" cy="1902.0" rx="4.8" ry="3.1"/><ellipse cx="668.8" cy="1641.5" rx="4.5" ry="5.2"/><ellipse cx="745.6" cy="1908.7" rx="2.7" ry="1.8"/><ellipse cx="769.5" cy="1950.4" rx="3.6" ry="2.3"/><ellipse cx="656.2" cy="1763.9" rx="4.9" ry="4.8"/><ellipse cx="686.2" cy="1895.3" rx="3.0" ry="3.5"/><ellipse cx="638.3" cy="1808.5" rx="4.5" ry="5.1"/><ellipse cx="663.5" cy="1828.1" rx="3.8" ry="2.6"/><ellipse cx="656.9" cy="1797.3" rx="3.9" ry="2.7"/><ellipse cx="666.6" cy="1630.7" rx="2.7" ry="2.3"/><ellipse cx="664.5" cy="1803.8" rx="1.9" ry="1.8"/><ellipse cx="666.4" cy="1678.0" rx="5.2" ry="4.8"/><ellipse cx="675.5" cy="1670.4" rx="2.3" ry="2.2"/><ellipse cx="788.9" cy="1919.9" rx="3.2" ry="3.2"/><ellipse cx="707.0" cy="1877.8" rx="3.8" ry="2.3"/><ellipse cx="640.0" cy="1677.0" rx="4.4" ry="4.3"/><ellipse cx="713.5" cy="1901.0" rx="1.7" ry="1.8"/><ellipse cx="636.7" cy="1836.6" rx="4.8" ry="4.1"/><ellipse cx="650.2" cy="1689.2" rx="3.4" ry="3.4"/><ellipse cx="649.6" cy="1725.7" rx="2.1" ry="1.3"/><ellipse cx="688.7" cy="1854.6" rx="4.4" ry="3.8"/><ellipse cx="677.5" cy="1833.4" rx="4.1" ry="4.6"/><ellipse cx="644.3" cy="1767.8" rx="3.9" ry="2.5"/><ellipse cx="663.3" cy="1804.8" rx="2.5" ry="2.1"/><ellipse cx="666.9" cy="1866.2" rx="2.0" ry="2.0"/><ellipse cx="647.5" cy="1741.2" rx="4.1" ry="4.6"/><ellipse cx="793.5" cy="1921.5" rx="2.7" ry="2.7"/><ellipse cx="668.2" cy="1656.4" rx="3.7" ry="3.3"/><ellipse cx="645.3" cy="1773.2" rx="2.6" ry="1.8"/><ellipse cx="678.5" cy="1684.1" rx="4.1" ry="4.0"/><ellipse cx="637.7" cy="1744.3" rx="2.6" ry="2.4"/><ellipse cx="667.6" cy="1693.6" rx="3.6" ry="3.5"/><ellipse cx="662.0" cy="1793.3" rx="2.6" ry="2.0"/><ellipse cx="674.8" cy="1895.9" rx="1.6" ry="1.0"/><ellipse cx="835.5" cy="1939.3" rx="2.5" ry="2.5"/><ellipse cx="656.5" cy="1635.5" rx="2.9" ry="3.2"/><ellipse cx="654.3" cy="1890.1" rx="2.6" ry="2.4"/><ellipse cx="819.9" cy="1963.4" rx="1.8" ry="1.8"/><ellipse cx="624.8" cy="1740.1" rx="3.4" ry="3.4"/><ellipse cx="641.3" cy="1835.5" rx="4.1" ry="3.4"/><ellipse cx="671.1" cy="1847.0" rx="4.7" ry="3.4"/><ellipse cx="656.7" cy="1743.7" rx="4.3" ry="5.2"/><ellipse cx="627.6" cy="1673.5" rx="4.0" ry="4.1"/><ellipse cx="805.4" cy="1936.5" rx="5.2" ry="4.9"/><ellipse cx="630.6" cy="1685.7" rx="2.4" ry="2.4"/><ellipse cx="680.0" cy="1835.6" rx="3.3" ry="3.5"/><ellipse cx="630.7" cy="1806.5" rx="3.9" ry="3.9"/><ellipse cx="641.8" cy="1798.2" rx="4.6" ry="3.4"/><ellipse cx="653.8" cy="1764.3" rx="3.5" ry="2.9"/><ellipse cx="661.0" cy="1845.0" rx="3.2" ry="3.4"/><ellipse cx="651.0" cy="1764.9" rx="4.1" ry="4.7"/><ellipse cx="755.0" cy="1929.6" rx="5.3" ry="4.0"/><ellipse cx="718.0" cy="1917.8" rx="2.3" ry="2.4"/><ellipse cx="711.8" cy="1912.0" rx="2.8" ry="2.3"/><ellipse cx="722.8" cy="1926.8" rx="4.0" ry="4.3"/><ellipse cx="743.2" cy="1934.1" rx="3.7" ry="4.0"/><ellipse cx="692.0" cy="1864.9" rx="3.1" ry="2.0"/><ellipse cx="746.7" cy="1910.8" rx="4.9" ry="5.2"/><ellipse cx="725.4" cy="1920.5" rx="2.9" ry="2.4"/><ellipse cx="653.8" cy="1794.7" rx="5.1" ry="5.6"/><ellipse cx="652.7" cy="1803.9" rx="2.5" ry="1.8"/><ellipse cx="648.2" cy="1759.6" rx="2.7" ry="2.8"/><ellipse cx="630.3" cy="1737.0" rx="1.7" ry="1.9"/><ellipse cx="702.5" cy="1905.9" rx="3.0" ry="2.6"/><ellipse cx="630.0" cy="1740.9" rx="3.6" ry="3.3"/><ellipse cx="659.7" cy="1800.3" rx="2.4" ry="1.9"/><ellipse cx="776.2" cy="1926.9" rx="3.1" ry="3.4"/><ellipse cx="670.9" cy="1821.5" rx="4.9" ry="5.4"/><ellipse cx="663.3" cy="1843.5" rx="4.4" ry="5.1"/><ellipse cx="673.8" cy="1894.1" rx="4.3" ry="4.5"/><ellipse cx="721.2" cy="1929.0" rx="2.1" ry="1.9"/><ellipse cx="658.0" cy="1651.8" rx="4.9" ry="3.2"/><ellipse cx="679.9" cy="1833.2" rx="4.8" ry="4.3"/><ellipse cx="658.8" cy="1816.5" rx="1.6" ry="1.3"/><ellipse cx="820.1" cy="1960.2" rx="3.1" ry="2.4"/><ellipse cx="650.8" cy="1762.2" rx="2.1" ry="1.9"/><ellipse cx="661.4" cy="1690.5" rx="3.1" ry="3.0"/><ellipse cx="635.8" cy="1708.0" rx="3.7" ry="2.5"/><ellipse cx="726.7" cy="1930.8" rx="1.6" ry="1.5"/><ellipse cx="650.8" cy="1829.4" rx="3.2" ry="2.1"/><ellipse cx="660.2" cy="1798.8" rx="4.8" ry="5.5"/><ellipse cx="811.2" cy="1958.0" rx="3.4" ry="2.2"/><ellipse cx="643.8" cy="1671.2" rx="3.4" ry="4.0"/><ellipse cx="750.2" cy="1937.5" rx="2.7" ry="2.9"/><ellipse cx="792.9" cy="1959.4" rx="1.5" ry="1.0"/><ellipse cx="737.3" cy="1937.4" rx="3.0" ry="2.3"/><ellipse cx="735.4" cy="1927.2" rx="2.4" ry="2.4"/><ellipse cx="672.3" cy="1657.8" rx="4.4" ry="2.8"/><ellipse cx="778.7" cy="1918.0" rx="5.0" ry="4.1"/><ellipse cx="729.6" cy="1927.3" rx="3.9" ry="2.7"/><ellipse cx="660.8" cy="1784.7" rx="2.5" ry="1.6"/><ellipse cx="703.6" cy="1918.0" rx="3.4" ry="2.2"/><ellipse cx="669.9" cy="1669.0" rx="4.0" ry="3.4"/><ellipse cx="634.8" cy="1698.8" rx="3.1" ry="3.1"/><ellipse cx="657.8" cy="1628.2" rx="5.2" ry="3.5"/><ellipse cx="649.6" cy="1831.9" rx="3.6" ry="3.0"/><ellipse cx="671.4" cy="1649.9" rx="5.3" ry="5.2"/><ellipse cx="656.0" cy="1638.6" rx="2.3" ry="1.6"/><ellipse cx="665.3" cy="1863.9" rx="2.1" ry="1.8"/><ellipse cx="666.7" cy="1842.1" rx="1.9" ry="2.0"/><ellipse cx="642.3" cy="1735.0" rx="4.1" ry="3.0"/><ellipse cx="714.9" cy="1926.0" rx="2.9" ry="2.6"/><ellipse cx="832.0" cy="1926.1" rx="4.4" ry="3.0"/><ellipse cx="722.0" cy="1896.1" rx="2.1" ry="2.4"/><ellipse cx="657.0" cy="1631.1" rx="1.7" ry="1.8"/><ellipse cx="677.8" cy="1841.3" rx="3.7" ry="4.1"/><ellipse cx="700.2" cy="1897.3" rx="4.9" ry="4.3"/><ellipse cx="646.4" cy="1767.9" rx="4.9" ry="3.7"/><ellipse cx="789.6" cy="1914.7" rx="1.9" ry="1.4"/><ellipse cx="676.3" cy="1827.7" rx="2.3" ry="2.4"/><ellipse cx="836.4" cy="1966.3" rx="4.3" ry="4.0"/><ellipse cx="672.4" cy="1900.5" rx="4.5" ry="3.2"/><ellipse cx="648.9" cy="1710.0" rx="3.9" ry="2.9"/><ellipse cx="742.7" cy="1915.7" rx="5.2" ry="5.5"/><ellipse cx="712.6" cy="1927.9" rx="2.7" ry="1.7"/><ellipse cx="628.0" cy="1710.9" rx="3.1" ry="2.5"/><ellipse cx="670.6" cy="1825.7" rx="4.8" ry="3.3"/><ellipse cx="642.6" cy="1696.4" rx="3.5" ry="3.8"/><ellipse cx="674.4" cy="1867.2" rx="2.5" ry="2.0"/><ellipse cx="625.0" cy="1679.7" rx="1.7" ry="1.1"/><ellipse cx="746.6" cy="1937.0" rx="3.3" ry="2.9"/><ellipse cx="653.4" cy="1697.3" rx="4.5" ry="5.2"/><ellipse cx="696.1" cy="1900.8" rx="5.0" ry="5.0"/><ellipse cx="655.7" cy="1714.8" rx="3.9" ry="2.4"/><ellipse cx="709.9" cy="1879.2" rx="5.3" ry="4.6"/><ellipse cx="640.8" cy="1769.9" rx="4.6" ry="5.3"/><ellipse cx="698.6" cy="1892.7" rx="5.2" ry="4.9"/><ellipse cx="738.0" cy="1914.4" rx="4.0" ry="2.7"/><ellipse cx="744.2" cy="1936.6" rx="4.7" ry="4.0"/><ellipse cx="644.5" cy="1744.1" rx="4.1" ry="4.7"/><ellipse cx="654.9" cy="1817.6" rx="4.2" ry="4.7"/><ellipse cx="654.5" cy="1656.3" rx="3.7" ry="3.0"/><ellipse cx="829.4" cy="1960.7" rx="4.6" ry="3.1"/><ellipse cx="652.8" cy="1736.5" rx="4.1" ry="3.8"/><ellipse cx="656.2" cy="1839.9" rx="3.5" ry="3.5"/><ellipse cx="691.2" cy="1862.1" rx="2.0" ry="1.5"/><ellipse cx="779.2" cy="1937.9" rx="3.5" ry="2.3"/><ellipse cx="802.5" cy="1928.8" rx="1.7" ry="1.5"/><ellipse cx="711.7" cy="1919.7" rx="1.6" ry="1.0"/><ellipse cx="657.5" cy="1816.7" rx="1.6" ry="1.1"/><ellipse cx="628.9" cy="1799.7" rx="3.7" ry="2.4"/><ellipse cx="720.7" cy="1904.9" rx="4.2" ry="2.8"/><ellipse cx="649.8" cy="1692.1" rx="5.2" ry="4.4"/><ellipse cx="659.5" cy="1716.6" rx="3.9" ry="4.5"/><ellipse cx="636.7" cy="1715.2" rx="5.2" ry="5.1"/><ellipse cx="651.6" cy="1647.0" rx="2.1" ry="2.2"/><ellipse cx="663.1" cy="1818.2" rx="1.6" ry="1.6"/><ellipse cx="668.9" cy="1629.8" rx="2.1" ry="1.5"/><ellipse cx="646.8" cy="1702.0" rx="3.3" ry="2.1"/><ellipse cx="781.3" cy="1944.2" rx="2.1" ry="1.9"/><ellipse cx="649.2" cy="1666.4" rx="5.3" ry="4.5"/><ellipse cx="661.6" cy="1718.2" rx="3.0" ry="2.0"/><ellipse cx="623.3" cy="1702.3" rx="1.9" ry="1.3"/></g><g fill="#808080" stroke="#808080" stroke-width="3"><ellipse cx="212.2" cy="442.4" rx="4.3" ry="4.3"/><ellipse cx="217.5" cy="458.4" rx="5.3" ry="4.8"/><ellipse cx="226.5" cy="423.8" rx="2.7" ry="2.7"/><ellipse cx="261.2" cy="461.1" rx="4.3" ry="3.7"/><ellipse cx="254.8" cy="476.0" rx="3.2" ry="2.7"/><ellipse cx="234.5" cy="474.4" rx="3.2" ry="2.7"/><ellipse cx="460.0" cy="331.6" rx="2.1" ry="2.1"/><ellipse cx="547.4" cy="359.8" rx="2.7" ry="2.7"/><ellipse cx="815.4" cy="113.1" rx="1.7" ry="1.7"/><ellipse cx="839.4" cy="119.7" rx="4.8" ry="3.1"/><ellipse cx="854.7" cy="119.7" rx="2.2" ry="1.7"/><ellipse cx="894.1" cy="117.9" rx="2.2" ry="2.0"/><ellipse cx="875.5" cy="142.6" rx="4.4" ry="3.1"/><ellipse cx="481.4" cy="1356.6" rx="3.0" ry="2.5"/><ellipse cx="529.0" cy="1353.4" rx="5.0" ry="3.5"/><ellipse cx="503.0" cy="1156.0" rx="2.5" ry="2.5"/><ellipse cx="656.2" cy="1484.0" rx="4.0" ry="4.0"/><ellipse cx="634.3" cy="1626.0" rx="4.0" ry="4.0"/><ellipse cx="625.6" cy="1658.8" rx="4.0" ry="4.0"/></g></g>
</g>
<path d="M246.40 1951.70v14.58M501.58 1951.70v14.58M756.76 1951.70v14.58M1011.94 1951.70v14.58M1267.12 1951.70v14.58M1522.30 1951.70v14.58M205.50 169.30h-14.58M205.50 441.00h-14.58M205.50 712.70h-14.58M205.50 984.40h-14.58M205.50 1256.10h-14.58M205.50 1527.80h-14.58M205.50 1799.50h-14.58" stroke="#000" stroke-width="3.333" fill="none"/>
<rect x="205.50" y="104.30" width="1447.90" height="1847.40" fill="none" stroke="#000" stroke-width="3.333"/>
<text x="246.40" y="2013.50" font-size="41.667" text-anchor="middle">−90</text>
<text x="501.58" y="2013.50" font-size="41.667" text-anchor="middle">−80</text>
<text x="756.76" y="2013.50" font-size="41.667" text-anchor="middle">−70</text>
<text x="1011.94" y="2013.50" font-size="41.667" text-anchor="middle">−60</text>
<text x="1267.12" y="2013.50" font-size="41.667" text-anchor="middle">−50</text>
<text x="1522.30" y="2013.50" font-size="41.667" text-anchor="middle">−40</text>
<text x="176.34" y="184.90" font-size="41.667" text-anchor="end">10</text>
<text x="176.34" y="456.60" font-size="41.667" text-anchor="end">0</text>
<text x="176.34" y="728.30" font-size="41.667" text-anchor="end">−10</text>
<text x="176.34" y="1000.00" font-size="41.667" text-anchor="end">−20</text>
<text x="176.34" y="1271.70" font-size="41.667" text-anchor="end">−30</text>
<text x="176.34" y="1543.40" font-size="41.667" text-anchor="end">−40</text>
<text x="176.34" y="1815.10" font-size="41.667" text-anchor="end">−50</text>
<text x="929.45" y="80.00" font-size="66.667" text-anchor="middle">SAFIRE BI Percentile Forecast (2025-10-08)</text>
<text x="929.45" y="2070.00" font-size="41.667" text-anchor="middle">longitude [degrees_east]</text>
<text transform="translate(60.90 1030.50) rotate(-90)" font-size="41.667" text-anchor="middle">latitude [degrees_north]</text>
<path d="M1746.10 188.27L1792.20 104.30L1838.30 188.27Z" fill="#a50026"/>
<path d="M1746.10 1867.73L1792.20 1951.70L1838.30 1867.73Z" fill="#313695"/>
<rect x="1746.10" y="188.27" width="92.20" height="560.32" fill="#f88c51"/>
<rect x="1746.10" y="748.09" width="92.20" height="560.32" fill="#fffebe"/>
<rect x="1746.10" y="1307.91" width="92.20" height="559.82" fill="#90c3dd"/>
<path d="M1746.10 188.27L1792.20 104.30L1838.30 188.27V1867.73L1792.20 1951.70L1746.10 1867.73Z" fill="none" stroke="#000" stroke-width="3.333" stroke-linejoin="miter"/>
<text x="1867.46" y="203.87" font-size="41.667">97</text>
<text x="1867.46" y="763.69" font-size="41.667">90</text>
<text x="1867.46" y="1323.51" font-size="41.667">80</text>
<text x="1867.46" y="1883.33" font-size="41.667">50</text>
<path d="M1838.30 188.27h14.58M1838.30 748.09h14.58M1838.30 1307.91h14.58M1838.30 1867.73h14.58" stroke="#000" stroke-width="3.333" fill="none"/>
<text transform="translate(1971.20 1033.50) rotate(-90)" font-size="41.667" text-anchor="middle">biperc</text>
</svg></body></html>
